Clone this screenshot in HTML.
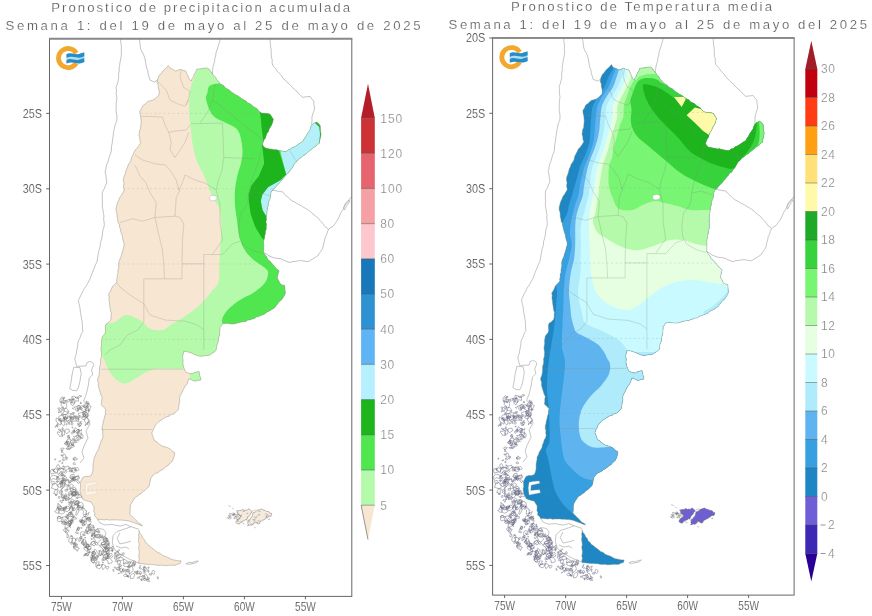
<!DOCTYPE html><html><head><meta charset="utf-8"><title>Pronostico</title><style>html,body{margin:0;padding:0;background:#fff}svg{display:block;will-change:transform}text{font-family:"Liberation Sans",sans-serif}</style></head><body>
<svg width="872" height="616" viewBox="0 0 872 616">
<rect width="872" height="616" fill="#fff"/>
<defs><clipPath id="cl"><path d="M168.3,65.5 L170.1,68.3 L173.0,69.4 L175.6,71.0 L178.0,70.3 L180.2,69.2 L182.9,70.2 L185.7,71.0 L187.5,74.7 L188.5,77.0 L189.4,79.3 L191.2,81.1 L191.9,78.9 L193.3,76.9 L194.0,74.7 L195.6,72.1 L196.7,69.2 L199.4,68.9 L202.1,68.6 L204.8,68.1 L207.5,68.0 L209.5,69.6 L210.9,71.8 L212.5,73.8 L213.9,75.8 L215.8,77.5 L216.8,79.9 L218.7,81.6 L220.0,83.8 L222.0,84.8 L224.0,85.9 L225.4,87.9 L227.4,88.9 L229.4,90.0 L231.4,91.9 L233.7,93.4 L236.0,95.0 L238.2,95.9 L240.1,97.4 L242.0,98.7 L244.0,100.0 L246.0,100.9 L247.4,102.8 L249.6,103.6 L251.5,104.7 L253.0,106.4 L255.0,107.4 L257.4,109.0 L259.1,111.4 L261.5,113.0 L264.2,113.3 L267.0,113.6 L269.7,113.9 L271.1,115.7 L272.2,117.6 L273.4,119.4 L272.7,121.9 L271.9,124.4 L270.6,126.7 L269.2,128.9 L268.5,131.4 L266.9,133.5 L266.0,135.9 L265.3,138.3 L263.8,140.3 L263.0,142.6 L262.4,145.0 L265.0,147.8 L267.3,148.5 L269.6,148.9 L271.9,149.2 L274.2,149.8 L276.6,149.7 L278.9,150.5 L281.3,150.8 L283.7,151.5 L286.2,151.5 L287.9,150.0 L290.1,149.3 L291.7,147.8 L294.6,146.7 L297.2,145.0 L299.9,143.1 L302.7,141.4 L304.0,139.0 L305.5,136.8 L306.8,134.4 L308.3,132.2 L309.9,130.0 L310.6,127.3 L311.9,124.9 L314.0,123.1 L316.5,122.1 L318.6,123.7 L320.2,125.8 L320.3,128.6 L320.4,131.3 L321.1,134.0 L320.7,136.3 L320.2,138.6 L319.7,140.9 L319.3,143.2 L317.3,144.5 L315.8,146.3 L313.7,147.5 L311.9,149.0 L310.1,150.5 L308.2,151.8 L306.6,153.5 L304.7,154.9 L302.7,156.0 L301.0,157.7 L298.8,159.0 L297.3,161.0 L295.4,162.5 L294.0,164.5 L292.8,166.7 L291.6,168.8 L289.9,170.7 L288.7,172.8 L286.6,174.2 L285.3,176.2 L283.5,177.9 L282.2,180.0 L280.4,181.6 L278.9,183.6 L277.2,185.3 L275.6,187.0 L274.3,189.0 L271.7,191.0 L270.7,193.6 L270.6,196.5 L269.9,199.2 L268.9,201.3 L268.4,203.5 L268.2,205.8 L267.4,207.9 L267.2,210.2 L266.9,212.6 L266.6,215.1 L266.2,217.5 L266.4,219.8 L265.9,222.1 L266.5,224.4 L266.2,226.7 L266.3,229.2 L265.3,231.5 L265.3,234.0 L264.6,236.3 L264.4,238.6 L263.7,240.8 L263.5,243.2 L263.9,245.5 L263.7,247.8 L263.7,250.1 L263.5,252.4 L265.1,254.8 L266.8,257.1 L268.0,259.7 L270.1,261.3 L271.8,263.3 L273.6,265.2 L275.2,267.3 L277.0,269.2 L279.1,270.7 L278.3,273.1 L277.9,275.6 L277.2,278.0 L278.8,280.7 L280.0,283.6 L282.1,284.9 L284.6,285.4 L284.9,287.8 L285.0,290.3 L285.5,292.7 L284.5,295.5 L282.8,298.0 L281.4,300.1 L279.4,301.6 L277.9,303.5 L276.3,305.4 L275.0,307.5 L273.0,308.7 L271.0,310.1 L269.0,311.2 L266.8,312.2 L265.0,313.8 L262.9,314.8 L260.7,315.5 L258.6,316.6 L256.3,317.1 L254.5,318.6 L252.1,319.0 L250.0,320.0 L247.8,320.1 L245.8,321.5 L243.6,321.5 L241.4,322.0 L239.2,322.4 L237.1,323.1 L235.0,323.8 L232.5,324.0 L230.0,323.8 L227.5,323.3 L225.0,323.4 L222.5,323.8 L221.5,325.8 L220.0,327.5 L220.0,330.0 L219.7,332.5 L219.5,335.1 L218.8,337.5 L218.3,340.0 L218.1,342.6 L216.9,344.9 L216.6,347.5 L216.2,350.0 L214.4,351.9 L212.1,353.3 L210.0,355.0 L207.5,355.5 L205.0,355.6 L202.5,356.2 L200.0,356.2 L197.4,355.6 L194.9,354.6 L192.5,353.5 L190.0,352.5 L186.9,351.7 L183.8,351.2 L183.1,354.4 L182.5,357.5 L183.2,359.9 L182.9,362.5 L183.1,365.0 L183.8,367.5 L184.8,370.1 L186.2,372.5 L189.3,373.4 L192.5,373.8 L194.4,372.5 L196.7,372.1 L198.8,371.2 L199.7,373.3 L199.6,375.7 L200.6,377.7 L200.9,380.0 L197.9,380.4 L195.0,381.2 L192.8,380.6 L190.9,379.4 L188.8,378.8 L188.1,380.9 L187.5,383.1 L186.2,385.0 L183.9,388.3 L182.8,390.8 L181.6,393.3 L180.2,395.7 L179.5,398.1 L179.8,400.6 L179.3,403.0 L178.8,406.2 L178.4,409.4 L176.1,411.7 L173.8,414.0 L171.2,414.6 L169.0,416.2 L166.4,416.8 L163.9,418.3 L161.5,419.9 L159.1,421.4 L157.4,423.1 L155.7,424.8 L154.5,426.9 L153.8,429.1 L152.5,431.1 L151.8,433.3 L152.7,435.7 L153.5,438.2 L154.5,440.6 L156.9,441.8 L158.6,443.9 L160.9,445.2 L163.0,446.5 L165.5,446.9 L167.9,447.8 L170.1,448.9 L172.1,451.1 L174.7,452.6 L174.4,455.1 L173.9,457.6 L172.9,459.9 L171.7,462.0 L169.6,463.4 L168.3,465.4 L166.0,466.7 L164.0,468.5 L161.8,470.0 L159.7,471.1 L157.9,472.7 L155.6,473.3 L153.6,474.6 L152.2,476.5 L150.8,478.3 L150.2,481.0 L149.7,483.8 L149.0,486.5 L146.9,488.4 L144.9,490.4 L142.6,492.0 L141.0,493.7 L138.9,494.8 L137.2,496.3 L135.2,497.5 L133.5,499.9 L131.9,502.3 L130.6,504.9 L130.2,507.2 L130.2,509.5 L130.2,511.7 L129.7,514.0 L131.6,515.8 L133.4,517.7 L135.2,519.5 L137.0,521.2 L138.6,523.1 L141.0,524.1 L142.6,526.0 L140.1,525.1 L137.7,524.1 L135.2,523.2 L133.0,522.3 L130.7,521.5 L128.4,520.9 L126.0,520.5 L123.6,520.3 L121.3,520.1 L118.9,520.1 L116.5,519.8 L114.2,519.9 L111.8,519.8 L109.4,520.1 L107.1,519.5 L104.7,519.9 L102.3,519.6 L100.0,519.3 L97.6,519.5 L96.4,517.4 L94.5,515.9 L94.8,513.6 L93.8,511.3 L94.0,509.0 L94.0,506.7 L92.5,504.5 L91.2,502.1 L88.4,501.3 L85.6,500.6 L82.9,499.4 L82.0,496.9 L80.7,494.6 L80.2,492.0 L80.0,489.7 L80.6,487.4 L80.4,485.1 L80.2,482.8 L81.5,480.0 L82.9,477.3 L85.6,476.4 L88.5,476.5 L91.2,475.5 L92.3,472.8 L93.0,470.0 L93.0,467.2 L93.0,464.9 L93.4,462.6 L93.9,460.3 L94.0,458.0 L95.3,455.6 L96.2,453.0 L97.6,450.7 L98.9,448.4 L99.3,445.8 L100.4,443.4 L101.1,440.9 L102.5,438.6 L103.1,436.0 L102.6,433.8 L102.8,431.4 L102.2,429.2 L102.2,426.9 L102.9,424.5 L103.2,421.9 L104.0,419.5 L104.4,417.0 L105.3,414.5 L105.4,411.9 L105.9,409.4 L103.6,407.2 L101.3,404.9 L101.7,402.4 L101.7,399.9 L102.2,397.5 L101.0,395.2 L100.3,392.7 L99.5,390.2 L98.8,387.9 L98.3,385.7 L98.5,383.2 L97.6,381.0 L97.6,378.7 L98.6,376.6 L99.1,374.5 L99.3,372.2 L99.5,370.0 L99.5,367.2 L100.4,364.6 L100.6,362.3 L100.4,360.0 L101.2,357.7 L101.3,355.4 L101.5,353.1 L101.1,350.8 L100.9,348.5 L101.3,346.2 L101.6,343.9 L101.4,341.6 L101.8,339.3 L102.2,337.0 L103.6,335.2 L105.0,333.4 L105.6,331.1 L105.3,328.8 L105.3,326.5 L105.9,324.2 L108.4,322.6 L110.5,320.5 L111.1,318.1 L111.1,315.6 L111.4,313.2 L110.5,311.0 L110.2,308.7 L109.9,306.3 L109.5,304.0 L109.3,301.5 L108.8,299.0 L109.1,296.5 L108.6,294.0 L110.1,291.7 L111.4,289.2 L112.3,286.6 L114.8,284.5 L116.9,282.0 L116.6,279.8 L117.3,277.6 L117.1,275.4 L118.0,273.2 L117.8,271.0 L118.4,268.8 L118.8,266.6 L118.6,264.4 L118.8,262.1 L119.6,260.0 L120.8,257.4 L121.5,254.6 L122.3,252.3 L123.0,250.0 L123.5,247.7 L124.2,245.4 L124.0,243.0 L123.2,240.8 L122.6,238.5 L122.4,236.2 L121.6,233.9 L120.8,231.7 L120.4,229.3 L119.6,227.0 L119.3,224.5 L118.0,222.2 L117.8,219.7 L117.1,217.6 L117.1,215.3 L116.9,213.1 L116.1,210.9 L116.0,208.7 L116.5,206.4 L117.1,204.2 L117.8,202.0 L118.9,199.9 L119.6,197.7 L121.3,195.4 L122.8,192.9 L124.2,190.4 L123.7,188.2 L123.5,186.0 L124.0,183.8 L123.5,181.6 L123.3,179.4 L123.9,177.1 L124.8,174.8 L125.5,172.6 L126.0,170.2 L127.3,167.7 L128.1,165.1 L129.7,162.8 L130.9,160.8 L131.3,158.4 L132.1,156.2 L133.2,154.2 L134.3,152.1 L135.2,150.0 L137.1,148.1 L139.0,145.4 L140.7,142.6 L139.8,140.2 L139.7,137.6 L138.9,135.2 L139.3,132.9 L139.5,130.6 L140.6,128.4 L140.7,126.1 L141.0,123.8 L141.1,121.5 L140.9,119.2 L140.7,116.9 L140.0,114.2 L139.8,111.4 L141.4,108.8 L142.6,105.9 L144.7,104.6 L146.3,102.9 L148.1,101.3 L150.7,100.7 L153.1,99.9 L155.4,98.6 L157.2,96.7 L159.1,94.9 L159.2,92.4 L158.9,89.9 L158.2,87.5 L158.2,85.0 L157.2,82.7 L157.3,80.2 L158.1,77.9 L159.1,75.6 L160.7,73.8 L162.2,72.0 L163.7,70.1 L166.2,68.0Z M138.9,530.5 L139.8,533.1 L141.6,535.3 L142.6,537.9 L144.3,539.5 L145.0,541.8 L146.9,543.2 L148.1,545.2 L150.1,546.3 L151.7,548.0 L153.6,549.2 L155.4,550.7 L157.5,552.3 L160.1,553.3 L162.1,555.1 L164.6,556.2 L167.0,557.0 L169.2,558.1 L171.4,559.3 L173.8,559.9 L176.2,560.3 L178.6,560.8 L181.1,560.8 L180.2,563.6 L178.0,564.0 L176.0,565.1 L173.8,565.4 L171.4,565.1 L168.9,565.3 L166.4,565.6 L164.0,565.6 L161.6,565.1 L159.1,565.4 L156.9,565.2 L154.7,564.7 L152.5,564.6 L150.3,564.3 L148.1,564.5 L145.8,564.2 L143.5,563.9 L141.2,563.7 L138.9,563.6 L138.7,561.4 L139.3,559.2 L138.7,557.0 L139.1,554.8 L139.3,552.6 L139.0,550.4 L138.6,548.2 L139.2,545.9 L139.0,543.7 L138.6,541.5 L138.5,539.3 L138.9,537.1 L138.5,534.9 L139.2,532.7Z"/></clipPath><clipPath id="cr"><path d="M611.4,64.6 L613.2,67.4 L616.1,68.5 L618.7,70.1 L621.1,69.4 L623.3,68.3 L626.0,69.3 L628.8,70.1 L630.6,73.8 L631.6,76.1 L632.5,78.4 L634.3,80.2 L635.0,78.0 L636.4,76.0 L637.1,73.8 L638.7,71.2 L639.8,68.3 L642.5,68.0 L645.2,67.7 L647.9,67.2 L650.6,67.1 L652.6,68.7 L654.0,70.9 L655.6,72.8 L657.0,74.9 L658.9,76.6 L659.9,79.0 L661.8,80.7 L663.1,82.8 L665.1,83.9 L667.1,85.0 L668.5,87.0 L670.5,88.0 L672.5,89.1 L674.5,91.0 L676.8,92.5 L679.1,94.1 L681.3,95.0 L683.2,96.5 L685.1,97.8 L687.1,99.1 L689.1,100.0 L690.5,101.9 L692.7,102.7 L694.6,103.8 L696.1,105.5 L698.1,106.5 L700.5,108.1 L702.2,110.5 L704.6,112.1 L707.3,112.4 L710.1,112.7 L712.8,113.0 L714.2,114.8 L715.3,116.7 L716.5,118.5 L715.8,121.0 L715.0,123.5 L713.7,125.8 L712.3,128.0 L711.6,130.5 L710.0,132.6 L709.1,135.0 L708.4,137.4 L706.9,139.4 L706.1,141.7 L705.5,144.1 L708.1,146.9 L710.4,147.6 L712.7,148.0 L715.0,148.3 L717.3,148.9 L719.7,148.8 L722.0,149.6 L724.4,149.9 L726.8,150.6 L729.3,150.6 L731.0,149.1 L733.2,148.4 L734.8,146.9 L737.7,145.8 L740.3,144.1 L743.0,142.2 L745.8,140.5 L747.1,138.1 L748.6,135.9 L749.9,133.5 L751.4,131.3 L753.0,129.1 L753.7,126.4 L755.0,124.0 L757.1,122.2 L759.6,121.2 L761.7,122.8 L763.3,124.9 L763.4,127.7 L763.5,130.4 L764.2,133.1 L763.8,135.4 L763.3,137.7 L762.8,140.0 L762.4,142.3 L760.4,143.6 L758.9,145.4 L756.8,146.6 L755.0,148.1 L753.2,149.6 L751.3,150.9 L749.7,152.6 L747.8,154.0 L745.8,155.1 L744.1,156.8 L741.9,158.1 L740.4,160.1 L738.5,161.6 L737.1,163.6 L735.9,165.8 L734.7,167.9 L733.0,169.8 L731.8,171.9 L729.7,173.3 L728.4,175.3 L726.6,177.0 L725.3,179.1 L723.5,180.7 L722.0,182.7 L720.3,184.4 L718.7,186.1 L717.4,188.1 L714.8,190.1 L713.8,192.7 L713.7,195.6 L713.0,198.3 L712.0,200.4 L711.5,202.6 L711.3,204.9 L710.5,207.0 L710.3,209.3 L710.0,211.7 L709.7,214.2 L709.3,216.6 L709.5,218.9 L709.0,221.2 L709.6,223.5 L709.3,225.8 L709.4,228.3 L708.4,230.6 L708.4,233.1 L707.7,235.4 L707.5,237.7 L706.8,239.9 L706.6,242.3 L707.0,244.6 L706.8,246.9 L706.8,249.2 L706.6,251.5 L708.2,253.9 L709.9,256.2 L711.1,258.8 L713.2,260.4 L714.9,262.4 L716.7,264.3 L718.3,266.4 L720.1,268.3 L722.2,269.8 L721.4,272.2 L721.0,274.7 L720.3,277.1 L721.9,279.8 L723.1,282.7 L725.2,284.0 L727.7,284.5 L728.0,286.9 L728.1,289.4 L728.6,291.8 L727.6,294.6 L725.9,297.1 L724.5,299.2 L722.5,300.7 L721.0,302.6 L719.4,304.5 L718.1,306.6 L716.1,307.8 L714.1,309.2 L712.1,310.3 L709.9,311.3 L708.1,312.9 L706.0,313.9 L703.8,314.6 L701.7,315.7 L699.4,316.2 L697.6,317.7 L695.2,318.1 L693.1,319.1 L690.9,319.2 L688.9,320.6 L686.7,320.6 L684.5,321.1 L682.3,321.5 L680.2,322.2 L678.1,322.9 L675.6,323.1 L673.1,322.9 L670.6,322.4 L668.1,322.5 L665.6,322.9 L664.6,324.9 L663.1,326.6 L663.1,329.1 L662.8,331.6 L662.6,334.2 L661.9,336.6 L661.4,339.1 L661.2,341.7 L660.0,344.0 L659.7,346.6 L659.4,349.1 L657.5,351.0 L655.2,352.4 L653.1,354.1 L650.6,354.6 L648.1,354.7 L645.6,355.3 L643.1,355.4 L640.5,354.7 L638.0,353.7 L635.6,352.6 L633.1,351.6 L630.0,350.8 L626.9,350.4 L626.2,353.5 L625.6,356.6 L626.3,359.0 L626.0,361.6 L626.2,364.1 L626.9,366.6 L627.9,369.2 L629.4,371.6 L632.4,372.5 L635.6,372.9 L637.5,371.6 L639.8,371.2 L641.9,370.4 L642.8,372.4 L642.7,374.8 L643.7,376.8 L644.0,379.1 L641.0,379.5 L638.1,380.4 L635.9,379.7 L634.0,378.5 L631.9,377.9 L631.2,380.0 L630.6,382.2 L629.4,384.1 L627.0,387.4 L625.9,389.9 L624.7,392.4 L623.3,394.8 L622.6,397.2 L622.9,399.7 L622.4,402.1 L621.9,405.3 L621.5,408.5 L619.2,410.8 L616.9,413.1 L614.3,413.7 L612.1,415.3 L609.5,415.9 L607.0,417.4 L604.6,419.0 L602.2,420.5 L600.5,422.2 L598.8,423.9 L597.6,426.0 L596.9,428.2 L595.6,430.2 L594.9,432.4 L595.8,434.8 L596.6,437.3 L597.6,439.7 L600.0,440.9 L601.7,443.0 L604.0,444.3 L606.1,445.6 L608.6,446.0 L611.0,446.9 L613.2,448.0 L615.2,450.2 L617.8,451.7 L617.5,454.2 L617.0,456.7 L616.0,459.0 L614.8,461.1 L612.7,462.5 L611.4,464.5 L609.1,465.8 L607.1,467.6 L604.9,469.1 L602.8,470.2 L601.0,471.8 L598.7,472.4 L596.7,473.7 L595.3,475.6 L593.9,477.4 L593.3,480.1 L592.8,482.9 L592.1,485.6 L590.0,487.5 L588.0,489.5 L585.7,491.1 L584.1,492.8 L582.0,493.9 L580.3,495.4 L578.3,496.6 L576.6,499.0 L575.0,501.4 L573.7,504.0 L573.3,506.3 L573.3,508.6 L573.3,510.8 L572.8,513.1 L574.7,514.9 L576.5,516.8 L578.3,518.6 L580.1,520.3 L581.7,522.2 L584.1,523.2 L585.7,525.1 L583.2,524.2 L580.8,523.2 L578.3,522.3 L576.1,521.4 L573.8,520.6 L571.5,520.0 L569.1,519.6 L566.7,519.4 L564.4,519.2 L562.0,519.2 L559.6,518.9 L557.3,519.0 L554.9,518.9 L552.5,519.2 L550.2,518.6 L547.8,519.0 L545.4,518.7 L543.1,518.4 L540.7,518.6 L539.5,516.5 L537.6,515.0 L537.9,512.7 L536.9,510.4 L537.1,508.1 L537.1,505.8 L535.6,503.6 L534.3,501.2 L531.5,500.4 L528.7,499.7 L526.0,498.5 L525.1,496.0 L523.8,493.7 L523.3,491.1 L523.1,488.8 L523.7,486.5 L523.5,484.2 L523.3,481.9 L524.6,479.1 L526.0,476.4 L528.7,475.5 L531.6,475.6 L534.3,474.6 L535.4,471.9 L536.1,469.1 L536.1,466.3 L536.1,464.0 L536.5,461.7 L537.0,459.4 L537.1,457.1 L538.4,454.7 L539.3,452.1 L540.7,449.8 L542.0,447.5 L542.4,444.9 L543.5,442.5 L544.2,440.0 L545.6,437.7 L546.2,435.1 L545.7,432.9 L545.9,430.5 L545.3,428.3 L545.3,426.0 L546.0,423.6 L546.3,421.0 L547.1,418.6 L547.5,416.1 L548.4,413.6 L548.5,411.0 L549.0,408.5 L546.7,406.3 L544.4,404.0 L544.8,401.5 L544.8,399.0 L545.3,396.6 L544.1,394.3 L543.4,391.8 L542.6,389.3 L541.9,387.0 L541.4,384.8 L541.6,382.3 L540.7,380.1 L540.7,377.8 L541.7,375.7 L542.2,373.6 L542.4,371.3 L542.6,369.1 L542.6,366.3 L543.5,363.7 L543.7,361.4 L543.5,359.1 L544.3,356.8 L544.4,354.5 L544.6,352.2 L544.2,349.9 L544.0,347.6 L544.4,345.3 L544.7,343.0 L544.5,340.7 L544.9,338.4 L545.3,336.1 L546.7,334.3 L548.1,332.5 L548.7,330.2 L548.4,327.9 L548.4,325.6 L549.0,323.3 L551.5,321.7 L553.6,319.6 L554.2,317.2 L554.2,314.7 L554.5,312.3 L553.6,310.1 L553.3,307.8 L553.0,305.4 L552.6,303.1 L552.4,300.6 L551.9,298.1 L552.2,295.6 L551.7,293.1 L553.2,290.8 L554.5,288.3 L555.4,285.7 L557.9,283.6 L560.0,281.1 L559.7,278.9 L560.4,276.7 L560.2,274.5 L561.1,272.3 L560.9,270.1 L561.5,267.9 L561.9,265.7 L561.7,263.5 L561.9,261.2 L562.7,259.1 L563.9,256.5 L564.6,253.7 L565.4,251.4 L566.1,249.1 L566.6,246.8 L567.3,244.5 L567.1,242.1 L566.3,239.9 L565.7,237.6 L565.5,235.3 L564.7,233.0 L563.9,230.8 L563.5,228.4 L562.7,226.1 L562.4,223.6 L561.1,221.3 L560.9,218.8 L560.2,216.7 L560.2,214.4 L560.0,212.2 L559.2,210.0 L559.1,207.8 L559.6,205.5 L560.2,203.3 L560.9,201.1 L562.0,199.0 L562.7,196.8 L564.4,194.5 L565.9,192.0 L567.3,189.5 L566.8,187.3 L566.6,185.1 L567.1,182.9 L566.6,180.7 L566.4,178.5 L567.0,176.2 L567.9,173.9 L568.6,171.7 L569.1,169.3 L570.4,166.8 L571.2,164.2 L572.8,161.9 L574.0,159.9 L574.4,157.5 L575.2,155.3 L576.3,153.3 L577.4,151.2 L578.3,149.1 L580.2,147.2 L582.1,144.5 L583.8,141.7 L582.9,139.3 L582.8,136.7 L582.0,134.3 L582.4,132.0 L582.6,129.7 L583.7,127.5 L583.8,125.2 L584.1,122.9 L584.2,120.6 L584.0,118.3 L583.8,116.0 L583.1,113.3 L582.9,110.5 L584.5,107.9 L585.7,105.0 L587.8,103.7 L589.4,102.0 L591.2,100.4 L593.8,99.8 L596.2,99.0 L598.5,97.7 L600.3,95.8 L602.2,94.0 L602.3,91.5 L602.0,89.0 L601.3,86.6 L601.3,84.1 L600.3,81.8 L600.4,79.3 L601.2,77.0 L602.2,74.7 L603.8,72.9 L605.3,71.1 L606.8,69.2 L609.3,67.1Z M582.0,529.6 L582.9,532.2 L584.7,534.4 L585.7,537.0 L587.4,538.6 L588.1,540.9 L590.0,542.3 L591.2,544.3 L593.2,545.4 L594.8,547.1 L596.7,548.3 L598.5,549.8 L600.6,551.4 L603.2,552.4 L605.2,554.2 L607.7,555.3 L610.1,556.1 L612.3,557.2 L614.5,558.4 L616.9,559.0 L619.3,559.4 L621.7,559.9 L624.2,559.9 L623.3,562.7 L621.1,563.1 L619.1,564.2 L616.9,564.5 L614.5,564.2 L612.0,564.4 L609.5,564.7 L607.1,564.7 L604.7,564.2 L602.2,564.5 L600.0,564.3 L597.8,563.8 L595.6,563.7 L593.4,563.4 L591.2,563.6 L588.9,563.3 L586.6,563.0 L584.3,562.8 L582.0,562.7 L581.8,560.5 L582.4,558.3 L581.8,556.1 L582.2,553.9 L582.4,551.7 L582.1,549.5 L581.7,547.3 L582.3,545.0 L582.1,542.8 L581.7,540.6 L581.6,538.4 L582.0,536.2 L581.6,534.0 L582.3,531.8Z"/></clipPath>
<clipPath id="fl"><rect x="49.5" y="38.6" width="302.3" height="557.8"/></clipPath><clipPath id="fr"><rect x="492.6" y="38.1" width="301.5" height="557"/></clipPath></defs>
<g clip-path="url(#fl)">
<g clip-path="url(#cl)">
<rect x="49" y="38" width="304" height="560" fill="#f7e6d2"/>
<path d="M196.7,60.0 C196.7,61.5 197.6,64.9 196.7,69.2 C195.8,73.5 192.4,80.8 191.2,85.7 C190.0,90.6 189.7,93.7 189.4,98.6 C189.1,103.5 189.1,109.2 189.4,115.0 C189.7,120.8 190.5,127.6 191.2,133.4 C191.9,139.2 192.7,145.2 193.8,150.0 C194.8,154.8 195.8,158.3 197.5,162.5 C199.2,166.7 201.9,170.8 203.8,175.0 C205.6,179.2 207.0,183.3 208.8,187.5 C210.5,191.7 212.2,196.5 214.0,200.0 C215.8,203.5 218.2,203.9 219.4,208.3 C220.6,212.8 221.1,220.6 221.3,226.7 C221.5,232.8 220.7,238.9 220.4,245.0 C220.1,251.1 219.7,257.3 219.4,263.4 C219.1,269.5 219.7,277.1 218.5,281.7 C217.3,286.3 215.1,287.1 212.0,291.0 C208.9,294.9 204.5,300.8 200.0,305.0 C195.5,309.2 189.6,313.1 185.0,316.2 C180.4,319.4 176.2,321.5 172.5,323.8 C168.8,326.0 166.2,329.2 162.5,330.0 C158.8,330.8 153.8,330.4 150.0,328.8 C146.2,327.1 144.0,322.3 140.0,320.0 C136.0,317.7 130.4,314.7 126.2,315.0 C122.1,315.3 118.4,320.6 115.0,322.0 C111.6,323.4 107.4,323.1 105.9,323.3 L95.0,323.0 L95.0,354.0 L101.0,354.5 L103.5,358.0 L105.5,363.0 L108.0,369.0 L111.5,374.5 L116.0,379.5 L121.0,382.8 L125.0,383.8 L130.0,382.0 L135.0,378.8 L145.0,372.5 L155.0,368.8 L190.0,368.8 L190.0,385.0 L210.0,385.0 L300.0,385.0 L345.0,300.0 L345.0,60.0Z" fill="#b4faaa"/>
<path d="M222.0,83.0 C220.0,83.4 212.4,83.9 210.0,85.5 C207.6,87.1 208.1,90.1 207.5,92.5 C206.9,94.9 205.4,96.2 206.2,100.0 C207.1,103.8 209.4,111.2 212.5,115.0 C215.6,118.8 221.2,120.4 225.0,122.5 C228.8,124.6 232.5,125.4 235.0,127.5 C237.5,129.6 238.8,131.2 240.0,135.0 C241.2,138.8 242.3,145.4 242.5,150.0 C242.7,154.6 242.1,158.3 241.2,162.5 C240.4,166.7 238.5,170.4 237.5,175.0 C236.5,179.6 235.4,185.1 235.0,190.0 C234.6,194.9 234.7,199.8 235.0,204.7 C235.3,209.6 236.1,213.9 236.9,219.4 C237.7,224.9 238.2,232.5 239.6,237.7 C241.0,242.9 242.8,246.9 245.1,250.6 C247.4,254.3 249.9,256.6 253.4,259.7 C256.9,262.8 263.8,266.4 266.2,268.9 C268.6,271.3 268.3,271.9 268.0,274.4 C267.7,276.8 266.8,280.5 264.4,283.6 C262.0,286.7 257.5,290.1 253.4,292.8 C249.3,295.5 244.2,297.3 240.0,300.0 C235.8,302.7 231.4,306.0 228.5,309.0 C225.6,312.0 223.4,315.5 222.5,318.0 C221.6,320.5 221.8,322.0 223.0,324.0 C224.2,326.0 228.8,329.0 230.0,330.0 L300.0,330.0 L345.0,200.0 L345.0,60.0 L222.0,60.0Z" fill="#50e650"/>
<path d="M278.9,145.0 L286.2,174.4 L280.7,179.9 L267.9,187.2 L262.4,194.6 L260.7,201.0 L262.6,210.2 L265.9,216.0 L275.0,216.0 L330.0,160.0 L330.0,115.0 L300.0,115.0 L290.0,145.0Z" fill="#b4f0fa"/>
<path d="M259.6,110.0 L261.0,120.0 L261.5,127.0 L263.3,141.4 L266.5,140.0 L285.0,120.0 L275.0,108.0Z" fill="#1eb41e"/>
<path d="M262.0,144.0 L264.2,163.4 L258.7,176.2 L251.4,185.4 L248.6,194.6 L248.8,201.0 L250.6,213.9 L255.2,226.7 L261.7,237.7 L265.0,241.0 L268.0,234.0 L267.0,217.5 L262.6,210.2 L260.7,201.0 L262.4,194.6 L267.9,187.2 L280.7,179.9 L286.2,174.4 L278.9,150.5 L278.9,144.0Z" fill="#1eb41e"/>
<path d="M315.0,120.0 L322.0,123.0 L323.0,134.0 L321.5,144.0 L319.2,143.5 L320.0,134.0 L319.2,127.0 L315.5,123.5Z" fill="#1eb41e"/>
<path d="M60,113.4 H340 M60,188.7 H340 M60,264 H340 M60,339.3 H340 M60,414.4 H340 M60,489.9 H340" fill="none" stroke="#999" stroke-width="0.5" stroke-dasharray="2 2.5" opacity="0.45"/>
</g>
<g fill="none" stroke="#9a9a9a" stroke-width="0.6"><path d="M120.6,38.8 L120.7,41.6 L121.1,44.3 L121.5,47.1 L121.2,49.9 L121.5,52.7 L121.3,55.3 L120.9,57.8 L120.4,60.4 L119.9,62.9 L119.6,65.5 L119.0,68.1 L119.3,70.7 L118.7,73.2 L118.5,75.8 L118.7,78.4 L118.0,81.5 L117.2,84.6 L116.0,87.5 L116.5,90.3 L116.2,93.1 L116.6,95.8 L116.9,98.6 L116.4,101.1 L116.2,103.7 L116.2,106.3 L116.2,108.8 L116.0,111.4 L116.8,115.0 L116.9,118.7 L116.6,121.5 L115.3,124.1 L114.7,126.9 L114.1,129.7 L113.5,132.3 L113.3,134.9 L112.9,137.4 L112.6,140.0 L112.3,142.6 L111.5,146.3 L111.4,150.0 L110.8,153.2 L109.5,156.1 L108.6,159.2 L108.0,161.8 L106.9,164.2 L106.1,166.8 L105.9,169.5 L105.0,172.0 L105.8,174.7 L106.1,177.5 L106.5,180.2 L106.8,183.0 L105.5,185.4 L104.6,188.1 L103.2,190.5 L102.2,193.1 L102.4,196.1 L102.2,199.1 L102.5,202.0 L102.2,205.0 L102.5,207.8 L103.1,210.5 L103.3,213.3 L104.0,216.0 L103.6,218.8 L104.0,221.5 L104.3,224.2 L104.0,227.0 L103.1,229.5 L102.6,232.1 L102.4,234.8 L101.9,237.4 L101.3,240.0 L100.4,242.5 L100.4,245.2 L99.8,247.7 L98.9,250.2 L98.5,252.8 L97.9,255.8 L97.4,258.9 L97.0,262.0 L95.4,264.9 L94.3,268.0 L93.0,271.0 L91.9,273.8 L90.9,276.6 L89.8,279.3 L88.4,282.0 L87.1,284.4 L85.7,286.6 L84.1,288.8 L82.9,291.2 L81.7,293.5 L80.6,295.8 L79.6,298.1 L78.4,300.4 L78.9,303.5 L79.7,306.4 L80.2,309.5 L80.4,312.3 L81.0,315.0 L81.4,317.8 L82.0,320.5 L82.3,323.2 L82.4,326.0 L82.5,328.8 L82.9,331.5 L81.4,333.6 L80.6,336.1 L79.7,338.5 L78.4,340.7 L77.8,343.4 L77.7,346.3 L77.1,349.0 L76.5,351.7 L76.3,354.2 L75.3,356.6 L74.7,359.0 L75.5,361.4 L76.0,363.8 L76.5,366.3"/><path d="M138.9,38.8 L139.7,41.3 L140.1,43.8 L140.3,46.4 L140.7,49.0 L142.0,51.8 L143.5,54.5 L144.5,57.2 L145.2,59.9 L145.7,62.7 L146.2,65.5 L146.7,68.3 L147.9,70.9 L148.1,73.8 L149.0,76.5 L150.0,80.2 L154.5,82.0 L157.3,80.2"/><path d="M220.0,38.8 L219.6,41.7 L218.7,44.5 L217.9,47.2 L217.0,50.0 L216.0,52.8 L215.7,55.7 L214.8,58.5 L214.6,61.4 L213.7,64.2 L213.0,67.0 L212.5,70.4 L212.5,73.8"/><path d="M270.0,38.8 L270.2,41.4 L270.4,44.1 L270.5,46.7 L271.2,49.3 L271.1,51.9 L271.2,54.5 L271.4,57.2 L272.2,59.7 L272.1,62.4 L272.5,65.0 L274.2,67.2 L276.1,69.3 L277.6,71.7 L279.6,73.6 L281.5,75.7 L282.9,78.1 L285.0,80.0 L286.9,82.1 L289.1,83.9 L291.1,85.9 L293.0,88.0 L295.0,90.0 L297.2,91.6 L298.8,93.7 L300.7,95.6 L302.8,97.3 L306.4,96.8 L310.0,96.4 L311.7,98.9 L313.8,101.0 L313.9,104.7 L314.7,108.3 L313.7,111.4 L312.7,114.4 L311.9,117.5 L312.0,121.0 L311.5,124.5"/><path d="M271.7,190.0 L274.4,190.5 L277.1,191.0 L279.8,191.6 L282.6,191.8 L284.2,193.9 L286.1,195.7 L288.2,197.3 L290.0,199.2 L292.3,201.0 L295.0,202.2 L297.4,203.8 L299.7,204.9 L302.0,206.1 L304.0,207.6 L306.3,208.7 L308.4,210.2 L310.8,211.9 L312.9,213.9 L315.2,215.8 L317.6,217.5 L319.3,219.9 L321.6,221.9 L323.4,224.2 L325.0,226.7 L328.6,229.4"/><path d="M343.5,208.0 L345.0,204.0 L348.0,200.5 L350.0,201.0 L348.5,203.2 L347.0,205.5 L345.6,207.7 L344.5,210.0 L343.5,208.0"/><path d="M263.5,252.4 L266.3,253.8 L268.8,255.8 L271.7,257.0 L274.7,258.0 L277.8,258.5 L280.9,258.8 L283.8,260.2 L286.9,261.5 L290.0,262.5 L293.0,261.5 L296.2,261.3 L299.3,260.6 L302.4,260.7 L305.3,261.4 L308.4,261.6 L310.7,260.2 L313.0,258.8 L315.3,257.4 L317.6,256.0 L319.0,253.8 L320.6,251.6 L322.1,249.4 L323.1,246.9 L323.6,243.8 L324.6,240.8 L325.0,237.7 L326.5,235.1 L327.3,232.1 L328.6,229.4 L330.6,227.7 L333.0,226.5 L334.7,224.0 L336.5,221.6 L338.0,219.0 L339.4,216.3 L340.4,213.6 L342.0,211.0 L343.5,208.7 L344.5,206.3 L346.0,204.0 L348.0,201.7 L349.5,199.0 L351.8,196.5"/><path d="M76.6,367.5 L73.8,367.2 L72.0,375.0 L70.9,383.0 L69.7,388.4 L73.0,390.5 L76.6,390.7 L78.5,387.0 L80.0,381.0 L81.2,373.4 L80.0,367.6 L76.6,367.5"/><path d="M76.5,366.3 L81.0,366.2 L85.9,365.9 L87.0,362.5 L89.5,361.5 L91.6,361.9 L93.9,364.2 L91.6,370.0 L92.8,374.6 L89.3,378.0 L88.2,386.0 L85.9,395.3 L83.6,401.0 L86.0,404.0 L89.0,410.0 L87.0,417.0 L90.0,424.0 L86.0,431.0 L88.0,438.0 L84.0,446.0 L82.0,452.0 L84.0,458.0 L80.0,463.0"/><path d="M139.0,529.4 L135.0,528.0 L130.9,526.7 L125.4,528.8 L117.1,531.5 L113.0,535.6 L112.3,542.5 L114.4,549.4 L121.3,554.9 L130.0,559.5 L139.1,563.1"/><path d="M119.9,532.9 L117.1,538.4 L119.9,543.9 L126.8,542.5 L130.9,541.1"/><path d="M116.0,546.0 L121.0,548.0 L126.0,547.0 L129.0,549.0"/><path d="M95.1,530.1 L99.0,528.5 L103.4,529.4 L106.1,532.9 L105.0,536.0 L103.4,537.0 L96.5,537.7 L94.0,534.0 L95.1,530.1"/><path d="M97.6,519.5 L100.0,523.0 L105.0,525.0 L112.0,524.5 L120.0,526.0 L126.0,524.5 L130.9,526.7"/><path d="M185.9,563.8 L189.0,562.2 L192.0,562.8 L195.0,561.4 L198.3,561.0 L196.0,562.8 L192.0,563.8 L188.0,564.3 L185.9,563.8"/></g><path fill="none" stroke="#777" stroke-width="0.5" d="M70.2,400.4 L71.6,399.2 L74.1,399.3 L74.2,401.8 L75.1,403.0 L73.9,403.5 L72.9,405.7 L70.6,404.1 L71.5,402.1Z M59.9,408.9 L59.7,409.2 L59.3,409.1 L58.7,409.3 L58.3,408.9 L57.8,408.3 L58.5,408.0 L59.1,407.8 L59.8,408.1 L60.4,408.4Z M80.6,402.8 L80.3,402.3 L80.8,402.4 L81.0,402.4 L81.3,402.4 L81.2,402.8 L81.2,403.0 L81.4,403.6 L80.9,403.4 L80.4,403.9 L80.6,403.1Z M70.1,399.5 L69.7,401.2 L68.6,401.8 L67.3,402.3 L66.9,400.2 L69.0,399.6Z M87.9,408.0 L86.1,406.5 L88.0,405.6 L88.6,403.3 L89.7,405.6 L91.1,406.3 L90.5,407.9 L89.9,409.1 L88.4,411.5Z M79.5,407.7 L80.0,407.4 L80.3,407.3 L80.7,407.4 L80.5,407.8 L80.4,408.4 L79.7,408.4Z M86.7,401.2 L86.9,402.1 L87.4,402.7 L87.6,403.7 L86.9,403.0 L86.6,403.1 L86.1,402.6 L86.1,401.9 L86.2,401.6 L86.2,400.9Z M84.6,408.1 L84.2,407.5 L84.1,407.2 L82.7,406.6 L84.0,406.3 L84.2,405.3 L84.9,406.0 L85.9,405.7 L86.0,406.7 L85.5,407.3 L85.0,407.6Z M87.9,406.3 L89.1,406.7 L88.0,407.4 L87.5,407.6 L87.0,407.9 L86.3,407.6 L86.7,406.9 L86.9,406.4 L87.4,405.9Z M85.7,407.2 L83.8,406.5 L84.0,404.8 L84.7,404.0 L85.5,403.9 L88.0,403.5 L87.5,405.9Z M89.5,410.8 L89.3,411.1 L88.9,410.9 L88.9,410.6 L88.1,410.0 L88.7,409.9 L89.3,410.3 L90.1,410.3 L89.8,410.7Z M75.7,397.6 L75.5,398.2 L75.4,397.6 L75.5,397.2 L75.5,396.9 L75.6,396.8 L75.7,396.9 L75.9,397.1 L75.9,397.6Z M62.2,396.6 L63.5,397.6 L63.7,399.2 L63.5,400.2 L64.2,403.8 L62.3,401.5 L60.2,402.5 L59.9,399.8 L60.9,397.8Z M79.0,408.7 L79.3,409.3 L78.5,409.6 L78.1,409.5 L77.6,409.6 L77.6,409.2 L77.2,408.8 L77.5,408.1 L78.2,407.7 L78.5,408.2 L78.8,408.4Z M62.8,398.1 L63.3,397.8 L64.8,397.1 L65.0,398.1 L63.6,398.6 L62.8,399.1 L61.5,399.0Z M78.8,405.4 L79.1,407.0 L79.2,407.8 L81.7,409.8 L78.5,409.1 L77.5,411.4 L75.8,410.4 L75.5,408.7 L73.7,407.1 L76.8,407.0 L77.4,406.3Z M88.0,404.1 L87.4,403.8 L86.6,402.8 L87.6,401.7 L88.9,402.3 L89.0,403.3 L88.9,404.0Z M81.1,407.5 L81.5,407.6 L82.0,407.8 L82.2,408.2 L82.5,408.7 L81.9,408.4 L81.7,408.5 L81.3,408.1 L81.3,407.9Z M64.3,400.4 L65.7,400.9 L64.2,402.3 L62.1,402.4 L60.2,401.9 L62.2,400.5 L63.8,399.8Z M86.7,411.1 L85.7,410.9 L85.6,410.2 L86.6,410.3 L87.3,410.2 L87.1,410.7 L87.3,411.1Z M80.1,396.1 L81.7,396.1 L79.6,397.3 L78.4,398.1 L76.4,398.8 L78.0,397.1 L78.6,396.4 L80.0,395.2Z M66.6,404.4 L66.6,406.4 L65.3,408.8 L62.9,408.4 L62.5,406.5 L61.1,405.5 L61.3,402.8 L64.0,403.4 L66.2,402.4Z M63.4,409.5 L62.4,409.4 L61.5,409.6 L61.0,408.6 L61.2,407.6 L62.3,407.9 L63.6,407.0 L63.6,408.4Z M65.4,400.9 L65.6,400.5 L66.4,400.4 L66.7,400.7 L66.6,400.9 L66.6,401.2 L66.1,401.3 L65.4,401.6 L64.9,401.3Z M72.5,408.3 L72.6,407.8 L73.3,408.6 L73.6,408.9 L73.5,409.1 L73.4,409.3 L72.9,409.0Z M77.7,396.9 L78.4,398.9 L78.4,401.3 L75.4,400.6 L74.5,403.0 L72.4,403.0 L71.7,400.8 L71.8,398.9 L71.9,396.5 L74.2,396.3 L75.5,397.4Z M74.1,399.3 L73.8,400.1 L72.8,399.9 L73.0,398.8 L72.9,397.7 L73.7,398.3 L74.0,398.8Z M86.2,408.8 L86.6,409.1 L86.0,409.5 L85.6,409.9 L84.9,409.9 L85.2,409.3 L84.9,408.9 L85.6,408.8Z M76.8,409.0 L77.6,407.8 L76.4,406.4 L77.9,405.8 L79.5,405.1 L80.1,406.6 L79.7,407.7 L79.3,408.4 L78.8,408.9 L78.0,408.9Z M69.6,400.0 L69.4,399.8 L69.6,399.3 L70.1,399.1 L70.5,399.2 L70.2,399.6 L70.1,400.2Z M84.6,407.4 L86.6,408.5 L85.2,409.3 L85.7,412.1 L82.7,410.9 L80.9,408.6 L80.3,406.1 L82.7,405.7Z M71.5,400.9 L72.9,399.0 L72.7,400.7 L72.9,401.2 L72.2,402.4 L71.1,402.8 L70.4,402.7 L70.9,401.6Z M82.4,412.4 L83.2,412.4 L84.0,413.9 L85.3,415.5 L84.8,416.5 L83.9,415.9 L82.9,415.3 L82.4,413.7Z M75.2,419.7 L75.5,418.2 L75.5,417.3 L75.6,416.4 L76.2,415.8 L77.2,416.6 L78.3,418.0 L78.5,420.0 L77.1,419.6 L77.0,420.6 L76.3,420.3Z M74.6,412.7 L73.3,414.8 L74.4,416.4 L73.3,417.9 L71.8,416.1 L69.2,417.4 L70.5,415.1 L70.0,413.7 L71.4,413.5 L72.6,412.5Z M84.7,421.6 L84.4,419.7 L85.5,419.1 L86.5,417.0 L88.5,419.3 L89.8,421.6 L87.8,422.0 L88.1,424.8 L86.0,423.4Z M79.0,418.4 L78.8,421.6 L75.6,421.0 L72.5,421.3 L73.7,418.8 L75.7,417.8Z M79.7,425.9 L79.2,425.8 L79.8,425.6 L79.8,425.4 L80.2,425.5 L80.9,425.2 L80.8,425.5 L80.7,425.7 L80.7,425.9 L80.3,425.9 L79.9,426.0Z M67.7,421.1 L65.8,419.7 L66.7,418.2 L67.6,417.6 L69.0,415.9 L71.0,417.0 L71.2,418.8 L69.6,419.6Z M67.7,412.6 L68.5,412.5 L68.4,413.0 L69.1,413.3 L68.6,413.8 L67.7,413.6 L67.2,413.8 L67.1,413.5 L67.0,413.4 L66.8,413.1 L67.1,412.9Z M58.5,419.7 L58.6,419.2 L58.9,418.6 L59.5,419.0 L60.5,418.5 L60.8,419.4 L60.3,420.1 L60.0,420.9 L59.1,421.1 L58.4,420.6Z M66.6,414.4 L67.9,415.7 L67.1,417.6 L64.3,418.4 L63.2,416.4 L63.4,414.9 L65.0,414.6Z M86.1,424.5 L86.4,424.9 L85.8,425.1 L85.6,425.4 L85.1,425.7 L85.3,425.1 L85.2,424.7 L85.4,424.1 L86.0,424.0Z M85.0,414.2 L86.1,414.9 L87.5,415.7 L87.7,416.9 L86.8,417.6 L85.1,417.0 L83.8,417.2 L83.5,416.1 L83.2,415.5 L83.2,414.8 L83.4,413.7Z M79.2,427.0 L78.1,425.5 L78.9,423.9 L79.7,422.9 L80.7,423.3 L82.0,423.6 L81.1,424.9 L80.5,425.5Z M62.1,414.3 L62.4,415.0 L62.4,415.7 L61.9,415.6 L61.5,415.8 L61.2,415.3 L61.7,415.0Z M68.9,411.4 L66.5,411.7 L64.3,411.2 L64.5,409.4 L66.0,407.8 L67.6,409.6Z M77.0,417.5 L76.6,416.4 L77.8,416.8 L79.1,415.4 L80.5,415.7 L79.4,417.2 L78.4,417.8 L78.3,418.7 L77.6,418.4 L76.5,418.9 L75.9,418.4Z M77.5,410.9 L77.7,410.2 L78.5,410.6 L78.7,411.0 L78.6,411.2 L78.1,411.3Z M58.3,411.9 L58.6,412.0 L58.7,412.1 L58.9,412.1 L58.8,412.6 L58.5,413.1 L58.4,412.7 L58.3,412.6 L58.3,412.4Z M84.6,413.6 L86.0,415.0 L84.1,416.8 L81.5,416.9 L78.8,417.3 L78.8,415.4 L78.1,413.8 L80.6,412.8 L82.3,412.4 L85.2,411.4Z M64.4,418.8 L65.0,419.4 L64.7,419.8 L63.9,419.5 L63.4,419.0 L63.1,418.4 L63.8,418.5 L63.8,417.8 L64.6,418.2Z M59.7,419.9 L61.5,420.8 L61.4,422.5 L60.6,425.1 L57.7,423.2 L56.0,420.9 L56.2,417.9Z M72.5,414.5 L71.7,414.8 L71.9,414.2 L71.7,414.1 L71.6,413.8 L72.3,413.6 L72.8,413.2 L73.2,413.2 L73.8,413.3 L73.1,413.9Z M77.6,423.2 L78.4,423.2 L79.0,422.7 L79.6,423.0 L80.3,423.8 L79.6,424.9 L78.4,424.6 L77.7,424.6 L77.2,424.0Z M66.1,424.9 L66.1,424.3 L66.5,423.6 L66.9,423.8 L67.2,423.7 L67.4,424.2 L66.9,424.9 L66.4,425.0Z M85.4,416.4 L85.2,416.2 L85.2,415.9 L85.3,415.6 L85.5,415.5 L85.8,415.4 L86.0,415.8 L86.0,416.1 L86.4,416.5 L85.9,416.5 L85.7,416.9Z M66.4,417.3 L68.0,418.1 L67.8,418.9 L66.2,418.2 L65.2,418.1 L63.5,417.4 L63.7,416.6 L65.1,416.9 L65.8,416.8Z M86.1,412.7 L87.2,413.6 L86.5,414.9 L84.5,416.5 L83.2,414.4 L83.3,411.5Z M64.7,417.3 L66.2,417.2 L67.9,417.9 L66.5,418.9 L65.7,419.7 L64.0,419.4 L62.8,418.0Z M69.6,422.1 L69.3,422.8 L68.7,422.5 L67.7,422.6 L67.3,421.5 L68.3,421.0 L69.1,420.6 L70.0,421.1Z M59.1,411.9 L59.0,411.0 L58.8,409.4 L59.8,410.3 L60.8,411.4 L60.0,412.2Z M80.3,423.0 L80.3,422.5 L80.5,422.2 L80.2,421.8 L80.8,421.8 L81.2,421.3 L81.3,421.6 L81.6,421.7 L81.2,422.2 L80.9,422.4Z M66.3,414.4 L64.7,417.9 L64.0,421.0 L59.9,420.6 L58.5,416.9 L62.0,414.7Z M64.3,418.0 L64.6,417.6 L64.7,418.2 L64.6,418.8 L64.3,419.2 L63.8,419.6 L64.2,418.4Z M65.7,421.7 L65.1,422.0 L64.6,421.5 L64.4,420.6 L64.7,419.7 L65.4,419.8 L66.2,419.6 L66.5,420.6 L66.4,421.6Z M75.0,416.3 L74.6,415.4 L75.2,415.8 L75.6,415.7 L75.8,416.2 L75.8,416.6 L75.6,416.9 L75.4,417.5 L74.9,417.4 L74.5,416.8Z M63.1,412.7 L63.1,414.1 L62.1,413.5 L61.3,413.0 L60.6,412.1 L61.2,411.0 L62.1,410.2 L63.2,410.7 L64.2,411.2 L63.7,412.3Z M70.7,417.5 L71.4,417.4 L71.5,418.0 L72.0,418.9 L70.8,418.7 L70.1,418.1 L70.1,417.6Z M87.5,422.3 L88.3,422.0 L88.1,423.1 L87.8,423.7 L87.1,423.7 L87.1,422.8Z M83.3,416.0 L83.9,414.2 L86.9,412.6 L89.0,415.6 L85.6,417.3 L84.2,419.9 L81.6,418.6Z M71.7,419.3 L70.3,419.2 L70.0,417.5 L71.6,417.3 L72.5,417.3 L73.7,418.1 L72.5,419.0Z M63.7,426.0 L61.8,424.2 L60.4,422.0 L62.9,420.9 L64.7,422.2 L64.9,423.9Z M72.1,421.8 L72.1,422.2 L71.9,422.4 L71.5,422.9 L71.1,422.5 L71.2,422.0 L70.5,421.5 L71.4,421.6 L71.7,420.8 L71.9,421.7Z M70.2,419.3 L70.5,418.4 L71.1,417.2 L72.1,417.4 L74.1,416.0 L74.8,417.2 L72.4,418.8 L72.2,420.0 L70.7,421.2 L70.2,420.2Z M71.9,422.7 L73.0,423.2 L73.0,424.5 L72.3,425.0 L71.2,424.7 L71.1,423.3Z M57.7,424.7 L57.5,425.3 L57.1,425.8 L56.7,425.6 L56.6,424.8 L57.1,424.2 L57.3,423.6 L57.6,423.8 L58.0,423.6 L58.0,424.2Z M68.5,423.4 L68.9,423.2 L69.4,423.1 L69.6,423.6 L69.9,424.0 L69.8,424.5 L69.2,424.2 L69.0,424.2 L68.8,424.1 L68.4,423.8Z M62.3,428.2 L62.3,427.5 L62.9,427.8 L63.6,428.5 L63.3,428.8 L63.0,429.4Z M78.1,430.7 L77.9,431.4 L77.3,431.3 L77.0,430.9 L76.1,430.3 L77.3,430.2 L77.7,429.5 L78.6,429.5 L79.2,430.2Z M72.2,427.8 L71.9,427.3 L72.0,426.8 L72.5,427.0 L72.7,427.2 L73.0,428.0Z M61.1,431.0 L60.1,430.1 L61.0,429.5 L61.6,429.4 L62.8,429.3 L63.1,430.5 L62.2,430.8 L62.0,431.3Z M81.7,437.8 L80.5,439.1 L79.6,439.7 L78.3,440.9 L77.7,439.3 L76.5,438.3 L77.9,437.4 L78.4,436.5 L79.3,436.8 L80.6,436.7Z M78.5,429.2 L79.2,429.7 L79.9,430.1 L79.6,431.2 L79.7,431.9 L79.3,431.8 L78.9,432.7 L78.6,431.8 L78.5,431.2 L78.8,430.9Z M79.2,431.4 L78.2,431.7 L77.5,433.9 L76.3,431.9 L74.6,431.0 L74.6,429.3 L75.3,427.5 L77.3,429.5 L78.3,429.2 L79.2,430.2Z M61.4,418.9 L62.2,419.7 L61.9,420.4 L61.5,421.0 L60.4,421.7 L60.1,420.4 L59.4,419.7 L60.0,418.9Z M78.2,435.1 L78.9,435.6 L79.8,436.7 L78.7,437.1 L77.6,437.1 L76.0,436.7 L76.9,435.6 L77.3,435.0Z M77.4,432.3 L78.1,432.6 L78.1,433.2 L77.4,433.1 L76.6,433.2 L76.8,432.6Z M80.0,434.9 L78.6,435.8 L78.0,435.0 L78.2,433.4 L80.2,433.2 L81.8,432.8 L80.9,434.3Z M73.1,438.4 L73.7,438.5 L73.9,438.9 L74.4,439.4 L73.8,439.7 L72.9,439.4 L72.2,439.0 L72.9,438.8Z M73.1,430.8 L73.7,430.5 L74.2,430.7 L73.6,431.2 L73.4,431.4 L73.1,431.7 L72.7,431.7 L72.6,431.4 L72.4,431.0Z M61.5,435.2 L61.7,433.4 L62.2,432.5 L62.7,432.0 L63.4,430.5 L65.1,430.9 L64.5,432.6 L64.5,433.4 L64.7,434.8 L63.3,435.1Z M68.2,435.6 L68.8,436.5 L69.1,436.7 L69.3,437.0 L69.7,437.6 L69.3,437.7 L69.0,437.5 L68.7,437.9 L68.4,437.4 L68.3,436.9 L68.2,436.4Z M64.5,431.4 L65.2,429.7 L66.9,429.1 L69.0,429.4 L69.6,431.6 L67.8,432.4 L66.9,433.8 L65.6,432.8Z M72.5,432.4 L73.0,433.1 L72.7,433.7 L72.2,434.4 L71.4,433.5 L71.2,432.9 L71.3,432.4 L71.7,432.2Z M79.2,435.5 L81.0,437.5 L78.6,438.5 L78.6,439.5 L77.6,440.3 L75.3,440.1 L74.9,438.2 L73.6,436.4 L75.8,436.3 L76.8,434.9Z M75.6,431.5 L75.2,432.2 L74.6,432.8 L73.8,432.4 L73.9,431.2 L73.6,430.7 L73.6,429.7 L74.3,430.1 L74.7,430.3 L74.8,430.8Z M58.1,425.3 L58.1,426.4 L57.2,427.0 L57.2,425.8 L56.5,425.6 L57.2,425.1 L57.5,424.9 L57.9,424.8Z M55.4,426.1 L55.6,425.9 L55.8,425.9 L56.1,426.0 L56.1,426.8 L55.8,427.0 L55.6,427.2 L55.3,427.2 L55.2,426.7Z M67.0,437.1 L67.6,436.3 L68.1,435.3 L69.2,435.4 L69.6,436.5 L69.4,437.2 L70.1,438.3 L68.9,438.1 L68.2,438.5 L67.9,437.7Z M73.9,432.0 L74.0,431.7 L74.0,430.9 L74.5,431.0 L74.5,431.7 L74.7,432.0 L74.4,432.3 L74.1,433.0 L73.5,432.9Z M81.4,434.1 L82.0,433.8 L82.3,434.9 L83.1,435.3 L82.8,437.1 L82.1,438.8 L81.4,438.0 L80.6,438.3 L80.5,436.8 L81.2,435.7Z M80.6,430.6 L80.5,430.3 L81.0,430.2 L81.1,429.9 L81.7,429.3 L81.4,430.1 L81.8,430.2 L81.8,430.6 L81.3,431.0 L80.8,431.2 L80.6,430.9Z M58.3,429.3 L59.1,429.3 L59.3,428.8 L59.7,429.2 L60.0,429.5 L59.9,429.9 L59.8,430.4 L59.1,430.5 L58.8,429.8Z M67.5,443.4 L67.9,444.6 L66.2,444.2 L64.4,443.7 L64.9,442.6 L66.5,442.3Z M73.6,441.9 L73.3,441.4 L73.6,441.0 L74.1,440.6 L75.3,440.5 L75.0,441.3 L75.5,442.0 L74.4,441.9Z M69.8,443.8 L71.7,443.9 L72.8,445.5 L71.2,446.8 L71.1,448.0 L69.7,449.5 L68.0,448.3 L67.6,446.4 L68.7,445.1Z M60.9,436.1 L59.6,436.4 L59.0,434.9 L57.3,433.5 L57.7,431.7 L59.8,432.6 L60.5,431.0 L61.9,431.8 L62.2,433.5 L62.4,434.7 L62.5,436.6Z M66.8,442.4 L66.6,442.3 L66.4,442.3 L66.2,442.2 L66.1,441.8 L66.3,441.6 L66.5,441.6 L66.8,441.4 L66.8,441.9 L67.0,442.2Z M71.6,444.9 L72.6,444.8 L73.0,444.8 L73.3,444.9 L73.5,445.1 L73.2,445.3 L72.7,445.5 L72.4,445.4 L71.9,445.3Z M66.9,444.4 L66.6,443.1 L66.5,442.6 L66.2,441.9 L66.4,441.0 L67.0,440.5 L67.3,441.9 L67.8,442.1 L67.4,442.6 L67.7,444.0Z M68.6,448.0 L69.6,448.2 L70.1,448.3 L70.4,448.6 L70.1,449.2 L69.4,449.0 L68.4,449.3 L68.5,448.7Z M73.3,444.2 L73.7,445.1 L72.9,445.4 L72.3,444.8 L71.7,445.0 L71.5,444.4 L71.3,443.5 L72.2,443.4 L72.9,442.9 L73.7,443.2Z M71.1,440.5 L74.3,439.9 L75.7,440.6 L77.4,442.2 L73.0,443.1 L70.0,442.3Z M67.1,443.7 L66.9,441.1 L67.4,439.3 L69.0,438.9 L71.2,439.8 L70.1,442.2 L69.3,444.2Z M61.3,450.4 L60.7,449.6 L61.0,448.2 L62.8,448.1 L64.2,448.4 L63.1,449.8Z M71.6,445.2 L73.7,445.0 L74.4,446.4 L72.5,447.3 L71.2,447.9 L70.3,447.1 L67.9,446.5 L70.3,445.6Z M66.9,447.9 L67.1,448.6 L67.3,448.7 L67.8,449.1 L67.6,449.5 L67.1,449.7 L66.5,449.3 L66.0,448.8 L66.1,448.3 L66.7,448.4Z M69.2,445.7 L67.1,446.1 L66.2,444.7 L64.7,443.9 L65.6,442.6 L67.0,441.8 L69.0,441.4 L68.5,443.3 L69.4,444.0Z M62.3,452.2 L62.1,452.5 L61.5,452.4 L61.6,451.4 L61.5,451.0 L61.3,450.1 L61.9,450.1 L62.5,450.6 L62.5,451.5 L63.1,452.5Z M60.6,460.8 L60.6,461.2 L59.7,461.5 L59.4,461.8 L58.9,461.9 L58.7,461.7 L59.2,461.4 L59.3,461.0 L59.8,461.1Z M74.6,462.6 L75.1,463.4 L75.5,464.4 L74.6,464.6 L73.3,464.4 L73.2,463.0 L74.0,462.7Z M73.6,459.4 L73.3,458.9 L73.4,458.2 L74.0,457.8 L74.5,458.3 L74.5,458.8 L74.7,459.1 L75.0,459.8 L74.4,460.0 L73.8,459.9Z M66.3,457.2 L66.7,456.9 L67.1,457.2 L67.5,457.2 L67.3,457.4 L67.2,457.6 L66.9,457.6 L66.3,457.8 L66.4,457.5Z M64.5,460.2 L63.8,460.5 L63.5,461.1 L63.0,460.5 L62.8,460.1 L61.9,459.6 L62.7,459.3 L63.1,458.7 L63.7,459.2 L63.8,459.7Z M67.0,458.0 L67.5,458.1 L66.9,458.8 L67.0,459.1 L66.7,459.9 L66.0,459.7 L65.6,459.6 L65.2,459.2 L65.9,458.7 L66.3,458.2Z M63.1,455.4 L63.5,453.9 L65.1,454.3 L65.6,456.0 L65.6,457.5 L64.3,458.0 L62.7,457.3Z M73.0,458.9 L73.9,457.9 L74.5,457.5 L75.3,456.8 L75.6,458.1 L77.3,458.5 L76.8,459.9 L75.5,459.9 L74.8,459.9 L73.6,460.1Z M61.9,463.8 L61.8,463.2 L62.1,462.8 L61.9,462.1 L62.4,462.0 L62.7,462.4 L62.5,462.9 L62.8,463.4 L62.4,463.5Z M55.3,460.0 L54.8,460.2 L54.5,459.9 L54.8,459.4 L55.1,459.0 L55.8,458.8 L55.4,459.5Z M60.9,455.1 L61.2,454.7 L61.7,455.0 L62.1,455.0 L62.4,455.2 L62.7,455.5 L61.9,455.5 L61.7,456.0 L61.2,455.8 L61.3,455.5 L60.8,455.4Z M59.5,468.4 L61.4,468.2 L63.8,469.0 L64.0,471.9 L61.9,473.2 L60.5,472.7 L58.1,474.6 L57.3,472.0 L58.4,470.0Z M61.9,476.7 L62.9,478.1 L60.9,479.0 L59.7,478.6 L58.0,479.4 L57.1,478.3 L58.4,476.7 L59.5,475.4 L60.6,476.0 L63.6,474.0Z M71.4,478.0 L70.8,478.2 L70.2,477.8 L70.2,477.1 L70.8,476.8 L71.1,476.5 L71.7,475.9 L72.5,476.2 L72.7,477.0 L72.1,477.5 L72.6,478.9Z M76.4,470.6 L75.8,471.8 L74.1,472.4 L72.7,472.0 L69.0,471.6 L70.3,469.3 L73.3,468.3 L75.4,469.5Z M73.7,469.0 L72.8,468.8 L71.7,468.8 L71.8,468.2 L72.7,467.9 L73.3,467.8 L73.5,468.1 L74.1,468.4Z M70.5,470.6 L69.8,470.2 L69.1,469.6 L68.5,468.4 L69.8,468.7 L70.2,467.6 L71.4,468.3 L71.8,469.5 L71.8,470.4 L71.5,471.3Z M61.1,475.7 L60.1,474.3 L59.3,473.6 L59.8,472.6 L60.6,471.4 L62.4,471.6 L62.4,473.4 L62.2,474.6Z M73.1,470.8 L72.4,471.1 L72.4,471.5 L71.9,471.2 L71.1,471.6 L71.3,470.9 L70.9,470.4 L71.8,470.6 L72.1,470.1 L72.2,470.7Z M63.3,465.7 L63.5,465.9 L63.4,466.4 L63.5,467.1 L63.2,467.2 L62.9,467.1 L62.9,466.5 L62.8,466.1 L63.0,465.6Z M63.1,479.8 L62.6,479.3 L62.4,478.4 L63.3,479.1 L63.8,479.3 L64.5,480.1 L64.2,480.5 L63.6,480.7Z M62.3,479.7 L62.9,479.2 L65.0,478.2 L66.3,479.8 L63.7,480.4 L62.9,480.6 L60.6,481.0Z M63.8,475.7 L64.1,475.2 L64.7,475.0 L65.0,475.6 L64.9,476.2 L64.0,476.7Z M78.1,468.2 L79.1,469.7 L78.0,470.6 L77.2,470.6 L76.6,470.6 L75.7,470.3 L75.7,469.2 L74.6,467.4 L76.3,468.2 L77.1,467.2Z M63.5,474.8 L63.6,475.3 L63.6,476.1 L62.6,475.8 L61.5,475.1 L61.2,474.2 L61.8,474.0 L61.4,472.9 L62.5,473.8 L63.0,474.2Z M53.3,470.4 L53.4,471.4 L55.0,472.3 L54.2,473.6 L52.6,473.4 L51.3,474.2 L50.8,472.8 L50.7,471.9 L50.3,470.8 L51.0,469.6 L52.4,469.9Z M78.8,476.6 L79.6,477.2 L79.1,479.0 L74.6,479.8 L73.2,478.1 L76.8,476.6Z M72.6,479.2 L74.4,477.1 L76.2,476.5 L75.4,478.9 L74.3,480.3 L73.6,480.0Z M53.7,469.3 L54.4,469.6 L54.1,470.1 L53.8,470.5 L53.0,470.5 L52.8,469.8 L52.9,469.0Z M74.0,470.5 L75.0,469.1 L75.9,469.0 L76.5,469.2 L76.2,470.2 L75.2,470.5Z M53.6,475.4 L56.9,476.0 L56.5,479.6 L53.0,478.5 L50.9,480.6 L50.3,477.8 L51.5,476.3 L52.3,475.2Z M57.4,468.5 L58.6,468.1 L59.2,468.1 L59.9,468.4 L59.2,468.9 L57.7,469.6Z M54.8,469.4 L55.2,467.9 L56.5,468.9 L57.1,469.9 L57.8,470.9 L57.5,471.8 L56.7,472.2 L56.0,473.5 L55.3,471.7 L53.6,471.3 L53.5,469.7Z M73.9,479.7 L72.9,480.0 L73.0,478.5 L73.1,477.0 L74.1,476.5 L74.2,478.0 L74.6,478.9Z M60.4,469.6 L59.4,470.1 L58.1,469.3 L57.8,468.0 L56.6,467.2 L56.7,466.1 L57.2,465.1 L58.5,464.4 L59.4,466.5 L60.4,467.3 L59.7,468.1Z M69.8,477.1 L70.8,474.9 L73.8,474.0 L74.2,477.3 L73.0,479.3 L71.0,478.8Z M65.8,476.7 L66.9,478.0 L65.5,478.8 L64.6,479.2 L63.0,478.6 L63.8,477.0 L64.7,476.2Z M77.0,479.4 L74.1,480.6 L72.7,480.2 L71.9,479.4 L73.4,477.5 L75.6,476.7 L78.5,475.4 L78.6,477.0Z M75.5,479.7 L75.6,480.8 L74.8,481.6 L73.3,480.6 L73.1,479.6 L72.1,478.5 L73.5,479.1 L74.6,478.5Z M57.5,476.4 L58.0,476.2 L57.9,476.6 L58.5,476.8 L58.0,477.1 L57.7,477.5 L57.3,477.1 L56.9,477.0 L57.2,476.7 L57.3,476.6Z M66.5,472.5 L65.5,473.3 L64.3,472.5 L65.3,471.6 L66.3,470.7 L67.0,471.7Z M57.2,479.3 L57.1,476.7 L58.8,477.8 L59.3,479.8 L58.6,481.9 L57.2,480.6Z M62.3,469.1 L61.6,468.8 L61.1,468.2 L62.2,468.1 L63.1,468.3 L63.8,468.6 L63.8,468.9 L63.8,469.3 L63.2,469.7Z M70.3,468.0 L68.0,468.6 L67.3,469.7 L65.5,470.7 L64.7,469.1 L65.2,467.9 L63.9,466.7 L66.1,466.9 L66.8,466.5 L68.3,465.9 L68.4,467.0Z M62.0,494.0 L60.8,494.6 L60.2,493.7 L59.2,493.2 L59.1,491.1 L61.1,490.1 L61.6,492.1 L61.8,492.7Z M58.9,486.6 L57.0,485.1 L60.0,483.7 L62.8,481.6 L63.1,484.2 L61.6,485.8 L60.2,487.9Z M63.9,481.8 L65.1,483.5 L65.0,485.1 L63.5,487.3 L60.5,486.5 L61.0,483.0Z M61.9,497.7 L61.1,496.1 L61.8,494.1 L63.7,494.9 L64.2,495.5 L64.6,496.1 L64.4,497.2 L63.4,497.4Z M72.5,489.6 L74.0,489.7 L76.2,488.9 L76.0,490.0 L74.6,491.1 L72.6,492.0 L71.0,491.8 L71.4,490.8Z M55.7,494.8 L55.7,494.1 L56.2,494.1 L56.4,494.3 L56.5,494.4 L56.7,494.6 L56.4,495.0 L56.3,495.5 L56.0,495.8 L55.8,495.6 L55.8,495.2Z M68.7,493.9 L68.7,492.1 L71.3,491.6 L72.3,492.6 L72.7,493.7 L71.0,494.4 L70.0,495.0 L68.0,495.4Z M50.8,482.3 L51.4,481.5 L52.2,481.5 L52.8,481.8 L53.9,481.1 L54.5,482.3 L55.2,483.6 L54.3,484.1 L53.1,483.4 L52.4,484.5 L51.9,483.2Z M74.8,495.0 L72.6,496.3 L71.9,496.9 L71.2,498.5 L69.3,498.5 L68.4,497.0 L69.6,495.6 L69.2,494.3 L70.1,493.1 L71.4,494.3 L72.0,494.8Z M72.9,487.3 L74.0,487.5 L74.7,487.1 L75.8,488.6 L75.0,489.3 L74.4,489.7 L72.9,489.2Z M71.8,495.4 L72.8,494.8 L73.6,494.4 L73.9,494.9 L72.9,495.4 L71.9,496.2Z M74.2,491.2 L75.4,492.0 L74.6,493.5 L76.6,494.5 L75.4,495.6 L73.8,495.2 L72.8,495.5 L72.2,494.7 L71.5,493.9 L71.8,492.7 L73.1,492.5Z M53.6,493.5 L54.7,491.1 L55.7,489.2 L56.8,489.8 L58.2,489.8 L57.2,492.3 L57.1,495.1 L55.5,495.2 L55.2,493.5Z M61.5,488.7 L61.5,488.4 L61.9,487.9 L62.3,488.4 L62.9,488.7 L62.2,489.0 L62.1,489.2 L61.9,489.2 L61.4,489.6 L61.4,489.1 L61.2,488.8Z M61.7,490.2 L62.5,490.9 L62.2,492.5 L61.4,493.4 L60.7,492.8 L61.1,491.5Z M62.4,486.9 L62.1,485.6 L61.8,483.8 L63.6,483.5 L64.8,484.6 L65.0,486.3 L63.8,487.5Z M68.4,485.7 L70.0,486.1 L70.6,488.6 L68.8,489.5 L68.0,489.4 L67.1,489.5 L67.4,488.2 L66.8,485.7Z M71.8,491.4 L70.6,491.4 L70.4,490.3 L70.6,489.4 L71.2,488.6 L72.5,488.3 L73.4,489.3 L73.0,490.8Z M77.0,494.0 L76.3,494.7 L76.1,493.6 L75.5,492.7 L76.6,492.5 L76.8,490.9 L77.2,492.5 L77.5,492.6 L77.8,493.2 L77.7,494.1Z M64.7,482.5 L64.6,483.9 L63.4,485.6 L62.1,484.5 L62.4,482.6 L62.0,481.5 L62.6,480.1 L63.8,480.1 L65.0,479.9 L65.8,481.1Z M72.5,481.4 L71.7,480.6 L71.7,479.7 L70.9,479.0 L71.7,478.7 L72.0,477.7 L73.0,478.2 L73.6,478.9 L72.8,479.6 L72.6,479.9Z M75.3,494.5 L75.0,493.3 L74.9,492.8 L74.4,492.0 L75.0,491.9 L75.1,491.0 L75.5,491.2 L76.1,491.5 L75.6,492.5 L76.0,493.3 L75.6,493.6Z M72.0,492.8 L72.4,491.7 L73.3,492.2 L73.1,493.1 L73.3,493.5 L73.0,494.0 L72.5,494.1 L71.5,494.2 L71.3,493.3Z M61.6,496.3 L62.3,496.1 L62.4,495.4 L62.9,495.9 L63.4,496.1 L64.1,497.2 L64.2,498.6 L63.7,499.1 L63.5,500.7 L62.6,499.2 L61.9,497.8Z M78.1,483.6 L77.5,482.4 L77.0,482.2 L76.6,481.6 L76.9,480.6 L78.1,480.8 L79.1,481.2 L79.5,482.1 L79.1,483.0Z M57.5,482.5 L56.5,482.2 L56.2,481.9 L56.2,481.8 L56.0,481.3 L57.1,481.4 L58.1,481.6 L57.2,482.0Z M70.2,481.7 L70.2,481.2 L70.4,480.4 L71.0,480.2 L71.1,480.7 L71.6,480.9 L71.2,481.8 L70.7,482.2 L70.1,482.4Z M61.1,482.5 L61.2,481.4 L61.4,480.8 L62.0,479.9 L62.6,480.4 L63.7,480.3 L63.4,481.5 L62.3,482.4Z M61.5,481.8 L63.1,481.7 L63.1,482.6 L62.2,483.2 L60.6,483.5 L60.1,482.7 L60.2,482.1 L60.5,481.5Z M69.5,482.5 L69.1,484.2 L67.3,485.0 L65.7,484.0 L65.1,482.5 L64.5,480.8 L66.7,480.8 L67.5,480.0 L68.8,480.1 L68.6,481.5Z M76.0,492.5 L75.1,491.1 L76.2,489.9 L77.7,491.3 L78.5,492.1 L78.6,493.4 L77.1,492.9Z M75.6,493.6 L75.2,493.9 L75.3,494.8 L73.6,494.5 L73.3,493.9 L71.5,493.8 L72.6,493.4 L72.7,493.0 L73.6,492.5 L75.2,492.5 L76.6,492.9Z M67.9,485.8 L69.9,485.2 L71.7,483.8 L73.6,486.0 L71.4,487.7 L70.3,489.4 L69.4,487.5Z M68.4,480.8 L67.4,480.7 L67.2,480.9 L67.0,480.7 L66.4,480.6 L66.3,479.9 L66.9,479.4 L67.5,479.3 L68.2,479.2 L68.0,480.1Z M61.6,482.5 L61.2,482.4 L61.3,482.2 L61.1,481.9 L61.4,481.8 L61.8,482.2 L61.9,482.4 L62.3,482.7 L62.0,482.9Z M66.2,493.6 L67.0,495.1 L66.2,496.2 L65.2,495.7 L64.2,495.3 L64.9,494.4Z M65.7,489.4 L67.0,489.0 L67.4,491.2 L66.2,491.0 L65.2,491.2 L64.9,489.6Z M53.6,484.5 L55.8,483.1 L56.9,485.2 L58.4,487.7 L56.4,490.0 L53.5,488.8 L51.4,488.1 L52.2,486.1 L52.2,484.8Z M61.5,482.3 L62.2,482.2 L62.4,482.9 L62.2,483.6 L61.5,483.9 L59.8,484.7 L59.4,483.1 L60.3,481.8Z M70.9,482.2 L70.4,482.5 L69.8,482.4 L69.3,482.7 L68.3,482.6 L68.7,482.1 L68.8,481.7 L69.0,481.2 L70.0,481.4 L70.7,481.7Z M73.9,491.3 L76.0,492.3 L76.2,493.8 L76.6,495.1 L74.8,496.0 L73.7,495.8 L72.1,495.8 L71.3,493.8Z M59.9,498.1 L59.3,498.3 L58.6,498.3 L58.1,497.0 L59.0,496.1 L59.8,496.6 L60.0,497.3Z M60.3,509.7 L59.8,509.9 L58.7,509.6 L58.7,508.7 L59.2,508.4 L59.7,508.4 L60.2,508.4 L61.0,508.8 L60.7,509.4Z M66.0,495.4 L67.6,497.1 L68.7,497.5 L69.5,498.7 L68.9,500.3 L67.2,500.2 L65.2,500.7 L65.7,498.7 L65.5,497.5Z M78.3,502.0 L80.9,502.3 L82.7,503.4 L83.3,505.6 L82.5,508.1 L79.9,507.4 L78.0,506.5 L77.9,504.5Z M69.1,508.7 L69.0,508.1 L69.6,508.2 L70.4,508.5 L69.9,508.9 L69.5,509.3Z M72.6,508.5 L73.7,507.9 L74.6,507.3 L74.9,507.9 L73.9,508.7 L73.4,508.6Z M72.4,502.4 L72.5,503.0 L72.0,503.7 L71.5,503.2 L70.7,503.0 L71.0,502.1 L71.7,502.0 L72.5,501.6Z M72.0,502.1 L70.7,501.9 L70.6,500.4 L71.9,499.8 L72.7,499.0 L73.4,499.7 L73.8,500.8 L73.2,502.2Z M67.1,511.9 L63.7,509.7 L65.9,507.0 L67.4,506.1 L69.0,506.7 L70.1,509.0Z M66.3,507.1 L66.2,508.1 L66.1,507.4 L65.9,507.2 L65.8,506.6 L66.1,506.1 L66.4,506.1 L66.5,506.7Z M75.3,504.7 L73.9,503.5 L73.7,501.1 L76.9,500.8 L77.1,503.3 L79.0,506.7Z M73.7,508.2 L74.0,509.2 L73.6,510.1 L72.5,509.6 L72.2,509.4 L71.9,509.0 L71.9,508.6 L72.0,507.5 L73.0,507.5Z M75.8,501.0 L77.9,500.5 L79.2,501.4 L78.8,503.2 L77.2,503.9 L75.9,503.2Z M64.9,507.7 L65.2,509.3 L64.3,510.1 L63.6,511.3 L62.9,510.3 L63.1,508.7 L63.0,507.8 L63.6,507.5 L63.9,506.9 L64.2,507.4Z M81.8,508.0 L79.8,507.3 L77.6,507.1 L77.3,505.9 L79.9,506.0 L81.0,505.9 L82.2,506.2 L83.5,507.2Z M74.5,505.2 L77.1,504.1 L78.3,505.8 L76.5,508.0 L74.9,510.4 L72.0,510.8 L72.5,508.1 L70.0,507.1 L73.2,506.0Z M79.1,508.0 L78.4,508.2 L77.2,507.5 L78.3,506.8 L78.4,506.0 L79.2,505.0 L80.3,506.2 L80.1,507.4 L79.5,507.8Z M70.2,507.6 L71.8,506.2 L72.9,508.4 L73.0,510.1 L72.3,511.2 L70.4,512.5 L69.7,509.6Z M68.6,501.8 L69.2,502.1 L69.8,501.8 L69.6,502.3 L69.5,502.6 L69.2,503.1 L68.7,502.8 L68.3,502.3Z M79.5,494.2 L79.2,495.0 L79.0,495.6 L78.2,495.7 L77.9,495.2 L78.2,494.2Z M61.9,507.4 L62.5,508.0 L63.5,508.2 L63.5,509.1 L63.0,509.8 L62.3,510.3 L61.6,509.9 L61.1,509.6 L60.4,509.1 L60.8,508.4 L61.6,508.4Z M66.9,497.1 L67.0,498.7 L65.3,498.8 L64.2,498.2 L62.8,497.1 L64.4,496.4 L65.8,495.9Z M57.9,507.9 L58.5,509.9 L59.8,510.1 L59.4,511.2 L58.9,512.0 L58.4,513.6 L57.1,513.0 L56.0,512.5 L54.6,511.4 L56.6,510.3 L56.5,508.7Z M74.6,502.1 L75.8,502.1 L77.0,500.8 L79.0,501.9 L78.8,503.5 L78.5,504.9 L76.5,504.2 L74.4,504.9 L74.1,503.1Z M66.9,509.0 L65.0,509.6 L63.4,509.4 L63.3,508.6 L64.6,508.1 L65.3,507.9 L65.8,508.0 L67.5,508.0Z M69.6,502.8 L70.4,503.6 L71.2,504.6 L71.1,505.6 L71.2,506.5 L70.7,506.9 L70.0,505.7 L69.6,505.4 L68.6,504.7 L69.4,504.3 L69.0,503.1Z M80.1,494.8 L81.5,495.9 L81.7,497.4 L79.2,497.2 L78.6,497.5 L77.3,498.6 L76.4,497.5 L74.8,496.4 L74.9,494.9 L77.2,494.9 L78.5,494.3Z M66.0,508.3 L63.6,509.3 L62.4,508.7 L63.2,507.8 L64.6,507.0 L66.5,507.0Z M79.3,503.3 L79.0,503.8 L78.5,504.0 L78.1,503.6 L77.5,503.6 L77.5,503.1 L77.8,502.7 L78.3,502.9 L78.6,503.0Z M78.2,497.3 L77.7,498.1 L77.2,498.4 L76.8,498.5 L76.7,497.9 L77.2,497.2 L77.8,496.5 L78.0,497.0Z M64.3,497.1 L64.7,496.8 L64.9,497.0 L64.7,497.6 L64.5,497.9 L64.4,498.6 L64.1,498.4 L63.5,498.9 L63.7,498.1 L63.9,497.4Z M58.4,507.1 L58.7,506.9 L58.8,507.1 L58.6,507.4 L58.6,507.8 L58.3,507.9 L57.9,508.1 L58.0,507.6 L57.7,507.4 L58.3,507.1Z M74.7,503.8 L74.7,503.4 L75.0,503.2 L75.3,502.9 L75.5,503.4 L75.8,503.5 L75.8,503.8 L75.9,504.3 L75.4,504.5 L74.9,504.3Z M57.4,508.6 L57.3,506.9 L59.0,506.0 L62.0,506.8 L61.0,508.2 L60.3,509.1Z M72.0,506.0 L71.3,505.8 L71.0,503.9 L70.8,503.4 L70.7,502.6 L70.7,501.5 L71.2,501.6 L72.0,501.7 L72.7,503.4 L72.2,504.7Z M62.4,501.8 L61.9,503.2 L61.1,501.8 L59.7,501.2 L60.5,500.3 L61.7,500.8 L63.2,500.2 L62.6,501.4Z M59.1,509.2 L61.3,510.8 L62.7,510.1 L65.3,511.7 L63.6,513.2 L62.5,513.6 L61.4,514.1 L59.3,513.2 L58.0,510.8Z M66.7,498.1 L67.6,498.5 L69.3,499.0 L67.8,499.4 L67.2,499.5 L65.7,500.0 L64.9,498.9 L65.7,498.2Z M57.4,505.9 L57.8,505.4 L58.0,503.2 L59.0,505.0 L60.5,505.1 L60.3,506.4 L60.0,507.6 L58.9,509.0 L57.8,507.5 L57.3,506.7Z M73.7,517.0 L74.5,517.0 L76.1,517.5 L76.4,519.0 L74.8,519.0 L74.2,519.4 L73.2,519.3 L72.4,518.4 L73.0,517.6 L73.0,517.0Z M66.3,524.6 L64.3,524.5 L63.5,523.1 L65.0,522.7 L66.4,521.8 L66.3,523.2Z M82.2,522.3 L81.7,521.4 L82.2,521.0 L81.7,520.2 L82.8,519.9 L83.9,520.9 L85.1,521.3 L85.0,521.9 L84.3,522.1 L83.6,522.4Z M71.4,513.3 L72.2,513.1 L71.9,514.5 L71.3,514.6 L70.9,514.4 L70.4,513.0Z M64.8,528.4 L66.0,528.6 L67.1,528.9 L66.9,529.9 L66.5,532.2 L64.0,531.4 L63.4,529.6Z M66.2,515.8 L66.4,514.8 L67.3,514.8 L67.8,514.6 L67.9,515.1 L68.1,515.7 L67.4,515.7 L66.7,516.7Z M66.8,527.9 L64.8,527.7 L65.3,525.8 L64.9,522.8 L67.9,523.3 L71.3,524.4 L68.6,527.1Z M65.6,523.0 L64.3,523.5 L63.2,524.6 L61.5,523.5 L62.4,521.9 L63.7,521.8 L65.0,521.6Z M70.7,512.4 L70.8,512.1 L71.2,511.9 L72.0,512.1 L71.8,512.6 L72.2,512.9 L71.9,513.2 L71.2,513.0 L70.6,512.8Z M67.7,515.5 L69.0,512.6 L71.0,512.7 L72.3,513.5 L73.1,516.2 L70.3,516.8Z M70.5,522.9 L71.4,522.8 L71.5,523.1 L71.3,523.4 L70.8,523.8 L70.5,523.5Z M82.8,523.3 L83.9,522.3 L84.4,522.0 L85.4,521.3 L85.2,522.0 L84.9,522.7 L83.6,523.5Z M81.3,521.6 L79.7,522.0 L79.8,521.0 L79.1,520.2 L80.7,519.6 L81.6,519.8 L82.8,519.8 L82.0,520.7Z M80.6,509.9 L81.1,508.5 L81.8,507.9 L82.8,506.9 L82.2,508.4 L82.3,509.2 L81.4,510.0Z M69.1,516.6 L68.6,516.0 L67.3,515.6 L68.2,515.0 L68.9,514.9 L69.5,514.1 L70.3,514.7 L70.2,515.5 L69.9,515.8 L69.6,516.1Z M80.6,521.7 L80.5,521.3 L80.8,521.1 L81.1,521.2 L81.5,520.7 L81.3,521.4 L81.6,521.6 L81.7,522.1 L81.2,522.1 L80.8,522.5 L80.6,522.1Z M69.7,524.9 L69.6,523.6 L70.3,523.2 L70.8,524.1 L70.5,525.5 L69.9,526.1Z M73.2,517.1 L72.2,516.9 L71.3,516.3 L72.1,515.6 L72.8,515.2 L73.7,515.2 L74.6,515.8 L74.3,516.7Z M60.9,521.4 L60.1,521.2 L58.4,521.9 L57.2,519.9 L57.7,517.9 L58.7,516.1 L60.6,517.2 L62.5,517.6 L63.1,519.9 L62.9,522.0Z M70.7,521.5 L71.6,522.8 L70.1,523.8 L68.5,522.9 L67.8,521.7 L69.3,521.3Z M77.9,507.5 L78.6,508.1 L79.2,508.8 L78.8,509.1 L78.5,509.8 L78.1,508.7 L77.3,507.8Z M64.9,529.4 L66.6,528.4 L67.5,530.3 L69.0,530.0 L68.8,531.4 L67.8,532.1 L66.9,534.2 L65.6,532.9 L65.7,531.3Z M70.7,520.4 L71.0,520.0 L71.5,519.7 L72.4,519.7 L72.2,520.9 L72.2,521.9 L71.5,522.3 L70.6,522.4 L70.8,521.0Z M67.6,523.8 L68.6,522.6 L69.1,520.6 L70.3,522.3 L72.1,523.1 L71.0,524.6 L70.0,525.3 L68.6,525.3Z M72.5,520.7 L72.0,520.6 L70.7,520.3 L72.0,520.0 L72.7,520.2 L73.2,520.3 L73.5,520.7Z M89.2,519.6 L88.8,519.9 L88.2,518.9 L87.7,518.0 L88.1,517.7 L88.6,517.5 L89.2,518.5 L89.2,519.1Z M73.9,517.6 L73.9,518.1 L73.2,517.8 L72.7,517.8 L72.7,517.4 L72.6,517.1 L72.9,516.9 L73.2,516.8 L73.8,517.1Z M65.4,516.9 L66.8,516.5 L67.7,517.0 L68.8,518.3 L67.1,518.4 L66.4,518.0Z M70.5,513.6 L71.0,514.8 L70.0,515.0 L69.3,514.4 L68.3,514.0 L68.9,513.3 L69.0,512.2 L70.0,512.8Z M85.6,514.6 L85.8,514.2 L85.9,513.7 L86.5,513.1 L86.6,513.8 L86.3,514.7 L85.9,514.8Z M57.4,516.8 L58.6,516.7 L60.3,516.3 L60.6,518.5 L58.8,518.5 L57.7,518.2Z M81.2,521.2 L81.5,521.9 L81.3,522.3 L80.9,522.6 L80.5,522.0 L80.0,521.3 L80.2,520.6 L80.7,520.8 L81.0,520.5Z M77.6,513.7 L76.6,515.3 L75.7,514.8 L76.0,513.3 L77.1,509.5 L79.4,509.9Z M83.0,513.5 L83.7,511.9 L82.7,510.2 L83.2,508.0 L84.9,508.9 L85.3,510.8 L87.0,510.9 L86.1,512.4 L86.4,514.3 L85.0,514.0 L83.6,515.6Z M64.4,516.8 L66.0,516.9 L68.1,517.6 L66.9,520.1 L65.8,521.2 L64.7,521.2 L62.3,522.9 L61.3,520.3 L62.0,517.3Z M71.1,521.4 L70.9,521.0 L70.4,520.6 L71.2,520.6 L71.2,519.9 L71.6,520.7 L71.9,520.8 L72.3,521.0 L72.2,521.4 L71.7,521.3 L71.5,521.7Z M89.5,518.3 L90.4,519.0 L90.6,520.1 L91.1,522.2 L89.3,521.5 L88.2,520.5 L86.4,519.3 L86.9,517.7 L88.2,517.2Z M86.7,518.4 L87.1,518.2 L87.8,518.0 L87.6,518.3 L87.5,518.6 L87.0,518.9 L86.6,518.8 L86.1,519.0 L86.3,518.7 L86.1,518.6 L86.3,518.4Z M80.8,521.5 L81.1,520.7 L81.5,520.7 L82.0,520.4 L82.0,521.4 L81.7,522.2 L81.3,523.0 L81.1,522.3 L80.9,522.1Z M70.6,520.2 L71.4,518.5 L72.5,519.7 L72.4,521.0 L73.6,521.9 L72.4,522.5 L71.9,523.6 L70.9,522.8 L70.6,522.1 L69.2,521.7 L69.7,520.6Z M86.1,518.7 L83.8,520.4 L82.3,521.3 L81.8,519.8 L82.5,517.5 L85.3,516.1Z M70.2,525.7 L69.9,526.3 L69.3,526.6 L69.0,526.5 L68.9,526.0 L69.4,525.5 L69.8,524.9 L70.1,525.2 L71.1,524.8Z M65.9,522.9 L63.8,521.2 L65.5,518.9 L67.0,517.5 L68.1,518.9 L69.2,519.8 L68.1,521.1Z M87.2,516.1 L86.2,516.7 L83.9,517.0 L86.8,514.2 L89.2,512.3 L88.3,514.8Z M67.3,522.6 L68.0,523.0 L69.2,523.1 L69.1,524.3 L68.4,525.4 L67.1,525.2 L66.4,524.1 L66.2,522.8Z M70.3,527.4 L70.1,527.4 L69.9,527.1 L69.8,526.9 L69.5,526.4 L69.6,526.1 L70.1,526.6 L70.3,526.9 L70.8,527.2 L70.4,527.3Z M79.7,529.2 L79.0,529.4 L78.5,531.0 L78.0,529.8 L77.2,529.0 L78.3,528.3 L78.5,527.3 L79.3,527.2 L79.4,528.4Z M68.4,534.8 L68.4,535.8 L69.0,536.8 L68.1,537.4 L67.0,538.0 L67.0,536.6 L66.5,536.1 L67.0,535.5 L67.5,534.0Z M88.4,529.6 L88.7,531.1 L87.8,531.4 L87.1,532.4 L86.6,530.7 L85.4,529.9 L86.8,529.2 L86.5,527.2 L87.6,526.9 L88.3,528.3Z M82.6,541.5 L82.3,541.2 L82.3,540.8 L81.9,540.6 L82.2,540.1 L82.6,539.7 L83.0,539.6 L83.6,539.6 L83.7,540.1 L83.5,540.7 L83.0,540.9Z M80.4,535.5 L80.6,534.2 L80.6,532.7 L82.2,531.7 L84.5,532.0 L84.8,534.0 L85.1,535.6 L82.9,535.4 L81.6,536.8Z M82.8,541.0 L83.3,538.9 L85.8,540.5 L85.8,542.2 L87.4,544.2 L85.8,545.5 L83.0,544.0 L82.8,542.1Z M94.0,534.8 L94.5,534.1 L94.5,533.0 L95.1,533.9 L95.4,534.0 L95.9,534.6 L95.6,535.3 L95.1,536.0 L94.7,534.9Z M77.1,529.1 L77.7,528.6 L78.1,528.9 L77.5,529.8 L76.5,531.2 L76.6,529.9Z M72.9,546.8 L73.3,546.5 L73.6,546.4 L73.8,545.8 L74.4,545.8 L74.7,546.1 L74.3,546.5 L74.5,546.9 L73.8,546.8 L73.6,546.9 L73.3,547.0Z M98.8,531.4 L99.8,531.7 L99.8,532.7 L99.0,533.2 L98.2,532.8 L98.0,532.0 L97.2,531.4 L97.7,530.8 L98.4,530.4Z M85.7,537.5 L85.9,537.7 L85.6,537.8 L85.3,538.0 L84.9,538.0 L84.4,537.8 L84.5,537.5 L85.1,537.5 L85.5,537.4Z M81.5,543.4 L81.8,542.0 L83.5,541.4 L84.2,542.5 L84.0,543.1 L84.1,544.5 L82.4,544.5Z M73.6,543.5 L74.9,543.0 L75.4,544.3 L74.6,545.1 L73.7,545.2 L73.4,544.4Z M81.3,537.7 L81.6,537.8 L82.0,538.0 L82.0,538.4 L82.0,538.9 L81.5,539.0 L81.1,538.5 L80.7,538.1 L81.0,537.8Z M95.5,532.4 L93.7,533.2 L92.7,533.6 L91.4,534.5 L91.1,532.8 L90.6,532.2 L91.0,531.4 L90.6,529.6 L92.2,529.9 L94.2,529.0 L95.2,530.6Z M85.5,532.3 L85.2,530.5 L86.2,530.0 L87.7,530.7 L87.6,532.2 L87.3,534.1Z M91.8,535.6 L92.2,535.4 L92.4,535.7 L92.5,536.1 L92.1,536.4 L91.7,536.3 L91.3,536.5 L90.9,536.3 L91.1,535.9 L91.3,535.6 L91.5,535.6Z M85.5,524.9 L84.2,525.5 L82.4,525.9 L81.8,523.8 L82.6,521.9 L83.9,521.3 L84.7,521.2 L86.2,520.3 L86.7,521.8 L86.1,523.4Z M90.0,530.1 L89.2,530.4 L88.7,529.8 L89.7,529.5 L90.1,528.9 L90.4,529.5 L91.2,529.8 L90.7,530.3Z M89.1,524.3 L90.7,524.1 L91.7,525.3 L90.1,527.0 L88.0,528.4 L88.1,526.2Z M91.2,530.8 L90.2,530.8 L90.2,528.9 L91.7,527.0 L92.5,527.3 L93.6,526.9 L93.1,528.6 L92.3,531.0Z M75.5,532.3 L77.1,532.0 L78.4,532.7 L78.1,533.7 L76.6,533.4 L75.8,533.1Z M81.2,538.6 L80.7,538.8 L80.1,538.6 L79.6,537.7 L80.3,537.0 L80.5,536.4 L81.1,536.0 L81.6,536.5 L82.0,537.4 L81.7,538.3Z M89.4,526.4 L89.8,526.5 L89.5,527.2 L89.2,527.5 L88.7,528.2 L88.9,527.2 L89.1,526.3Z M89.0,524.4 L89.3,524.1 L89.8,524.2 L90.3,523.7 L91.0,523.8 L90.4,524.5 L90.8,525.0 L90.1,525.1 L89.7,525.4 L89.2,525.4 L89.4,524.8Z M72.4,540.2 L70.9,538.4 L72.7,538.5 L73.9,538.2 L75.5,538.9 L75.9,540.5 L75.4,541.4 L75.8,543.8 L73.6,542.8 L71.6,542.1Z M68.7,541.6 L68.7,539.7 L69.6,538.0 L71.4,536.1 L73.1,537.6 L72.4,540.0 L72.0,542.3 L70.1,542.7Z M73.7,548.5 L73.5,547.7 L73.6,546.8 L74.2,547.0 L74.4,547.1 L74.8,547.7 L74.3,548.3Z M93.9,528.2 L93.9,527.7 L94.0,527.4 L94.1,527.3 L94.3,527.2 L94.5,527.7 L94.3,528.1 L94.1,528.2Z M75.8,540.8 L75.5,539.7 L76.2,538.7 L77.0,537.8 L77.6,538.5 L76.9,539.7Z M99.1,531.8 L97.6,531.9 L96.3,531.5 L95.2,530.3 L96.8,529.9 L97.4,528.5 L98.6,529.6 L99.2,530.6Z M74.6,546.0 L75.2,545.4 L75.6,545.8 L76.0,545.8 L76.5,546.0 L76.4,546.6 L75.6,546.6 L75.2,546.7 L74.8,546.8 L74.6,546.5Z M89.6,525.3 L88.8,525.9 L88.2,526.5 L87.8,525.7 L87.7,524.7 L88.7,524.7Z M74.0,542.6 L74.5,542.2 L74.4,543.2 L74.1,543.6 L73.6,544.8 L73.7,543.6 L73.7,543.0Z M93.1,525.7 L93.3,524.9 L93.5,525.4 L93.5,525.9 L93.6,526.5 L93.3,526.7 L93.1,527.1 L92.9,526.7 L92.9,526.2 L92.7,525.7Z M89.0,517.5 L89.6,518.0 L90.9,518.9 L90.1,520.6 L88.6,520.7 L87.8,520.1 L86.5,519.7 L87.6,518.4 L88.3,517.9Z M89.7,517.0 L90.8,517.3 L89.5,518.5 L90.2,519.4 L88.5,519.1 L87.9,519.3 L87.7,519.1 L86.4,519.0 L87.4,518.2 L88.4,517.9Z M97.1,531.9 L96.9,532.2 L96.6,531.6 L96.3,531.1 L96.6,531.1 L96.9,531.5Z M87.0,533.0 L86.3,532.6 L85.7,531.4 L87.3,531.8 L88.4,530.5 L89.1,531.8 L89.6,532.9 L88.7,533.7 L87.6,533.7Z M83.0,525.1 L83.0,524.6 L82.7,524.5 L82.0,524.0 L82.8,523.8 L83.6,523.7 L84.2,523.9 L83.9,524.3 L85.0,524.6 L84.0,524.7 L83.7,525.2Z M83.9,534.5 L83.5,534.7 L82.9,534.8 L82.6,534.7 L82.4,534.4 L82.9,534.1 L83.2,533.8 L83.5,534.1 L84.2,534.1Z M76.0,544.5 L76.0,544.1 L76.4,543.7 L77.0,544.1 L77.8,544.2 L77.3,544.7 L77.4,545.3 L76.7,544.9 L75.9,545.1Z M91.9,528.1 L91.7,529.0 L90.9,530.1 L89.7,529.5 L89.1,528.6 L90.1,527.9 L91.1,527.7Z M71.3,536.5 L71.1,536.3 L70.4,535.9 L70.8,535.7 L71.2,535.4 L72.1,535.6 L72.2,536.1 L72.7,536.4 L72.6,536.6 L72.5,537.0 L71.8,536.7Z M77.2,529.0 L77.1,528.3 L77.7,527.8 L78.1,526.7 L78.6,527.5 L78.9,527.9 L79.3,528.7 L78.4,529.3 L77.9,528.7Z M76.0,545.7 L75.6,546.0 L75.2,545.6 L74.9,545.2 L74.4,544.2 L75.5,544.3 L75.9,544.8 L76.4,545.2Z M92.7,531.6 L93.4,530.7 L94.4,530.8 L94.0,532.0 L94.6,532.6 L93.8,533.2 L92.8,534.0 L92.7,532.9 L92.8,532.3Z M83.2,542.5 L83.8,543.0 L84.3,544.0 L83.4,544.3 L82.5,543.8 L81.2,543.2 L81.3,541.9 L82.3,541.5Z M70.6,543.7 L71.3,543.1 L72.4,542.9 L72.7,543.7 L71.8,544.2 L71.2,544.2Z M76.7,549.7 L75.2,549.8 L74.2,548.5 L76.0,547.8 L76.8,547.5 L77.9,546.6 L78.1,548.2 L79.4,548.5 L78.4,549.3 L78.0,549.8 L77.3,551.4Z M80.3,540.9 L78.7,541.5 L79.1,539.9 L78.9,539.0 L80.3,537.0 L81.1,538.2 L80.9,539.3Z M85.2,541.7 L85.8,541.7 L86.4,542.2 L86.4,542.8 L86.5,543.2 L86.3,543.7 L85.7,543.2 L85.0,542.8 L85.1,542.3Z M81.5,528.6 L81.1,528.2 L80.6,527.8 L81.3,527.7 L81.9,527.5 L81.7,528.1Z M93.8,535.6 L93.2,536.1 L92.3,535.9 L92.1,535.0 L92.5,534.2 L93.5,534.3 L94.2,533.9 L95.0,534.2 L95.2,535.1 L95.0,536.0Z M93.0,555.8 L93.1,556.1 L92.9,556.6 L92.4,556.6 L92.2,556.1 L92.0,555.7 L92.3,555.4 L92.7,554.9 L93.2,555.2Z M91.2,560.8 L91.6,558.6 L93.8,558.0 L96.9,558.7 L96.8,562.3 L93.0,563.2Z M106.7,543.6 L107.7,543.2 L108.1,544.3 L108.4,545.7 L107.4,546.6 L106.1,546.3 L106.1,544.8 L104.6,543.8 L106.0,543.3Z M92.0,562.4 L91.0,561.1 L92.2,560.3 L93.3,559.3 L93.9,560.7 L94.6,562.2 L93.2,562.5Z M102.7,537.9 L103.5,536.9 L105.2,536.6 L106.0,538.4 L107.8,538.6 L108.0,539.7 L107.9,540.9 L105.7,539.9 L104.8,540.2 L103.2,540.1 L104.1,539.0Z M90.2,549.3 L89.9,549.4 L89.7,549.2 L89.3,548.9 L90.1,548.8 L90.3,548.7 L90.6,548.5 L90.9,548.7 L91.2,549.1 L90.8,549.6Z M86.9,547.5 L87.9,548.3 L88.3,549.4 L87.9,550.4 L86.5,551.1 L85.3,550.1 L84.3,549.3 L83.8,547.8 L85.3,547.1Z M95.6,536.9 L95.9,535.5 L97.3,534.8 L98.8,534.1 L99.3,535.1 L99.4,536.3 L97.5,536.7Z M91.7,552.5 L92.0,551.6 L92.8,551.9 L93.2,551.3 L93.9,551.3 L93.4,552.3 L93.3,552.8 L93.1,553.8 L92.6,553.1 L92.4,552.8Z M94.7,541.6 L94.3,543.2 L92.5,544.5 L90.8,545.3 L90.1,544.0 L92.9,541.5Z M92.7,556.4 L94.1,556.9 L95.7,557.1 L95.9,558.3 L96.2,559.7 L94.8,561.0 L92.7,560.4 L91.3,559.3 L91.1,558.1 L92.4,557.5Z M105.4,543.5 L105.1,545.0 L103.0,544.4 L101.5,545.2 L101.2,544.4 L101.0,543.4 L102.4,542.3 L104.2,541.9 L106.3,541.9Z M97.8,543.5 L98.5,544.3 L97.8,544.8 L96.7,544.9 L95.6,544.5 L94.9,543.9 L95.0,543.5 L95.3,543.2 L95.5,542.7 L96.3,542.4 L97.2,543.0Z M97.7,557.4 L97.4,558.7 L96.3,560.1 L95.0,560.1 L94.0,560.1 L94.2,559.1 L94.1,558.4 L94.5,556.8 L95.9,556.8 L96.7,557.2Z M99.2,541.5 L97.4,543.0 L95.3,541.5 L95.1,539.9 L93.6,538.3 L94.6,536.2 L97.0,537.9 L99.0,538.0 L100.7,539.8Z M101.3,535.9 L100.6,535.4 L101.5,535.4 L101.9,534.6 L102.7,535.1 L102.8,535.8 L102.8,536.6 L102.1,536.9 L101.3,536.6Z M100.6,537.9 L99.9,536.9 L99.3,536.6 L99.2,535.6 L99.4,534.8 L99.7,534.4 L100.2,534.0 L100.3,535.1 L100.4,535.6 L100.4,536.1Z M94.5,549.2 L96.3,550.3 L97.1,552.3 L98.3,553.8 L98.9,556.3 L97.4,556.5 L96.0,554.5 L95.6,553.1 L94.0,551.0Z M88.5,549.1 L88.2,549.7 L87.6,549.3 L87.2,549.1 L87.3,548.4 L88.2,548.7Z M92.4,534.4 L93.2,534.5 L93.8,535.5 L94.8,536.0 L95.1,537.1 L94.8,537.9 L94.1,538.5 L93.1,537.6 L92.6,536.7 L91.0,535.7 L92.5,535.5Z M92.1,544.8 L90.9,542.7 L92.7,541.7 L94.0,540.8 L94.8,542.4 L95.8,544.1 L94.3,545.9Z M90.9,560.6 L90.8,560.2 L90.8,559.7 L91.0,559.2 L91.4,558.7 L91.5,559.4 L91.4,559.8 L91.6,560.3 L91.2,560.4Z M97.1,535.2 L96.3,535.0 L97.1,534.6 L97.3,534.0 L97.8,534.3 L98.2,534.6 L98.0,535.1 L97.5,535.5Z M88.3,552.4 L87.6,551.4 L87.3,550.0 L88.0,549.3 L89.0,550.9 L89.5,551.7 L89.8,552.8 L88.9,552.2Z M105.9,541.2 L104.2,541.6 L103.8,539.8 L102.3,538.9 L100.9,536.7 L104.2,538.1 L105.5,537.0 L106.7,538.4 L106.4,539.5 L108.5,541.7Z M101.1,547.5 L100.6,546.7 L99.8,546.5 L99.3,545.4 L100.9,545.3 L101.4,544.6 L102.0,544.7 L102.2,545.3 L103.0,546.2 L102.1,547.1Z M84.8,547.3 L85.1,546.7 L85.7,546.5 L86.4,546.5 L86.8,547.1 L86.0,547.7 L85.2,547.8Z M86.1,554.0 L87.1,552.9 L88.2,554.1 L88.1,555.8 L86.4,555.7 L84.4,555.2Z M88.6,554.8 L87.7,556.0 L87.0,554.8 L86.8,553.7 L87.2,552.8 L87.8,552.1 L88.5,552.5 L89.1,552.9 L88.8,553.9Z M90.9,538.7 L91.2,538.4 L91.5,538.2 L91.8,538.6 L91.9,538.8 L92.3,539.0 L92.3,539.3 L91.9,539.4 L91.8,539.8 L91.5,539.3 L91.4,539.1Z M92.9,555.6 L93.0,555.2 L93.4,555.7 L93.6,556.0 L93.4,556.2 L93.3,556.5 L92.5,556.3 L92.4,555.7Z M86.7,544.1 L88.9,544.3 L87.8,545.4 L89.7,546.3 L87.7,546.6 L85.9,546.8 L84.2,546.3 L83.1,545.5 L84.9,545.1 L84.7,544.0Z M84.4,554.9 L84.2,554.2 L84.8,554.3 L85.6,553.7 L85.7,554.5 L85.2,555.1 L85.3,555.6 L84.8,555.4 L84.0,556.3 L83.5,555.7Z M107.2,539.3 L107.4,540.2 L106.8,541.7 L106.0,540.4 L105.3,539.7 L105.2,537.8 L106.8,538.3Z M87.3,547.9 L86.4,547.0 L85.2,547.3 L85.3,546.4 L86.3,545.7 L86.7,544.1 L87.8,544.8 L88.9,544.8 L87.9,545.9 L88.9,547.0Z M97.9,555.9 L97.9,556.4 L98.1,557.5 L97.4,557.5 L96.8,557.1 L96.6,556.0 L97.1,555.5 L97.6,555.2Z M90.9,546.4 L91.0,547.5 L91.0,548.9 L88.6,550.3 L88.0,548.6 L86.2,548.5 L86.9,546.9 L89.1,546.5Z M103.2,540.5 L104.5,538.6 L106.1,538.7 L107.2,539.4 L105.7,540.7 L104.8,541.9 L103.8,541.6Z M95.3,559.2 L94.1,558.7 L93.2,559.4 L92.5,557.7 L92.4,556.4 L91.8,554.7 L92.5,553.8 L93.4,554.4 L94.6,553.7 L94.2,556.1 L95.6,557.5Z M95.2,554.8 L93.4,555.8 L91.8,557.4 L91.1,556.3 L91.9,554.1 L92.8,551.8 L94.3,551.2 L94.5,552.4 L95.5,552.6Z M103.1,544.8 L101.5,544.5 L101.6,542.9 L105.0,541.6 L106.1,542.4 L105.1,543.6Z M86.5,554.3 L86.3,554.4 L86.2,554.4 L86.1,554.7 L85.6,554.4 L85.2,554.1 L85.1,553.8 L85.4,553.7 L85.6,553.5 L86.1,553.9 L86.2,554.1Z M92.0,552.5 L92.3,551.9 L92.6,552.0 L92.8,551.6 L93.1,552.0 L93.1,552.6 L93.5,553.7 L93.2,554.3 L92.7,553.1 L92.3,553.6Z M93.1,559.3 L92.1,558.8 L92.1,557.6 L93.7,557.0 L94.1,557.8 L94.1,558.4Z M90.5,551.8 L90.1,552.4 L89.7,552.5 L89.3,552.4 L88.8,551.8 L89.7,551.5Z M90.4,557.0 L90.7,557.1 L91.2,557.6 L91.2,558.1 L90.8,558.0 L90.2,557.7 L90.3,557.2Z M89.4,546.1 L89.4,547.0 L88.7,547.7 L87.5,548.0 L86.5,547.5 L86.9,546.4 L86.0,545.8 L86.8,545.3 L87.4,544.3 L88.5,544.8 L89.6,545.1Z M102.0,553.0 L101.1,555.2 L99.8,555.4 L99.0,553.8 L99.2,551.2 L100.5,551.7 L101.2,551.6Z M106.5,553.6 L106.5,553.3 L106.4,552.8 L106.8,552.9 L107.1,553.1 L107.4,553.5 L107.2,553.8 L106.9,553.7 L106.6,554.1Z M108.8,549.9 L108.5,550.6 L107.7,551.0 L107.4,549.9 L107.1,549.7 L107.1,549.4 L106.9,548.6 L107.7,548.7 L108.2,548.9 L108.6,549.3Z M95.9,566.9 L95.8,565.3 L95.4,564.8 L95.5,564.4 L95.6,563.9 L96.2,563.3 L96.9,564.6 L97.9,565.1 L97.7,565.7 L97.1,565.8 L96.8,566.0Z M105.7,559.5 L105.9,557.4 L108.5,558.6 L109.9,557.7 L111.0,559.5 L112.3,561.2 L111.9,562.8 L110.3,563.3 L108.3,563.9 L107.9,561.0Z M105.3,550.7 L105.8,550.3 L106.3,550.7 L105.9,551.3 L106.2,552.0 L105.5,552.0 L105.1,551.7 L104.9,551.3 L104.9,550.8Z M108.0,556.9 L108.6,556.4 L109.2,556.4 L108.7,557.5 L108.8,558.1 L108.2,559.0 L107.7,558.5 L107.0,559.1 L107.0,558.5 L107.0,557.9 L107.5,557.2Z M107.0,556.1 L107.9,555.6 L108.4,555.5 L108.3,556.1 L107.7,556.9 L107.0,556.9Z M106.7,544.8 L108.3,544.6 L109.5,545.7 L109.0,547.1 L108.4,548.4 L107.1,547.9 L104.1,548.2 L106.5,546.3Z M99.3,562.5 L99.2,562.7 L98.7,563.3 L98.1,562.8 L98.4,562.1 L98.8,561.6 L99.2,562.2Z M106.5,556.3 L108.2,555.9 L108.2,557.4 L107.2,558.0 L106.2,559.1 L104.8,558.0 L105.4,556.8 L105.5,555.9Z M105.1,551.7 L104.0,551.6 L103.3,551.0 L103.2,549.9 L102.1,548.9 L102.8,547.8 L103.7,547.5 L104.8,546.4 L105.2,548.2 L106.0,549.2 L104.9,550.0Z M103.9,560.9 L103.6,559.5 L102.7,558.5 L103.4,557.1 L104.9,557.4 L106.0,557.7 L106.7,558.8 L105.7,559.7 L104.9,559.7Z M104.6,554.2 L104.9,555.1 L104.0,555.6 L103.1,556.1 L102.7,555.4 L102.4,554.9 L102.8,553.8Z M102.5,554.2 L102.3,554.4 L102.1,554.6 L101.8,554.5 L101.4,554.7 L101.1,554.3 L101.4,554.1 L101.5,553.9 L101.6,553.4 L102.1,553.7 L102.5,553.9Z M98.8,565.3 L98.4,565.0 L98.7,564.6 L98.8,564.3 L99.0,564.4 L99.3,563.9 L99.4,564.5 L99.7,565.1 L99.2,565.1 L99.1,565.7Z M102.8,569.6 L101.9,567.2 L101.8,566.1 L101.9,564.8 L103.6,564.5 L105.1,565.4 L105.6,566.9 L104.6,568.1Z M115.8,553.1 L116.2,554.0 L117.9,554.0 L117.7,555.3 L116.1,555.2 L115.7,555.8 L114.3,556.3 L114.2,555.1 L114.8,554.3 L114.3,552.7Z M108.1,547.6 L109.2,547.3 L110.6,547.7 L109.2,548.2 L109.4,548.8 L108.1,548.8 L107.8,548.2 L105.9,548.0 L107.3,547.6Z M103.1,562.9 L102.8,562.7 L102.3,562.8 L102.6,562.5 L102.6,562.4 L102.7,562.0 L103.2,562.1 L103.4,562.3 L103.3,562.5 L103.6,562.8Z M115.8,556.8 L116.4,556.7 L116.5,557.3 L117.5,558.2 L116.8,559.3 L115.4,559.5 L114.3,558.7 L114.2,557.4 L115.3,557.0Z M108.8,544.6 L108.4,544.3 L108.4,543.5 L108.4,542.6 L108.9,543.3 L109.3,543.2 L109.5,543.8 L109.2,544.2Z M108.7,549.7 L106.9,551.5 L105.3,552.1 L103.5,552.4 L103.2,551.0 L103.8,548.9 L106.6,548.7Z M117.8,551.6 L119.4,554.1 L118.7,555.7 L117.1,556.5 L115.2,554.7 L115.4,552.5Z M106.3,567.8 L105.7,566.9 L106.3,566.1 L107.3,566.6 L108.2,566.2 L109.2,566.9 L108.4,567.8 L108.2,568.6 L107.4,569.0 L106.5,568.8Z M108.8,554.0 L108.6,554.9 L107.9,554.5 L107.1,554.2 L108.1,553.1 L109.0,553.4Z M106.9,547.5 L107.4,548.3 L106.6,548.6 L105.7,548.6 L104.6,548.2 L104.5,547.1 L105.9,547.0 L106.5,545.8 L107.2,546.8Z M111.8,550.3 L111.9,549.7 L112.2,549.4 L112.4,549.4 L113.2,548.4 L113.1,549.6 L113.0,550.4 L112.6,550.6 L112.2,552.1 L112.1,550.5Z M119.1,549.6 L119.8,550.2 L118.7,551.3 L118.4,552.0 L117.8,552.2 L117.0,552.2 L117.0,551.3 L117.7,550.7 L118.2,550.3Z M109.2,542.0 L108.9,543.3 L109.2,544.8 L108.1,545.1 L107.4,545.5 L107.3,544.7 L106.8,544.5 L105.9,543.5 L107.1,542.4 L107.9,540.9 L108.7,541.4Z M106.6,551.4 L106.8,551.0 L107.4,551.7 L108.1,552.9 L108.0,554.0 L107.6,554.5 L106.9,553.5 L106.5,552.7 L105.7,551.7 L106.4,551.6Z M111.4,547.1 L112.0,546.5 L113.0,546.4 L112.9,547.3 L112.5,548.4 L111.4,548.1Z M107.6,558.4 L106.1,559.1 L104.0,559.0 L103.3,556.5 L104.7,554.6 L106.9,554.8 L108.6,556.4Z M98.8,550.6 L100.5,550.3 L101.6,551.4 L103.6,549.8 L102.9,552.1 L103.0,553.2 L102.5,554.1 L101.6,554.4 L100.0,555.8 L99.9,553.6 L99.7,552.5Z M112.1,554.9 L111.7,555.5 L112.7,556.7 L111.6,557.6 L110.5,556.8 L109.5,556.7 L110.3,555.6 L108.8,554.7 L110.1,554.2 L111.1,553.2 L112.1,553.9Z M109.6,548.6 L110.2,548.3 L111.1,548.5 L112.0,549.2 L113.2,550.6 L111.4,550.6 L110.7,550.7 L109.4,551.1 L108.0,550.0 L109.2,549.0Z M107.0,554.1 L106.4,554.1 L106.3,553.9 L106.3,553.8 L106.8,553.5 L107.4,553.8Z M102.2,560.8 L101.9,560.4 L102.1,559.9 L101.8,559.6 L102.2,559.2 L102.6,559.3 L102.9,559.3 L103.4,559.4 L103.1,559.8 L103.3,560.4 L102.8,561.1Z M106.0,553.3 L106.8,552.1 L107.3,551.0 L108.2,550.4 L109.5,549.7 L108.5,552.3 L109.9,553.1 L108.8,554.4 L107.9,556.2 L107.1,554.8 L106.2,554.7Z M104.8,547.8 L104.0,547.3 L103.0,545.3 L104.1,544.0 L105.4,546.0 L106.2,546.8 L106.2,548.0 L106.0,550.1Z M97.0,565.5 L99.3,565.3 L102.5,564.4 L101.4,566.6 L99.7,568.8 L96.5,567.7Z M117.1,561.5 L117.0,561.9 L116.6,561.6 L115.8,562.0 L115.2,561.4 L115.5,560.6 L116.0,560.1 L116.7,560.0 L117.4,560.0 L117.7,560.7 L118.1,561.3Z M119.8,560.5 L120.7,562.0 L119.7,564.0 L117.8,564.3 L117.4,562.9 L117.8,560.9Z M119.6,569.3 L119.3,569.2 L119.1,568.8 L118.8,568.1 L119.3,568.2 L119.4,567.5 L119.8,567.6 L120.1,568.3 L119.8,568.8 L120.1,569.9Z M121.3,560.3 L119.4,560.8 L118.7,559.7 L119.1,558.6 L118.9,557.1 L120.9,557.4 L122.0,557.5 L123.0,558.0 L123.8,559.6Z M132.3,565.6 L132.3,564.5 L133.1,563.8 L133.4,562.6 L134.6,562.6 L134.2,563.9 L135.5,564.3 L134.4,565.1 L133.6,564.9Z M125.2,563.2 L123.2,563.7 L123.8,561.6 L123.3,559.7 L125.1,559.4 L126.1,560.7 L128.8,561.8 L127.3,563.8Z M112.8,569.4 L113.4,569.2 L113.7,569.7 L114.0,570.5 L113.7,571.5 L113.2,571.2 L113.0,570.7Z M120.7,573.1 L120.4,572.4 L120.6,571.5 L121.6,571.4 L122.1,572.1 L121.9,572.7 L121.5,573.0Z M116.6,568.9 L117.1,569.0 L117.4,569.3 L117.6,569.8 L117.0,569.7 L116.6,569.7 L116.6,569.3Z M119.2,566.4 L119.9,566.0 L120.6,566.3 L120.2,567.0 L119.2,567.3 L118.4,567.2 L118.1,566.7Z M116.7,568.6 L116.8,567.6 L118.0,567.8 L118.4,567.7 L119.1,567.2 L119.5,567.8 L119.9,568.5 L119.5,569.3 L118.9,570.1 L117.9,570.1 L117.1,569.5Z M135.7,562.4 L135.4,564.3 L133.9,565.0 L131.0,565.6 L133.2,562.4 L133.7,560.8 L135.0,561.0Z M126.0,571.1 L126.4,569.7 L127.7,569.0 L128.2,570.1 L129.8,570.2 L129.3,571.8 L127.8,571.6 L126.9,571.8Z M128.1,577.2 L127.8,576.8 L127.2,576.4 L128.2,576.6 L129.0,576.4 L129.5,576.9 L129.0,577.2Z M129.9,572.8 L128.7,576.3 L125.9,573.9 L125.6,570.8 L126.7,569.5 L128.1,570.3Z M125.1,570.4 L124.6,571.0 L124.1,570.8 L123.5,571.4 L122.9,571.0 L122.6,570.0 L123.1,568.8 L124.0,568.7 L124.4,569.5 L125.4,569.3Z M118.3,574.1 L118.4,573.5 L118.9,573.0 L119.4,572.9 L119.1,573.6 L118.8,574.0Z M130.7,563.2 L130.0,563.4 L129.6,562.7 L129.3,562.6 L129.0,562.1 L129.4,561.7 L130.1,561.3 L130.1,562.2 L130.8,562.4Z M116.0,567.4 L115.6,568.3 L114.7,568.1 L114.0,567.7 L114.4,567.0 L115.2,566.9Z M128.5,567.3 L125.7,566.5 L123.6,566.0 L124.1,563.6 L126.5,562.0 L129.4,563.9Z M122.6,553.6 L122.6,552.9 L123.2,552.6 L124.0,552.8 L124.0,553.8 L124.1,554.5 L123.6,554.8 L123.0,555.3 L122.6,554.3Z M126.7,576.2 L126.9,575.6 L127.7,575.6 L127.6,576.4 L127.5,576.9 L126.9,576.7Z M129.0,573.3 L127.7,572.3 L126.6,570.6 L128.9,569.1 L129.6,567.0 L131.7,566.5 L132.8,568.0 L133.3,570.0 L132.1,571.8 L130.7,573.0Z M134.9,566.1 L131.2,566.1 L127.0,566.7 L130.0,563.7 L131.4,561.7 L133.5,563.1Z M116.3,556.4 L117.6,555.5 L118.9,554.7 L121.9,554.2 L120.8,556.1 L120.6,557.0 L119.1,557.9 L115.9,558.3Z M128.3,567.5 L128.2,566.9 L128.7,565.6 L130.0,565.8 L130.9,566.5 L129.2,567.3Z M123.5,575.6 L124.7,574.2 L126.4,575.0 L128.1,575.9 L126.4,576.4 L125.1,576.7Z M119.1,565.1 L119.2,564.1 L120.8,564.6 L121.7,565.2 L121.4,566.1 L119.9,565.9 L119.1,565.6Z M119.2,569.4 L119.7,568.8 L120.4,568.8 L121.5,568.2 L122.5,569.0 L122.8,570.7 L121.4,571.6 L120.1,570.7 L118.9,570.6Z M122.5,570.5 L122.1,569.3 L123.3,569.8 L123.8,570.4 L124.3,571.5 L123.2,572.1 L122.2,571.3Z M140.8,573.9 L140.3,574.1 L140.0,574.1 L139.6,574.2 L139.6,573.8 L139.5,573.3 L139.9,573.1 L140.6,573.2Z M144.9,571.1 L144.2,571.4 L143.3,572.0 L143.4,570.5 L142.6,569.3 L143.7,569.3 L144.4,569.3 L145.0,570.0Z M135.9,573.0 L135.5,572.8 L135.8,572.4 L136.4,572.3 L136.9,572.1 L136.7,572.5 L136.6,572.8Z M144.7,570.8 L143.1,569.4 L144.3,566.8 L146.4,568.3 L149.2,566.9 L148.0,569.8 L146.8,570.8 L146.1,571.6 L143.9,573.6Z M134.7,574.0 L134.4,576.1 L133.1,578.5 L130.3,578.6 L130.8,575.4 L132.8,573.3Z M145.2,566.3 L145.1,566.9 L145.1,567.6 L144.4,567.5 L144.0,567.4 L143.0,567.4 L143.5,566.7 L143.9,566.2 L144.6,566.2Z M146.6,579.7 L145.6,578.6 L144.1,578.8 L144.9,577.3 L144.2,575.0 L146.1,574.3 L147.2,576.0 L147.5,577.2 L148.5,579.2Z M143.7,576.4 L143.6,577.0 L143.1,577.4 L142.4,577.2 L142.3,576.7 L141.6,576.5 L141.9,576.0 L142.3,575.7 L142.9,575.5 L143.0,576.1Z M136.8,573.1 L137.2,572.8 L137.5,572.5 L138.1,572.8 L137.7,573.6 L137.3,574.4 L136.7,574.0Z M138.1,578.4 L137.6,578.4 L137.1,577.7 L137.9,576.9 L138.8,577.2 L138.5,578.0Z M141.1,579.9 L141.0,579.4 L141.3,579.2 L141.4,579.1 L141.7,578.5 L141.9,579.0 L141.7,579.6 L141.6,580.0 L141.4,580.9 L141.1,580.7Z M141.3,572.0 L141.7,573.4 L141.2,574.0 L140.6,574.6 L139.5,573.7 L139.2,572.2 L139.8,571.7 L140.3,570.9Z M140.3,565.7 L140.6,565.5 L140.9,565.3 L140.9,565.7 L140.6,566.1 L140.4,566.3 L140.3,566.3 L139.9,566.6 L139.7,566.5 L139.8,566.1Z M148.0,571.9 L148.1,571.4 L148.1,571.1 L148.1,570.4 L148.4,570.8 L148.9,570.3 L148.8,571.0 L148.7,571.4 L148.8,572.2 L148.3,572.4Z M143.0,578.7 L143.2,577.8 L144.6,578.3 L145.3,578.8 L146.8,579.4 L145.5,579.7 L145.2,580.4 L143.9,580.4 L143.2,579.4Z M135.1,571.2 L135.9,571.6 L136.4,571.5 L138.2,571.5 L137.4,572.5 L138.6,574.0 L137.2,573.9 L136.1,573.8 L135.6,572.8 L134.2,572.3 L134.2,571.4Z M137.4,570.4 L137.9,570.4 L138.3,571.0 L137.8,571.6 L136.9,571.4 L137.1,570.7Z M145.3,567.8 L145.8,568.3 L146.2,568.9 L146.3,569.6 L145.8,570.0 L145.5,570.6 L145.0,569.9 L144.1,569.7 L144.0,568.6 L144.6,567.9Z M143.9,579.0 L142.7,580.1 L140.9,579.8 L139.5,578.3 L139.6,576.2 L141.8,576.4 L143.6,575.5 L145.4,577.2Z M139.3,567.2 L140.4,567.4 L141.5,568.6 L141.1,569.3 L139.9,568.7 L139.0,568.2 L139.2,567.7Z M157.2,577.8 L157.4,576.6 L158.1,576.9 L158.4,577.8 L158.5,578.6 L158.0,579.2Z M149.8,581.3 L148.5,581.3 L147.8,581.3 L146.3,580.8 L146.8,579.3 L148.3,580.1 L149.0,580.2Z M147.6,577.3 L149.0,577.9 L149.5,578.3 L149.5,578.7 L149.4,579.2 L148.8,579.6 L147.4,579.8 L147.2,578.6Z M150.4,575.0 L149.4,574.8 L149.3,574.1 L149.6,573.5 L151.1,574.0 L151.5,575.0Z M153.1,570.0 L154.2,571.1 L155.2,571.7 L154.3,572.7 L154.4,573.6 L153.7,574.5 L152.9,573.5 L151.2,573.6 L152.0,572.3 L152.2,571.3Z"/><path fill="#fbf2e8" stroke="#aaa" stroke-width="0.15" d="M86.0,483.2 L90.0,482.3 L96.0,481.8 L96.8,484.2 L91.0,485.4 L88.0,486.2 L87.6,491.5 L90.0,491.2 L96.5,490.6 L97.3,493.6 L91.0,494.8 L86.0,495.8 L85.2,489.0Z"/><path fill="#fff" stroke="#999" stroke-width="0.3" d="M209.5,197.0 L211.5,195.6 L214.5,195.4 L216.8,196.6 L217.0,198.6 L215.0,200.4 L212.0,200.8 L209.8,199.6Z"/><g fill="none" stroke="#8a8a80" stroke-width="0.5" opacity="0.55"><path d="M181.2,70.0 L180.0,77.5 L183.8,87.5 L190.0,91.2 L188.8,97.5 L186.2,105.0"/><path d="M157.5,81.2 L166.2,90.0 L170.0,100.0 L177.5,103.8 L185.0,106.2 L188.8,100.0"/><path d="M141.2,116.2 L162.5,117.0 L165.0,125.0 L168.8,132.5 L173.8,131.2 L186.2,130.0 L190.0,125.0"/><path d="M168.8,132.5 L171.2,142.5 L170.0,150.0 L175.0,157.5 L180.0,150.0 L185.0,142.5 L188.8,132.5"/><path d="M135.0,155.0 L142.5,160.0 L155.0,163.8 L165.0,165.0 L170.0,170.0 L176.2,180.0 L178.8,190.0 L182.5,182.5 L185.0,175.0 L195.0,180.0"/><path d="M191.2,123.8 L222.5,123.0 L223.8,157.5 L255.0,158.8"/><path d="M215.0,83.8 L212.5,100.0 L207.5,112.5 L200.0,123.0"/><path d="M212.5,100.0 L222.5,107.5 L235.0,117.5 L250.0,130.0 L260.5,137.7 L263.3,142.3"/><path d="M262.4,145.0 L260.5,150.5 L259.6,159.7 L255.0,170.7 L251.4,181.7 L248.6,192.8 L247.7,203.0 L246.0,206.5 L240.5,213.9 L238.7,226.7 L239.6,237.7 L243.3,245.0 L253.4,250.6 L262.6,253.3"/><path d="M289.9,150.5 L295.4,159.7 L297.2,162.5"/><path d="M248.6,194.0 L258.0,192.0 L270.0,196.0"/><path d="M120.0,222.5 L132.5,218.8 L142.5,221.2 L155.0,217.5 L175.0,216.2 L180.0,217.5 L183.8,223.8 L182.5,240.0 L182.0,263.8 L182.0,278.8"/><path d="M155.0,217.5 L158.8,235.0 L162.5,250.0 L163.8,265.0 L164.5,278.8"/><path d="M155.0,217.5 L156.2,202.5 L150.0,192.5 L146.0,183.0 L140.0,176.0 L135.0,165.0"/><path d="M175.0,216.2 L176.2,197.5 L180.0,190.0 L178.8,190.0"/><path d="M143.8,278.8 L182.0,278.8"/><path d="M143.8,278.8 L143.8,322.5 L137.5,330.0 L127.5,335.0 L120.0,345.0 L110.0,350.0 L105.0,355.0"/><path d="M123.8,290.0 L130.0,295.0 L143.8,303.8 L150.0,315.0 L165.0,320.0 L185.0,321.2 L197.5,325.0 L203.8,330.0"/><path d="M117.0,283.0 L120.0,287.0 L123.8,290.0"/><path d="M203.8,254.5 L203.8,350.0"/><path d="M182.0,263.8 L203.8,263.8"/><path d="M203.8,254.5 L222.5,254.5 L232.5,243.8 L240.0,241.2"/><path d="M216.2,190.0 L220.0,205.0 L220.0,222.5 L222.5,240.0 L212.5,254.5"/><path d="M195.0,180.0 L205.0,183.0 L216.2,190.0"/><path d="M223.8,157.5 L222.0,170.0 L218.0,182.0 L216.2,190.0"/><path d="M101.2,369.2 L183.0,369.2"/><path d="M101.2,429.5 L152.5,429.5"/></g><g fill="none" stroke="#8a8a80" stroke-width="0.55" opacity="0.8"><path d="M168.3,65.5 L170.1,68.3 L173.0,69.4 L175.6,71.0 L178.0,70.3 L180.2,69.2 L182.9,70.2 L185.7,71.0 L187.5,74.7 L188.5,77.0 L189.4,79.3 L191.2,81.1 L191.9,78.9 L193.3,76.9 L194.0,74.7 L195.6,72.1 L196.7,69.2 L199.4,68.9 L202.1,68.6 L204.8,68.1 L207.5,68.0 L209.5,69.6 L210.9,71.8 L212.5,73.8 L213.9,75.8 L215.8,77.5 L216.8,79.9 L218.7,81.6 L220.0,83.8 L222.0,84.8 L224.0,85.9 L225.4,87.9 L227.4,88.9 L229.4,90.0 L231.4,91.9 L233.7,93.4 L236.0,95.0 L238.2,95.9 L240.1,97.4 L242.0,98.7 L244.0,100.0 L246.0,100.9 L247.4,102.8 L249.6,103.6 L251.5,104.7 L253.0,106.4 L255.0,107.4 L257.4,109.0 L259.1,111.4 L261.5,113.0 L264.2,113.3 L267.0,113.6 L269.7,113.9 L271.1,115.7 L272.2,117.6 L273.4,119.4 L272.7,121.9 L271.9,124.4 L270.6,126.7 L269.2,128.9 L268.5,131.4 L266.9,133.5 L266.0,135.9 L265.3,138.3 L263.8,140.3 L263.0,142.6 L262.4,145.0 L265.0,147.8 L267.3,148.5 L269.6,148.9 L271.9,149.2 L274.2,149.8 L276.6,149.7 L278.9,150.5 L281.3,150.8 L283.7,151.5 L286.2,151.5 L287.9,150.0 L290.1,149.3 L291.7,147.8 L294.6,146.7 L297.2,145.0 L299.9,143.1 L302.7,141.4 L304.0,139.0 L305.5,136.8 L306.8,134.4 L308.3,132.2 L309.9,130.0 L310.6,127.3 L311.9,124.9 L314.0,123.1 L316.5,122.1 L318.6,123.7 L320.2,125.8 L320.3,128.6 L320.4,131.3 L321.1,134.0 L320.7,136.3 L320.2,138.6 L319.7,140.9 L319.3,143.2 L317.3,144.5 L315.8,146.3 L313.7,147.5 L311.9,149.0 L310.1,150.5 L308.2,151.8 L306.6,153.5 L304.7,154.9 L302.7,156.0 L301.0,157.7 L298.8,159.0 L297.3,161.0 L295.4,162.5 L294.0,164.5 L292.8,166.7 L291.6,168.8 L289.9,170.7 L288.7,172.8 L286.6,174.2 L285.3,176.2 L283.5,177.9 L282.2,180.0 L280.4,181.6 L278.9,183.6 L277.2,185.3 L275.6,187.0 L274.3,189.0 L271.7,191.0 L270.7,193.6 L270.6,196.5 L269.9,199.2 L268.9,201.3 L268.4,203.5 L268.2,205.8 L267.4,207.9 L267.2,210.2 L266.9,212.6 L266.6,215.1 L266.2,217.5 L266.4,219.8 L265.9,222.1 L266.5,224.4 L266.2,226.7 L266.3,229.2 L265.3,231.5 L265.3,234.0 L264.6,236.3 L264.4,238.6 L263.7,240.8 L263.5,243.2 L263.9,245.5 L263.7,247.8 L263.7,250.1 L263.5,252.4 L265.1,254.8 L266.8,257.1 L268.0,259.7 L270.1,261.3 L271.8,263.3 L273.6,265.2 L275.2,267.3 L277.0,269.2 L279.1,270.7 L278.3,273.1 L277.9,275.6 L277.2,278.0 L278.8,280.7 L280.0,283.6 L282.1,284.9 L284.6,285.4 L284.9,287.8 L285.0,290.3 L285.5,292.7 L284.5,295.5 L282.8,298.0 L281.4,300.1 L279.4,301.6 L277.9,303.5 L276.3,305.4 L275.0,307.5 L273.0,308.7 L271.0,310.1 L269.0,311.2 L266.8,312.2 L265.0,313.8 L262.9,314.8 L260.7,315.5 L258.6,316.6 L256.3,317.1 L254.5,318.6 L252.1,319.0 L250.0,320.0 L247.8,320.1 L245.8,321.5 L243.6,321.5 L241.4,322.0 L239.2,322.4 L237.1,323.1 L235.0,323.8 L232.5,324.0 L230.0,323.8 L227.5,323.3 L225.0,323.4 L222.5,323.8 L221.5,325.8 L220.0,327.5 L220.0,330.0 L219.7,332.5 L219.5,335.1 L218.8,337.5 L218.3,340.0 L218.1,342.6 L216.9,344.9 L216.6,347.5 L216.2,350.0 L214.4,351.9 L212.1,353.3 L210.0,355.0 L207.5,355.5 L205.0,355.6 L202.5,356.2 L200.0,356.2 L197.4,355.6 L194.9,354.6 L192.5,353.5 L190.0,352.5 L186.9,351.7 L183.8,351.2 L183.1,354.4 L182.5,357.5 L183.2,359.9 L182.9,362.5 L183.1,365.0 L183.8,367.5 L184.8,370.1 L186.2,372.5 L189.3,373.4 L192.5,373.8 L194.4,372.5 L196.7,372.1 L198.8,371.2 L199.7,373.3 L199.6,375.7 L200.6,377.7 L200.9,380.0 L197.9,380.4 L195.0,381.2 L192.8,380.6 L190.9,379.4 L188.8,378.8 L188.1,380.9 L187.5,383.1 L186.2,385.0 L183.9,388.3 L182.8,390.8 L181.6,393.3 L180.2,395.7 L179.5,398.1 L179.8,400.6 L179.3,403.0 L178.8,406.2 L178.4,409.4 L176.1,411.7 L173.8,414.0 L171.2,414.6 L169.0,416.2 L166.4,416.8 L163.9,418.3 L161.5,419.9 L159.1,421.4 L157.4,423.1 L155.7,424.8 L154.5,426.9 L153.8,429.1 L152.5,431.1 L151.8,433.3 L152.7,435.7 L153.5,438.2 L154.5,440.6 L156.9,441.8 L158.6,443.9 L160.9,445.2 L163.0,446.5 L165.5,446.9 L167.9,447.8 L170.1,448.9 L172.1,451.1 L174.7,452.6 L174.4,455.1 L173.9,457.6 L172.9,459.9 L171.7,462.0 L169.6,463.4 L168.3,465.4 L166.0,466.7 L164.0,468.5 L161.8,470.0 L159.7,471.1 L157.9,472.7 L155.6,473.3 L153.6,474.6 L152.2,476.5 L150.8,478.3 L150.2,481.0 L149.7,483.8 L149.0,486.5 L146.9,488.4 L144.9,490.4 L142.6,492.0 L141.0,493.7 L138.9,494.8 L137.2,496.3 L135.2,497.5 L133.5,499.9 L131.9,502.3 L130.6,504.9 L130.2,507.2 L130.2,509.5 L130.2,511.7 L129.7,514.0 L131.6,515.8 L133.4,517.7 L135.2,519.5 L137.0,521.2 L138.6,523.1 L141.0,524.1 L142.6,526.0 L140.1,525.1 L137.7,524.1 L135.2,523.2 L133.0,522.3 L130.7,521.5 L128.4,520.9 L126.0,520.5 L123.6,520.3 L121.3,520.1 L118.9,520.1 L116.5,519.8 L114.2,519.9 L111.8,519.8 L109.4,520.1 L107.1,519.5 L104.7,519.9 L102.3,519.6 L100.0,519.3 L97.6,519.5 L96.4,517.4 L94.5,515.9 L94.8,513.6 L93.8,511.3 L94.0,509.0 L94.0,506.7 L92.5,504.5 L91.2,502.1 L88.4,501.3 L85.6,500.6 L82.9,499.4 L82.0,496.9 L80.7,494.6 L80.2,492.0 L80.0,489.7 L80.6,487.4 L80.4,485.1 L80.2,482.8 L81.5,480.0 L82.9,477.3 L85.6,476.4 L88.5,476.5 L91.2,475.5 L92.3,472.8 L93.0,470.0 L93.0,467.2 L93.0,464.9 L93.4,462.6 L93.9,460.3 L94.0,458.0 L95.3,455.6 L96.2,453.0 L97.6,450.7 L98.9,448.4 L99.3,445.8 L100.4,443.4 L101.1,440.9 L102.5,438.6 L103.1,436.0 L102.6,433.8 L102.8,431.4 L102.2,429.2 L102.2,426.9 L102.9,424.5 L103.2,421.9 L104.0,419.5 L104.4,417.0 L105.3,414.5 L105.4,411.9 L105.9,409.4 L103.6,407.2 L101.3,404.9 L101.7,402.4 L101.7,399.9 L102.2,397.5 L101.0,395.2 L100.3,392.7 L99.5,390.2 L98.8,387.9 L98.3,385.7 L98.5,383.2 L97.6,381.0 L97.6,378.7 L98.6,376.6 L99.1,374.5 L99.3,372.2 L99.5,370.0 L99.5,367.2 L100.4,364.6 L100.6,362.3 L100.4,360.0 L101.2,357.7 L101.3,355.4 L101.5,353.1 L101.1,350.8 L100.9,348.5 L101.3,346.2 L101.6,343.9 L101.4,341.6 L101.8,339.3 L102.2,337.0 L103.6,335.2 L105.0,333.4 L105.6,331.1 L105.3,328.8 L105.3,326.5 L105.9,324.2 L108.4,322.6 L110.5,320.5 L111.1,318.1 L111.1,315.6 L111.4,313.2 L110.5,311.0 L110.2,308.7 L109.9,306.3 L109.5,304.0 L109.3,301.5 L108.8,299.0 L109.1,296.5 L108.6,294.0 L110.1,291.7 L111.4,289.2 L112.3,286.6 L114.8,284.5 L116.9,282.0 L116.6,279.8 L117.3,277.6 L117.1,275.4 L118.0,273.2 L117.8,271.0 L118.4,268.8 L118.8,266.6 L118.6,264.4 L118.8,262.1 L119.6,260.0 L120.8,257.4 L121.5,254.6 L122.3,252.3 L123.0,250.0 L123.5,247.7 L124.2,245.4 L124.0,243.0 L123.2,240.8 L122.6,238.5 L122.4,236.2 L121.6,233.9 L120.8,231.7 L120.4,229.3 L119.6,227.0 L119.3,224.5 L118.0,222.2 L117.8,219.7 L117.1,217.6 L117.1,215.3 L116.9,213.1 L116.1,210.9 L116.0,208.7 L116.5,206.4 L117.1,204.2 L117.8,202.0 L118.9,199.9 L119.6,197.7 L121.3,195.4 L122.8,192.9 L124.2,190.4 L123.7,188.2 L123.5,186.0 L124.0,183.8 L123.5,181.6 L123.3,179.4 L123.9,177.1 L124.8,174.8 L125.5,172.6 L126.0,170.2 L127.3,167.7 L128.1,165.1 L129.7,162.8 L130.9,160.8 L131.3,158.4 L132.1,156.2 L133.2,154.2 L134.3,152.1 L135.2,150.0 L137.1,148.1 L139.0,145.4 L140.7,142.6 L139.8,140.2 L139.7,137.6 L138.9,135.2 L139.3,132.9 L139.5,130.6 L140.6,128.4 L140.7,126.1 L141.0,123.8 L141.1,121.5 L140.9,119.2 L140.7,116.9 L140.0,114.2 L139.8,111.4 L141.4,108.8 L142.6,105.9 L144.7,104.6 L146.3,102.9 L148.1,101.3 L150.7,100.7 L153.1,99.9 L155.4,98.6 L157.2,96.7 L159.1,94.9 L159.2,92.4 L158.9,89.9 L158.2,87.5 L158.2,85.0 L157.2,82.7 L157.3,80.2 L158.1,77.9 L159.1,75.6 L160.7,73.8 L162.2,72.0 L163.7,70.1 L166.2,68.0Z"/><path d="M138.9,530.5 L139.8,533.1 L141.6,535.3 L142.6,537.9 L144.3,539.5 L145.0,541.8 L146.9,543.2 L148.1,545.2 L150.1,546.3 L151.7,548.0 L153.6,549.2 L155.4,550.7 L157.5,552.3 L160.1,553.3 L162.1,555.1 L164.6,556.2 L167.0,557.0 L169.2,558.1 L171.4,559.3 L173.8,559.9 L176.2,560.3 L178.6,560.8 L181.1,560.8 L180.2,563.6 L178.0,564.0 L176.0,565.1 L173.8,565.4 L171.4,565.1 L168.9,565.3 L166.4,565.6 L164.0,565.6 L161.6,565.1 L159.1,565.4 L156.9,565.2 L154.7,564.7 L152.5,564.6 L150.3,564.3 L148.1,564.5 L145.8,564.2 L143.5,563.9 L141.2,563.7 L138.9,563.6 L138.7,561.4 L139.3,559.2 L138.7,557.0 L139.1,554.8 L139.3,552.6 L139.0,550.4 L138.6,548.2 L139.2,545.9 L139.0,543.7 L138.6,541.5 L138.5,539.3 L138.9,537.1 L138.5,534.9 L139.2,532.7Z"/></g>
<g fill="#f6eadc" stroke="#808080" stroke-width="0.55"><path d="M236.5,510.8 L238.1,510.7 L239.7,510.5 L241.3,510.3 L242.7,509.4 L244.2,510.3 L245.7,510.0 L247.2,510.3 L248.7,508.8 L250.2,509.7 L251.3,510.9 L252.3,512.1 L250.8,512.8 L250.3,514.3 L249.6,515.6 L248.0,516.5 L247.5,518.3 L246.7,519.6 L245.1,519.7 L244.1,520.8 L242.7,521.1 L241.4,521.7 L240.2,522.4 L239.5,524.0 L237.8,523.9 L235.8,522.5 L236.3,521.0 L237.3,519.9 L238.5,519.0 L239.8,518.3 L240.3,517.0 L240.6,515.6 L238.8,515.0 L237.8,513.5 L237.6,511.9Z"/><path d="M253.0,512.8 L254.7,512.3 L256.1,511.5 L257.1,510.1 L258.5,510.0 L259.9,509.5 L261.2,508.9 L262.7,509.7 L264.0,510.4 L265.5,510.5 L266.7,511.5 L268.2,511.5 L269.4,512.0 L270.2,513.3 L271.6,513.5 L271.6,515.0 L270.9,516.3 L269.4,516.3 L268.0,516.8 L266.8,517.7 L265.5,518.8 L264.0,519.7 L262.6,520.3 L261.3,521.1 L260.1,521.8 L259.8,523.4 L258.5,523.9 L257.2,523.3 L255.9,522.4 L254.4,522.5 L253.3,524.2 L251.6,525.2 L250.1,524.9 L248.8,525.3 L247.5,525.9 L248.3,524.6 L247.7,523.1 L248.2,521.8 L248.2,520.3 L250.0,519.7 L250.2,518.3 L251.7,517.3 L252.3,515.6 L252.6,514.2Z"/></g><path d="M233.8,515.7 L233.4,516.2 L232.9,516.0 L232.5,515.7 L232.9,515.3 L233.3,515.3ZM230.2,513.7 L230.0,514.0 L229.5,514.0 L229.4,513.6 L229.4,513.3 L230.0,513.5ZM231.8,513.9 L231.4,514.4 L230.8,514.2 L230.3,513.9 L230.6,513.3 L231.1,513.5ZM230.2,515.7 L229.7,516.5 L229.0,516.1 L228.1,515.7 L228.8,515.1 L230.0,515.3ZM235.7,514.9 L234.9,515.5 L234.1,515.3 L233.0,514.8 L234.1,514.2 L235.1,514.4ZM235.6,514.1 L235.2,514.4 L234.4,514.7 L233.9,514.1 L234.4,513.5 L235.1,513.9ZM237.4,516.7 L237.1,517.0 L236.3,517.0 L235.8,516.7 L236.3,516.1 L237.2,516.1ZM231.3,517.3 L231.1,517.7 L230.2,517.7 L229.8,517.2 L230.2,516.9 L230.9,516.6ZM231.3,518.3 L230.3,518.9 L229.3,519.2 L228.0,518.3 L229.5,517.5 L230.3,517.9ZM234.6,518.2 L234.4,518.4 L233.8,518.3 L233.6,518.2 L233.8,517.9 L234.3,518.0ZM234.4,514.7 L234.2,515.0 L233.5,515.2 L232.8,514.7 L233.5,514.1 L234.5,514.1ZM240.1,515.3 L239.0,516.1 L237.4,515.7 L236.9,515.3 L237.9,514.4 L239.2,514.8ZM236.6,517.1 L236.2,517.6 L235.1,517.5 L234.6,517.1 L235.2,516.4 L235.9,516.6ZM235.2,518.3 L235.2,518.6 L234.5,518.7 L234.0,518.3 L234.6,517.7 L235.1,517.7ZM229.5,517.7 L228.7,518.1 L227.7,518.1 L226.9,517.7 L227.8,517.4 L228.4,516.9ZM239.8,517.7 L239.2,518.4 L238.3,518.2 L237.7,517.7 L238.3,516.8 L239.0,517.3ZM237.6,515.0 L237.0,515.2 L236.6,515.3 L236.0,515.0 L236.4,514.4 L237.3,514.4ZM238.5,521.3 L238.4,521.6 L237.9,521.7 L237.7,521.3 L237.9,521.0 L238.4,521.0ZM233.5,514.4 L233.2,514.7 L232.4,514.9 L232.4,514.4 L232.5,514.0 L233.3,513.8ZM238.3,519.7 L237.9,520.0 L237.4,520.2 L237.2,519.7 L237.4,519.5 L238.1,519.4ZM234.5,514.0 L234.0,514.2 L233.7,514.3 L233.3,514.0 L233.7,513.7 L234.1,513.9ZM236.1,516.5 L235.8,516.9 L235.2,516.9 L235.3,516.5 L235.4,516.1 L236.0,516.0ZM238.4,519.9 L238.4,520.2 L237.7,520.4 L237.4,519.9 L237.7,519.3 L238.2,519.6ZM236.9,518.8 L236.8,519.3 L236.4,519.1 L236.0,518.8 L236.2,518.4 L236.9,518.5ZM234.5,513.8 L234.1,514.8 L232.9,514.8 L231.8,513.8 L233.0,512.9 L234.2,512.8ZM231.3,515.7 L230.9,516.2 L229.7,516.7 L228.7,515.7 L229.3,515.1 L230.4,515.1ZM239.2,515.7 l1.1,-0.1 l1.9,-1.4M243.5,512.0 l0.3,-0.9 l0.7,0.1M256.6,521.8 l1.2,1.3 l-1.4,-0.4M268.7,515.6 l-0.9,-0.1 l-1.3,1.0M258.4,511.3 l1.9,0.1 l-1.0,0.3M268.4,514.9 l-1.9,-0.9 l-1.8,0.1M248.0,521.9 l-1.2,-1.5 l-0.1,-1.1M247.9,513.2 l-1.3,0.4 l1.7,-0.4M258.4,514.5 l1.7,0.2 l-1.9,0.7M244.7,510.7 l-1.9,1.0 l0.8,-0.4M255.8,519.9 l-1.7,0.6 l0.8,1.3M239.9,518.0 l0.0,1.0 l-0.5,0.5M266.7,514.9 l0.1,1.2 l-1.9,1.4M248.0,516.4 l-0.8,0.9 l0.1,0.7M241.3,522.3 l1.3,0.5 l-1.1,-0.7M252.5,510.9 l1.8,-0.3 l1.8,-1.0M258.7,521.2 l0.6,-0.2 l-1.9,-0.2M250.5,523.2 l1.9,1.4 l1.9,-1.0M238.9,514.1 l-2.0,-1.1 l0.3,-0.9M257.5,515.3 l-0.9,1.4 l-1.3,1.1M254.9,519.3 l-1.4,0.7 l1.6,-0.9M253.1,519.1 l-0.1,0.8 l0.6,-0.6M259.8,520.8 l-0.1,0.3 l0.5,-0.1M240.8,515.7 l1.1,0.7 l-1.7,-0.1M256.8,517.5 l-1.4,0.4 l0.8,0.1M268.1,518.1 l-2.0,-0.6 l0.8,-1.3M268.9,519.8 l1.1,-1.0 l-2.0,1.1M254.4,516.2 l0.1,0.8 l-0.5,0.8M243.2,523.7 l0.8,-0.5 l-0.1,1.1M248.4,519.8 l1.6,1.4 l-1.0,0.9M228,505.5 l3,1.2 M232,508 l2,1 M254,527.5 l2,0.3" fill="none" stroke="#808080" stroke-width="0.45" opacity="0.8"/>
</g>
<g clip-path="url(#fr)">
<g clip-path="url(#cr)">
<rect x="492" y="37" width="304" height="560" fill="#1f87c3"/>
<path d="M614.0,64.0 C613.8,65.0 613.3,68.0 612.5,70.0 C611.7,72.0 610.4,72.9 609.0,75.7 C607.6,78.5 606.1,83.6 604.4,87.0 C602.6,90.4 600.4,92.9 598.5,96.0 C596.6,99.1 594.1,102.2 592.9,105.7 C591.7,109.2 591.6,113.2 591.2,117.2 C590.8,121.2 590.5,126.1 590.3,130.0 C590.0,133.9 590.2,137.4 589.7,140.7 C589.2,144.0 588.0,147.1 587.0,150.0 C586.0,152.9 585.1,155.2 583.9,158.0 C582.7,160.8 581.1,163.2 580.0,166.5 C578.9,169.8 578.0,174.4 577.0,178.0 C576.0,181.6 574.9,185.1 574.0,188.0 C573.1,190.9 572.7,192.9 571.9,195.7 C571.1,198.5 569.8,202.1 569.0,205.0 C568.2,207.9 568.3,210.2 567.3,213.0 C566.3,215.8 564.2,218.3 563.0,222.0 C561.8,225.7 560.8,230.3 560.0,235.0 C559.2,239.7 558.7,245.0 558.0,250.0 C557.3,255.0 556.6,260.3 556.0,265.0 C555.4,269.7 554.4,273.7 554.5,278.0 C554.6,282.3 556.6,286.1 556.9,290.8 C557.1,295.6 556.3,301.6 556.0,306.5 C555.7,311.4 555.5,315.2 555.0,320.0 C554.5,324.8 553.7,330.5 553.0,335.0 C552.3,339.5 551.8,341.3 551.0,346.8 C550.2,352.3 548.7,360.8 548.0,368.0 C547.3,375.2 546.9,383.8 547.0,390.0 C547.1,396.2 548.1,399.4 548.5,405.0 C548.9,410.6 549.2,417.3 549.4,423.4 C549.5,429.5 550.0,437.3 549.4,441.7 C548.8,446.1 546.1,446.8 546.0,450.0 C545.9,453.2 547.7,456.7 548.6,461.0 C549.5,465.3 550.3,470.8 551.4,475.7 C552.5,480.6 553.2,485.8 555.0,490.4 C556.8,495.0 559.6,499.5 562.4,503.2 C565.2,506.9 568.7,510.1 571.6,512.4 C574.5,514.7 575.3,516.2 580.0,517.0 C584.7,517.8 596.7,517.0 600.0,517.0 L800.0,517.0 L800.0,62.0Z" fill="#37a0e1"/>
<path d="M616.0,64.0 C615.9,65.0 615.8,68.0 615.3,70.0 C614.8,72.0 614.1,72.9 613.0,75.7 C611.9,78.5 610.1,83.6 608.4,87.0 C606.6,90.4 604.3,92.9 602.5,96.0 C600.7,99.1 598.6,102.2 597.5,105.7 C596.4,109.2 596.2,113.2 595.8,117.2 C595.3,121.2 595.1,126.1 594.8,130.0 C594.4,133.9 594.3,137.4 593.7,140.7 C593.1,144.0 592.0,147.1 591.0,150.0 C590.0,152.9 589.1,155.2 588.0,158.0 C586.9,160.8 585.6,163.2 584.5,166.5 C583.4,169.8 582.3,174.4 581.5,178.0 C580.7,181.6 580.0,185.1 579.5,188.0 C579.0,190.9 579.0,192.9 578.2,195.7 C577.5,198.5 575.9,202.1 575.0,205.0 C574.1,207.9 573.7,210.2 573.0,213.0 C572.3,215.8 571.5,218.6 571.0,222.0 C570.5,225.4 569.9,229.8 570.0,233.7 C570.1,237.6 572.0,240.9 571.8,245.2 C571.6,249.5 569.9,254.8 568.9,259.5 C567.9,264.2 566.4,268.4 565.5,273.6 C564.6,278.8 564.1,285.3 563.8,290.8 C563.4,296.3 563.6,300.8 563.4,306.5 C563.2,312.2 562.7,318.3 562.5,325.0 C562.3,331.7 561.6,340.8 562.0,346.8 C562.4,352.8 564.6,356.2 565.0,361.0 C565.4,365.8 564.6,370.8 564.1,375.7 C563.6,380.6 562.9,385.5 562.3,390.4 C561.7,395.3 561.0,400.1 560.5,405.0 C560.0,409.9 559.5,414.8 559.5,419.7 C559.5,424.6 560.0,429.3 560.5,434.4 C561.0,439.4 561.6,445.6 562.4,450.0 C563.2,454.4 563.3,457.6 565.1,461.0 C566.9,464.4 570.5,467.4 573.4,470.2 C576.3,472.9 579.0,475.7 582.6,477.5 C586.2,479.3 592.9,480.4 595.0,481.0 L800.0,481.0 L800.0,62.0Z" fill="#5fb4f0"/>
<path d="M618.0,64.0 C618.1,65.0 618.9,68.0 618.7,70.0 C618.5,72.0 618.0,72.9 617.0,75.7 C616.0,78.5 614.7,83.6 613.0,87.0 C611.3,90.4 608.8,92.9 607.0,96.0 C605.2,99.1 603.1,102.2 602.0,105.7 C600.9,109.2 600.9,113.2 600.4,117.2 C599.9,121.2 599.8,126.1 599.3,130.0 C598.8,133.9 598.0,137.4 597.1,140.7 C596.2,144.0 595.0,147.1 594.0,150.0 C593.0,152.9 591.8,155.2 590.8,158.0 C589.8,160.8 588.9,163.2 588.0,166.5 C587.1,169.8 586.2,174.4 585.5,178.0 C584.8,181.6 584.2,185.1 583.8,188.0 C583.3,190.9 583.5,192.9 582.8,195.7 C582.1,198.5 580.5,202.1 579.5,205.0 C578.5,207.9 577.7,210.2 577.0,213.0 C576.3,215.8 575.8,218.6 575.5,222.0 C575.2,225.4 575.2,229.8 575.2,233.7 C575.2,237.6 575.4,240.9 575.2,245.2 C575.0,249.5 574.8,254.8 574.0,259.5 C573.2,264.2 571.5,268.4 570.7,273.6 C569.9,278.8 569.1,285.3 569.0,290.8 C568.9,296.3 569.9,302.0 570.3,306.5 C570.7,311.0 570.8,314.4 571.5,318.0 C572.2,321.6 573.6,326.1 574.4,328.4 C575.1,330.7 574.8,330.8 576.0,331.9 C577.2,333.0 579.5,334.1 581.8,335.3 C584.1,336.6 587.2,337.9 589.9,339.4 C592.6,340.9 595.7,342.5 598.0,344.5 C600.3,346.5 602.2,349.2 603.7,351.5 C605.2,353.8 606.2,356.3 607.2,358.4 C608.2,360.5 609.7,361.4 610.0,364.0 C610.3,366.6 610.4,370.4 609.0,373.9 C607.6,377.4 604.4,381.5 601.7,384.9 C599.0,388.2 595.4,390.9 592.6,394.0 C589.9,397.1 587.2,400.1 585.2,403.2 C583.2,406.3 581.7,409.0 580.6,412.4 C579.5,415.8 578.9,419.7 578.8,423.4 C578.6,427.1 578.9,431.3 579.7,434.4 C580.5,437.4 581.2,439.6 583.4,441.7 C585.5,443.8 588.9,446.3 592.6,447.2 C596.3,448.1 600.8,447.4 605.4,447.2 C610.0,447.0 617.6,446.2 620.0,446.0 L800.0,446.0 L800.0,62.0Z" fill="#afebfa"/>
<path d="M620.5,64.0 C621.0,65.0 623.0,68.0 623.3,70.0 C623.6,72.0 623.2,72.9 622.2,75.7 C621.2,78.5 619.3,83.6 617.6,87.0 C615.9,90.4 613.8,92.9 612.0,96.0 C610.2,99.1 607.8,102.2 606.7,105.7 C605.6,109.2 606.0,113.2 605.5,117.2 C605.0,121.2 604.6,126.1 604.0,130.0 C603.4,133.9 602.5,137.4 601.7,140.7 C600.9,144.0 600.0,147.1 599.0,150.0 C598.0,152.9 597.1,155.2 596.0,158.0 C594.9,160.8 593.4,163.2 592.5,166.5 C591.6,169.8 591.0,174.4 590.5,178.0 C590.0,181.6 589.6,185.1 589.3,188.0 C589.0,190.9 589.1,192.9 588.6,195.7 C588.1,198.5 586.8,202.1 586.0,205.0 C585.2,207.9 584.8,210.2 584.0,213.0 C583.2,215.8 582.1,218.6 581.5,222.0 C580.9,225.4 580.5,229.8 580.4,233.7 C580.3,237.6 581.0,240.9 581.0,245.2 C581.0,249.5 580.5,254.8 580.4,259.5 C580.3,264.2 580.8,268.4 580.4,273.6 C580.0,278.8 578.2,286.4 578.0,290.8 C577.8,295.2 578.4,296.4 579.0,300.0 C579.6,303.6 581.0,308.7 581.8,312.3 C582.6,315.9 582.6,319.2 584.0,321.5 C585.4,323.8 587.5,324.6 590.0,326.0 C592.5,327.4 595.6,328.1 599.0,329.6 C602.4,331.2 607.1,333.4 610.6,335.3 C614.1,337.2 617.4,338.9 619.9,341.0 C622.4,343.1 624.2,346.2 625.6,348.0 C627.0,349.8 627.6,351.3 628.0,352.0 L800.0,352.0 L800.0,62.0Z" fill="#c8faff"/>
<path d="M623.0,64.0 C623.5,65.0 625.4,68.0 626.0,70.0 C626.6,72.0 627.4,72.9 626.8,75.7 C626.2,78.5 623.8,83.6 622.2,87.0 C620.7,90.4 619.0,92.9 617.5,96.0 C616.0,99.1 613.9,102.2 613.0,105.7 C612.1,109.2 613.0,113.2 612.4,117.2 C611.8,121.2 610.5,126.1 609.5,130.0 C608.5,133.9 607.3,137.4 606.3,140.7 C605.3,144.0 604.5,147.1 603.5,150.0 C602.5,152.9 601.6,155.2 600.6,158.0 C599.6,160.8 598.6,163.2 597.7,166.5 C596.9,169.8 596.1,174.4 595.5,178.0 C594.9,181.6 594.4,185.1 594.0,188.0 C593.6,190.9 593.6,192.9 593.1,195.7 C592.6,198.5 591.6,202.1 591.0,205.0 C590.4,207.9 590.0,210.2 589.7,213.0 C589.4,215.8 589.1,218.6 589.0,222.0 C588.9,225.4 588.9,229.8 589.0,233.7 C589.1,237.6 589.4,240.9 589.6,245.2 C589.8,249.5 589.7,254.5 590.0,259.5 C590.3,264.5 590.4,269.9 591.2,275.0 C592.1,280.1 593.1,285.8 595.0,290.0 C596.9,294.2 599.2,297.1 602.5,300.0 C605.8,302.9 610.8,305.8 615.0,307.5 C619.2,309.2 623.8,310.2 627.5,310.0 C631.2,309.8 634.6,307.7 637.5,306.0 C640.4,304.3 642.1,302.2 645.0,300.0 C647.9,297.8 651.7,294.8 655.0,292.5 C658.3,290.2 660.8,287.9 665.0,286.0 C669.2,284.1 675.0,282.0 680.0,281.0 C685.0,280.0 690.0,279.8 695.0,280.0 C700.0,280.2 705.8,281.9 710.0,282.5 C714.2,283.1 717.1,283.2 720.0,283.8 C722.9,284.3 725.0,285.3 727.5,286.0 C730.0,286.7 733.8,287.7 735.0,288.0 L800.0,288.0 L800.0,62.0Z" fill="#e6ffe1"/>
<path d="M626.0,64.0 C626.5,65.0 628.1,68.0 629.0,70.0 C629.9,72.0 631.8,72.9 631.4,75.7 C631.0,78.5 628.4,83.6 626.8,87.0 C625.2,90.4 623.5,92.9 622.0,96.0 C620.5,99.1 618.4,102.2 617.6,105.7 C616.8,109.2 617.7,113.2 617.0,117.2 C616.3,121.2 614.6,126.1 613.5,130.0 C612.4,133.9 611.2,137.4 610.3,140.7 C609.4,144.0 608.9,147.1 608.0,150.0 C607.1,152.9 606.1,155.2 605.1,158.0 C604.1,160.8 603.1,163.2 602.3,166.5 C601.5,169.8 601.0,174.4 600.5,178.0 C600.0,181.6 599.4,185.1 599.0,188.0 C598.6,190.9 598.7,192.9 598.3,195.7 C597.9,198.5 597.0,202.1 596.5,205.0 C596.0,207.9 596.0,210.2 595.4,213.0 C594.8,215.8 592.6,218.8 593.0,222.0 C593.4,225.2 595.5,229.9 597.5,232.5 C599.5,235.1 601.7,235.4 605.0,237.5 C608.3,239.6 613.3,243.0 617.5,245.0 C621.7,247.0 626.2,248.7 630.0,249.5 C633.8,250.3 635.8,250.7 640.0,250.0 C644.2,249.3 650.0,247.2 655.0,245.5 C660.0,243.8 665.4,240.9 670.0,240.0 C674.6,239.1 678.3,239.4 682.5,240.0 C686.7,240.6 691.1,242.8 695.0,243.8 C698.9,244.8 702.7,245.5 706.0,246.0 C709.3,246.5 713.5,246.8 715.0,247.0 L800.0,247.0 L800.0,62.0Z" fill="#b4faaa"/>
<path d="M636.0,62.0 C636.0,64.3 637.0,71.5 636.0,75.7 C635.0,79.9 631.7,83.6 630.2,87.0 C628.7,90.4 628.0,92.9 627.0,96.0 C626.0,99.1 624.5,102.2 623.9,105.7 C623.3,109.2 623.9,114.0 623.3,117.2 C622.6,120.4 621.0,121.8 620.0,125.0 C619.0,128.2 618.0,132.8 617.0,136.5 C616.0,140.2 614.6,143.9 613.8,147.5 C612.9,151.1 612.8,154.8 612.0,158.0 C611.2,161.2 609.5,162.0 609.0,166.5 C608.5,171.0 608.2,179.8 608.8,185.0 C609.3,190.2 610.8,193.5 612.5,197.5 C614.2,201.5 615.4,206.7 618.8,208.8 C622.1,210.8 628.5,210.6 632.5,210.0 C636.5,209.4 638.8,206.5 642.5,205.0 C646.2,203.5 651.2,201.3 655.0,201.0 C658.8,200.7 661.2,202.2 665.0,203.0 C668.8,203.8 673.3,204.8 677.5,206.0 C681.7,207.2 685.8,209.3 690.0,210.0 C694.2,210.7 698.3,210.0 702.5,210.0 C706.7,210.0 712.9,210.0 715.0,210.0 L800.0,210.0 L800.0,62.0Z" fill="#78f573"/>
<path d="M634.0,60.0 L665.0,60.0 L665.0,73.0 L656.0,73.8 L646.0,74.3 L639.0,76.5 L636.0,80.0 L634.0,80.0Z" fill="#b4faaa"/>
<path d="M668.0,86.0 C666.9,85.5 663.1,83.8 661.4,82.8 C659.7,81.8 659.5,80.7 658.0,79.9 C656.5,79.1 654.5,78.5 652.2,78.2 C649.9,77.9 646.4,77.7 644.1,78.2 C641.8,78.7 639.9,79.6 638.4,81.0 C636.9,82.4 635.9,84.9 635.0,86.8 C634.1,88.7 633.9,90.3 633.2,92.6 C632.5,94.9 630.9,97.6 630.6,100.5 C630.3,103.4 631.4,106.3 631.5,110.0 C631.6,113.7 630.2,118.3 631.0,122.5 C631.8,126.7 632.8,130.8 636.0,135.0 C639.2,139.2 645.2,143.3 650.0,147.5 C654.8,151.7 660.0,155.8 665.0,160.0 C670.0,164.2 675.0,169.0 680.0,172.5 C685.0,176.0 690.0,178.5 695.0,181.0 C700.0,183.5 705.5,185.8 710.0,187.5 C714.5,189.2 720.0,190.4 722.0,191.0 L800.0,191.0 L800.0,86.0Z" fill="#37d23c"/>
<path d="M759.1,118.0 L759.1,122.7 L759.7,133.0 L759.1,141.1 L756.8,148.0 L753.0,153.0 L775.0,153.0 L775.0,118.0Z" fill="#78f573"/>
<path d="M725.0,140.0 C727.5,136.3 734.9,121.3 740.0,118.0 C745.1,114.7 753.0,118.3 755.7,120.0 C758.4,121.7 756.3,125.7 756.2,128.4 C756.1,131.2 755.8,133.8 755.1,136.5 C754.4,139.2 753.5,142.1 752.2,144.6 C751.0,147.1 749.3,149.2 747.6,151.5 C745.9,153.8 743.7,155.9 741.8,158.4 C739.9,160.9 737.7,164.8 736.0,166.5 C734.3,168.2 733.4,168.6 731.5,168.8 C729.6,169.0 727.7,168.4 724.6,167.6 C721.5,166.8 716.9,165.6 713.0,164.1 C709.1,162.6 705.3,160.5 701.5,158.4 C697.7,156.3 693.9,154.9 690.0,151.5 C686.1,148.1 681.9,141.8 678.3,137.9 C674.7,134.0 671.8,131.5 668.6,128.3 C665.4,125.1 662.0,122.0 659.0,118.6 C656.0,115.1 653.0,111.3 650.7,107.6 C648.4,103.9 646.5,100.4 645.2,96.6 C643.9,92.8 642.3,86.7 643.1,84.8 C643.9,82.9 647.4,84.5 650.0,85.0 C652.6,85.5 656.0,86.5 659.0,88.0 C662.0,89.5 665.6,92.0 668.3,93.7 C671.0,95.4 671.7,97.2 675.3,98.3 C678.9,99.3 682.5,98.0 690.0,100.0 C697.5,102.0 714.2,103.3 720.0,110.0 C725.8,116.7 724.2,135.0 725.0,140.0Z" fill="#1eb41e"/>
<path d="M686.6,115.2 L694.8,107.6 L707.2,110.4 L720.0,117.0 L720.0,127.0 L712.0,137.0 L703.1,131.0 L694.8,122.8Z" fill="#fffaaa"/>
<path d="M674.0,97.0 L676.2,100.0 L681.7,106.9 L685.2,100.3 L686.0,97.0Z" fill="#fffaaa"/>
<path d="M724.0,262.0 L727.0,268.0 L722.0,276.0 L723.0,283.0 L729.0,286.0 L727.0,292.0 L720.0,300.0 L712.0,307.0 L703.0,312.0 L708.0,316.0 L722.0,309.0 L732.0,298.0 L736.0,288.0 L733.0,272.0 L728.0,262.0Z" fill="#afebfa"/>
<path d="M503.1,112.5 H783.1 M503.1,187.79999999999998 H783.1 M503.1,263.1 H783.1 M503.1,338.40000000000003 H783.1 M503.1,413.5 H783.1 M503.1,489.0 H783.1" fill="none" stroke="#789" stroke-width="0.5" stroke-dasharray="2 2.5" opacity="0.4"/>
</g>
<g fill="none" stroke="#a0a0a0" stroke-width="0.6"><path d="M563.7,37.9 L563.8,40.7 L564.2,43.4 L564.6,46.2 L564.3,49.0 L564.6,51.8 L564.4,54.4 L564.0,56.9 L563.5,59.5 L563.0,62.0 L562.7,64.6 L562.1,67.2 L562.4,69.8 L561.8,72.3 L561.6,74.9 L561.8,77.5 L561.1,80.6 L560.3,83.7 L559.1,86.6 L559.6,89.4 L559.3,92.2 L559.7,94.9 L560.0,97.7 L559.5,100.2 L559.3,102.8 L559.3,105.4 L559.3,107.9 L559.1,110.5 L559.9,114.1 L560.0,117.8 L559.7,120.6 L558.4,123.2 L557.8,126.0 L557.2,128.8 L556.6,131.4 L556.4,134.0 L556.0,136.5 L555.7,139.1 L555.4,141.7 L554.6,145.4 L554.5,149.1 L553.9,152.3 L552.6,155.2 L551.7,158.3 L551.1,160.9 L550.0,163.3 L549.2,165.9 L549.0,168.6 L548.1,171.1 L548.9,173.8 L549.2,176.6 L549.6,179.3 L549.9,182.1 L548.6,184.5 L547.7,187.2 L546.3,189.6 L545.3,192.2 L545.5,195.2 L545.3,198.2 L545.6,201.1 L545.3,204.1 L545.6,206.9 L546.2,209.6 L546.4,212.4 L547.1,215.1 L546.7,217.8 L547.1,220.6 L547.4,223.3 L547.1,226.1 L546.2,228.6 L545.7,231.2 L545.5,233.9 L545.0,236.5 L544.4,239.1 L543.5,241.6 L543.5,244.3 L542.9,246.8 L542.0,249.3 L541.6,251.9 L541.0,254.9 L540.5,258.0 L540.1,261.1 L538.5,264.0 L537.4,267.1 L536.1,270.1 L535.0,272.9 L534.0,275.7 L532.9,278.4 L531.5,281.1 L530.2,283.5 L528.8,285.7 L527.2,287.9 L526.0,290.3 L524.8,292.6 L523.7,294.9 L522.7,297.2 L521.5,299.5 L522.0,302.6 L522.8,305.5 L523.3,308.6 L523.5,311.4 L524.1,314.1 L524.5,316.9 L525.1,319.6 L525.4,322.3 L525.5,325.1 L525.6,327.9 L526.0,330.6 L524.5,332.7 L523.7,335.2 L522.8,337.6 L521.5,339.8 L520.9,342.5 L520.8,345.4 L520.2,348.1 L519.6,350.8 L519.4,353.3 L518.4,355.7 L517.8,358.1 L518.6,360.5 L519.1,362.9 L519.6,365.4"/><path d="M582.0,37.9 L582.8,40.4 L583.2,42.9 L583.4,45.5 L583.8,48.1 L585.1,50.9 L586.6,53.6 L587.6,56.3 L588.3,59.0 L588.8,61.8 L589.3,64.6 L589.8,67.4 L591.0,70.0 L591.2,72.9 L592.1,75.6 L593.1,79.3 L597.6,81.1 L600.4,79.3"/><path d="M663.1,37.9 L662.7,40.8 L661.8,43.6 L661.0,46.3 L660.1,49.1 L659.1,51.9 L658.8,54.8 L657.9,57.6 L657.7,60.5 L656.8,63.3 L656.1,66.1 L655.6,69.5 L655.6,72.8"/><path d="M713.1,37.9 L713.3,40.5 L713.5,43.2 L713.6,45.8 L714.3,48.4 L714.2,51.0 L714.3,53.6 L714.5,56.3 L715.3,58.8 L715.2,61.5 L715.6,64.1 L717.3,66.3 L719.2,68.4 L720.7,70.8 L722.7,72.7 L724.6,74.8 L726.0,77.2 L728.1,79.1 L730.0,81.2 L732.2,83.0 L734.2,85.0 L736.1,87.1 L738.1,89.1 L740.3,90.7 L741.9,92.8 L743.8,94.7 L745.9,96.4 L749.5,95.9 L753.1,95.5 L754.8,98.0 L756.9,100.1 L757.0,103.8 L757.8,107.4 L756.8,110.5 L755.8,113.5 L755.0,116.6 L755.1,120.1 L754.6,123.6"/><path d="M714.8,189.1 L717.5,189.6 L720.2,190.1 L722.9,190.7 L725.7,190.9 L727.3,193.0 L729.2,194.8 L731.3,196.4 L733.1,198.3 L735.4,200.1 L738.1,201.3 L740.5,202.9 L742.8,204.0 L745.1,205.2 L747.1,206.7 L749.4,207.8 L751.5,209.3 L753.9,211.0 L756.0,213.0 L758.3,214.9 L760.7,216.6 L762.4,219.0 L764.7,221.0 L766.5,223.3 L768.1,225.8 L771.7,228.5"/><path d="M786.6,207.1 L788.1,203.1 L791.1,199.6 L793.1,200.1 L791.6,202.3 L790.1,204.6 L788.7,206.8 L787.6,209.1 L786.6,207.1"/><path d="M706.6,251.5 L709.4,252.9 L711.9,254.9 L714.8,256.1 L717.8,257.1 L720.9,257.6 L724.0,257.9 L726.9,259.3 L730.0,260.6 L733.1,261.6 L736.1,260.6 L739.3,260.4 L742.4,259.7 L745.5,259.8 L748.4,260.5 L751.5,260.7 L753.8,259.3 L756.1,257.9 L758.4,256.5 L760.7,255.1 L762.1,252.9 L763.7,250.7 L765.2,248.5 L766.2,246.0 L766.7,242.9 L767.7,239.9 L768.1,236.8 L769.6,234.2 L770.4,231.2 L771.7,228.5 L773.7,226.8 L776.1,225.6 L777.8,223.1 L779.6,220.7 L781.1,218.1 L782.5,215.4 L783.5,212.7 L785.1,210.1 L786.6,207.8 L787.6,205.4 L789.1,203.1 L791.1,200.8 L792.6,198.1 L794.9,195.6"/><path d="M519.7,366.6 L516.9,366.3 L515.1,374.1 L514.0,382.1 L512.8,387.5 L516.1,389.6 L519.7,389.8 L521.6,386.1 L523.1,380.1 L524.3,372.5 L523.1,366.7 L519.7,366.6"/><path d="M519.6,365.4 L524.1,365.3 L529.0,365.0 L530.1,361.6 L532.6,360.6 L534.7,361.0 L537.0,363.3 L534.7,369.1 L535.9,373.7 L532.4,377.1 L531.3,385.1 L529.0,394.4 L526.7,400.1 L529.1,403.1 L532.1,409.1 L530.1,416.1 L533.1,423.1 L529.1,430.1 L531.1,437.1 L527.1,445.1 L525.1,451.1 L527.1,457.1 L523.1,462.1"/><path d="M582.1,528.5 L578.1,527.1 L574.0,525.8 L568.5,527.9 L560.2,530.6 L556.1,534.7 L555.4,541.6 L557.5,548.5 L564.4,554.0 L573.1,558.6 L582.2,562.2"/><path d="M563.0,532.0 L560.2,537.5 L563.0,543.0 L569.9,541.6 L574.0,540.2"/><path d="M559.1,545.1 L564.1,547.1 L569.1,546.1 L572.1,548.1"/><path d="M538.2,529.2 L542.1,527.6 L546.5,528.5 L549.2,532.0 L548.1,535.1 L546.5,536.1 L539.6,536.8 L537.1,533.1 L538.2,529.2"/><path d="M540.7,518.6 L543.1,522.1 L548.1,524.1 L555.1,523.6 L563.1,525.1 L569.1,523.6 L574.0,525.8"/><path d="M629.0,562.9 L632.1,561.3 L635.1,561.9 L638.1,560.5 L641.4,560.1 L639.1,561.9 L635.1,562.9 L631.1,563.4 L629.0,562.9"/></g><path fill="none" stroke="#6a6a84" stroke-width="0.5" d="M513.3,399.5 L514.7,398.3 L517.2,398.4 L517.3,400.9 L518.2,402.1 L517.0,402.6 L516.0,404.8 L513.7,403.2 L514.6,401.2Z M503.0,408.0 L502.8,408.3 L502.4,408.2 L501.8,408.4 L501.4,408.0 L500.9,407.4 L501.6,407.1 L502.2,406.9 L502.9,407.2 L503.5,407.5Z M523.7,401.9 L523.4,401.4 L523.9,401.5 L524.1,401.5 L524.4,401.5 L524.3,401.9 L524.3,402.1 L524.5,402.7 L524.0,402.5 L523.5,403.0 L523.7,402.2Z M513.2,398.6 L512.8,400.3 L511.7,400.9 L510.4,401.4 L510.0,399.3 L512.1,398.7Z M531.0,407.1 L529.2,405.6 L531.1,404.7 L531.7,402.4 L532.8,404.7 L534.2,405.4 L533.6,407.0 L533.0,408.2 L531.5,410.6Z M522.6,406.8 L523.1,406.5 L523.4,406.4 L523.8,406.5 L523.6,406.9 L523.5,407.5 L522.8,407.5Z M529.8,400.3 L530.0,401.2 L530.5,401.8 L530.7,402.8 L530.0,402.1 L529.7,402.2 L529.2,401.7 L529.2,401.0 L529.3,400.7 L529.3,400.0Z M527.7,407.2 L527.3,406.6 L527.2,406.3 L525.8,405.7 L527.1,405.4 L527.3,404.4 L528.0,405.1 L529.0,404.8 L529.1,405.8 L528.6,406.4 L528.1,406.7Z M531.0,405.4 L532.2,405.8 L531.1,406.5 L530.6,406.7 L530.1,407.0 L529.4,406.7 L529.8,406.0 L530.0,405.5 L530.5,405.0Z M528.8,406.3 L526.9,405.6 L527.1,403.9 L527.8,403.1 L528.6,403.0 L531.1,402.6 L530.6,405.0Z M532.6,409.9 L532.4,410.2 L532.0,410.0 L532.0,409.7 L531.2,409.1 L531.8,409.0 L532.4,409.4 L533.2,409.4 L532.9,409.8Z M518.8,396.7 L518.6,397.3 L518.5,396.7 L518.6,396.3 L518.6,396.0 L518.7,395.9 L518.8,396.0 L519.0,396.2 L519.0,396.7Z M505.3,395.7 L506.6,396.7 L506.8,398.3 L506.6,399.3 L507.3,402.9 L505.4,400.6 L503.3,401.6 L503.0,398.9 L504.0,396.9Z M522.1,407.8 L522.4,408.4 L521.6,408.7 L521.2,408.6 L520.7,408.7 L520.7,408.3 L520.3,407.9 L520.6,407.2 L521.3,406.8 L521.6,407.3 L521.9,407.5Z M505.9,397.2 L506.4,396.9 L507.9,396.2 L508.1,397.2 L506.7,397.7 L505.9,398.2 L504.6,398.1Z M521.9,404.5 L522.2,406.1 L522.3,406.9 L524.8,408.9 L521.6,408.2 L520.6,410.5 L518.9,409.5 L518.6,407.8 L516.8,406.2 L519.9,406.1 L520.5,405.4Z M531.1,403.2 L530.5,402.9 L529.7,401.9 L530.7,400.8 L532.0,401.4 L532.1,402.4 L532.0,403.1Z M524.2,406.6 L524.6,406.7 L525.1,406.9 L525.3,407.3 L525.6,407.8 L525.0,407.5 L524.8,407.6 L524.4,407.2 L524.4,407.0Z M507.4,399.5 L508.8,400.0 L507.3,401.4 L505.2,401.5 L503.3,401.0 L505.3,399.6 L506.9,398.9Z M529.8,410.2 L528.8,410.0 L528.7,409.3 L529.7,409.4 L530.4,409.3 L530.2,409.8 L530.4,410.2Z M523.2,395.2 L524.8,395.2 L522.7,396.4 L521.5,397.2 L519.5,397.9 L521.1,396.2 L521.7,395.5 L523.1,394.3Z M509.7,403.5 L509.7,405.5 L508.4,407.9 L506.0,407.5 L505.6,405.6 L504.2,404.6 L504.4,401.9 L507.1,402.5 L509.3,401.5Z M506.5,408.6 L505.5,408.5 L504.6,408.7 L504.1,407.7 L504.3,406.7 L505.4,407.0 L506.7,406.1 L506.7,407.5Z M508.5,400.0 L508.7,399.6 L509.5,399.5 L509.8,399.8 L509.7,400.0 L509.7,400.3 L509.2,400.4 L508.5,400.7 L508.0,400.4Z M515.6,407.4 L515.7,406.9 L516.4,407.7 L516.7,408.0 L516.6,408.2 L516.5,408.4 L516.0,408.1Z M520.8,396.0 L521.5,398.0 L521.5,400.4 L518.5,399.7 L517.6,402.1 L515.5,402.1 L514.8,399.9 L514.9,398.0 L515.0,395.6 L517.3,395.4 L518.6,396.5Z M517.2,398.4 L516.9,399.2 L515.9,399.0 L516.1,397.9 L516.0,396.8 L516.8,397.4 L517.1,397.9Z M529.3,407.9 L529.7,408.2 L529.1,408.6 L528.7,409.0 L528.0,409.0 L528.3,408.4 L528.0,408.0 L528.7,407.9Z M519.9,408.1 L520.7,406.9 L519.5,405.5 L521.0,404.9 L522.6,404.2 L523.2,405.7 L522.8,406.8 L522.4,407.5 L521.9,408.0 L521.1,408.0Z M512.7,399.1 L512.5,398.9 L512.7,398.4 L513.2,398.2 L513.6,398.3 L513.3,398.7 L513.2,399.3Z M527.7,406.5 L529.7,407.6 L528.3,408.4 L528.8,411.2 L525.8,410.0 L524.0,407.7 L523.4,405.2 L525.8,404.8Z M514.6,400.0 L516.0,398.1 L515.8,399.8 L516.0,400.3 L515.3,401.5 L514.2,401.9 L513.5,401.8 L514.0,400.7Z M525.5,411.5 L526.3,411.5 L527.1,413.0 L528.4,414.6 L527.9,415.6 L527.0,415.0 L526.0,414.4 L525.5,412.8Z M518.3,418.8 L518.6,417.3 L518.6,416.4 L518.7,415.5 L519.3,414.9 L520.3,415.7 L521.4,417.1 L521.6,419.1 L520.2,418.7 L520.1,419.7 L519.4,419.4Z M517.7,411.8 L516.4,413.9 L517.5,415.5 L516.4,417.0 L514.9,415.2 L512.3,416.5 L513.6,414.2 L513.1,412.8 L514.5,412.6 L515.7,411.6Z M527.8,420.7 L527.5,418.8 L528.6,418.2 L529.6,416.1 L531.6,418.4 L532.9,420.7 L530.9,421.1 L531.2,423.9 L529.1,422.5Z M522.1,417.5 L521.9,420.7 L518.7,420.1 L515.6,420.4 L516.8,417.9 L518.8,416.9Z M522.8,425.0 L522.3,424.9 L522.9,424.7 L522.9,424.5 L523.3,424.6 L524.0,424.3 L523.9,424.6 L523.8,424.8 L523.8,425.0 L523.4,425.0 L523.0,425.1Z M510.8,420.2 L508.9,418.8 L509.8,417.3 L510.7,416.7 L512.1,415.0 L514.1,416.1 L514.3,417.9 L512.7,418.7Z M510.8,411.7 L511.6,411.6 L511.5,412.1 L512.2,412.4 L511.7,412.9 L510.8,412.7 L510.3,412.9 L510.2,412.6 L510.1,412.5 L509.9,412.2 L510.2,412.0Z M501.6,418.8 L501.7,418.3 L502.0,417.7 L502.6,418.1 L503.6,417.6 L503.9,418.5 L503.4,419.2 L503.1,420.0 L502.2,420.2 L501.5,419.7Z M509.7,413.5 L511.0,414.8 L510.2,416.7 L507.4,417.5 L506.3,415.5 L506.5,414.0 L508.1,413.7Z M529.2,423.6 L529.5,424.0 L528.9,424.2 L528.7,424.5 L528.2,424.8 L528.4,424.2 L528.3,423.8 L528.5,423.2 L529.1,423.1Z M528.1,413.3 L529.2,414.0 L530.6,414.8 L530.8,416.0 L529.9,416.7 L528.2,416.1 L526.9,416.3 L526.6,415.2 L526.3,414.6 L526.3,413.9 L526.5,412.8Z M522.3,426.1 L521.2,424.6 L522.0,423.0 L522.8,422.0 L523.8,422.4 L525.1,422.7 L524.2,424.0 L523.6,424.6Z M505.2,413.4 L505.5,414.1 L505.5,414.8 L505.0,414.7 L504.6,414.9 L504.3,414.4 L504.8,414.1Z M512.0,410.5 L509.6,410.8 L507.4,410.3 L507.6,408.5 L509.1,406.9 L510.7,408.7Z M520.1,416.6 L519.7,415.5 L520.9,415.9 L522.2,414.5 L523.6,414.8 L522.5,416.3 L521.5,416.9 L521.4,417.8 L520.7,417.5 L519.6,418.0 L519.0,417.5Z M520.6,410.0 L520.8,409.3 L521.6,409.7 L521.8,410.1 L521.7,410.3 L521.2,410.4Z M501.4,411.0 L501.7,411.1 L501.8,411.2 L502.0,411.2 L501.9,411.7 L501.6,412.2 L501.5,411.8 L501.4,411.7 L501.4,411.5Z M527.7,412.7 L529.1,414.1 L527.2,415.9 L524.6,416.0 L521.9,416.4 L521.9,414.5 L521.2,412.9 L523.7,411.9 L525.4,411.5 L528.3,410.5Z M507.5,417.9 L508.1,418.5 L507.8,418.9 L507.0,418.6 L506.5,418.1 L506.2,417.5 L506.9,417.6 L506.9,416.9 L507.7,417.3Z M502.8,419.0 L504.6,419.9 L504.5,421.6 L503.7,424.2 L500.8,422.3 L499.1,420.0 L499.3,417.0Z M515.6,413.6 L514.8,413.9 L515.0,413.3 L514.8,413.2 L514.7,412.9 L515.4,412.7 L515.9,412.3 L516.3,412.3 L516.9,412.4 L516.2,413.0Z M520.7,422.3 L521.5,422.3 L522.1,421.8 L522.7,422.1 L523.4,422.9 L522.7,424.0 L521.5,423.7 L520.8,423.7 L520.3,423.1Z M509.2,424.0 L509.2,423.4 L509.6,422.7 L510.0,422.9 L510.3,422.8 L510.5,423.3 L510.0,424.0 L509.5,424.1Z M528.5,415.5 L528.3,415.3 L528.3,415.0 L528.4,414.7 L528.6,414.6 L528.9,414.5 L529.1,414.9 L529.1,415.2 L529.5,415.6 L529.0,415.6 L528.8,416.0Z M509.5,416.4 L511.1,417.2 L510.9,418.0 L509.3,417.3 L508.3,417.2 L506.6,416.5 L506.8,415.7 L508.2,416.0 L508.9,415.9Z M529.2,411.8 L530.3,412.7 L529.6,414.0 L527.6,415.6 L526.3,413.5 L526.4,410.6Z M507.8,416.4 L509.3,416.3 L511.0,417.0 L509.6,418.0 L508.8,418.8 L507.1,418.5 L505.9,417.1Z M512.7,421.2 L512.4,421.9 L511.8,421.6 L510.8,421.7 L510.4,420.6 L511.4,420.1 L512.2,419.7 L513.1,420.2Z M502.2,411.0 L502.1,410.1 L501.9,408.5 L502.9,409.4 L503.9,410.5 L503.1,411.3Z M523.4,422.1 L523.4,421.6 L523.6,421.3 L523.3,420.9 L523.9,420.9 L524.3,420.4 L524.4,420.7 L524.7,420.8 L524.3,421.3 L524.0,421.5Z M509.4,413.5 L507.8,417.0 L507.1,420.1 L503.0,419.7 L501.6,416.0 L505.1,413.8Z M507.4,417.1 L507.7,416.7 L507.8,417.3 L507.7,417.9 L507.4,418.3 L506.9,418.7 L507.3,417.5Z M508.8,420.8 L508.2,421.1 L507.7,420.6 L507.5,419.7 L507.8,418.8 L508.5,418.9 L509.3,418.7 L509.6,419.7 L509.5,420.7Z M518.1,415.4 L517.7,414.5 L518.3,414.9 L518.7,414.8 L518.9,415.3 L518.9,415.7 L518.7,416.0 L518.5,416.6 L518.0,416.5 L517.6,415.9Z M506.2,411.8 L506.2,413.2 L505.2,412.6 L504.4,412.1 L503.7,411.2 L504.3,410.1 L505.2,409.3 L506.3,409.8 L507.3,410.3 L506.8,411.4Z M513.8,416.6 L514.5,416.5 L514.6,417.1 L515.1,418.0 L513.9,417.8 L513.2,417.2 L513.2,416.7Z M530.6,421.4 L531.4,421.1 L531.2,422.2 L530.9,422.8 L530.2,422.8 L530.2,421.9Z M526.4,415.1 L527.0,413.3 L530.0,411.7 L532.1,414.7 L528.7,416.4 L527.3,419.0 L524.7,417.7Z M514.8,418.4 L513.4,418.3 L513.1,416.6 L514.7,416.4 L515.6,416.4 L516.8,417.2 L515.6,418.1Z M506.8,425.1 L504.9,423.3 L503.5,421.1 L506.0,420.0 L507.8,421.3 L508.0,423.0Z M515.2,420.9 L515.2,421.3 L515.0,421.5 L514.6,422.0 L514.2,421.6 L514.3,421.1 L513.6,420.6 L514.5,420.7 L514.8,419.9 L515.0,420.8Z M513.3,418.4 L513.6,417.5 L514.2,416.3 L515.2,416.5 L517.2,415.1 L517.9,416.3 L515.5,417.9 L515.3,419.1 L513.8,420.3 L513.3,419.3Z M515.0,421.8 L516.1,422.3 L516.1,423.6 L515.4,424.1 L514.3,423.8 L514.2,422.4Z M500.8,423.8 L500.6,424.4 L500.2,424.9 L499.8,424.7 L499.7,423.9 L500.2,423.3 L500.4,422.7 L500.7,422.9 L501.1,422.7 L501.1,423.3Z M511.6,422.5 L512.0,422.3 L512.5,422.2 L512.7,422.7 L513.0,423.1 L512.9,423.6 L512.3,423.3 L512.1,423.3 L511.9,423.2 L511.5,422.9Z M505.4,427.3 L505.4,426.6 L506.0,426.9 L506.7,427.6 L506.4,427.9 L506.1,428.5Z M521.2,429.8 L521.0,430.5 L520.4,430.4 L520.1,430.0 L519.2,429.4 L520.4,429.3 L520.8,428.6 L521.7,428.6 L522.3,429.3Z M515.3,426.9 L515.0,426.4 L515.1,425.9 L515.6,426.1 L515.8,426.3 L516.1,427.1Z M504.2,430.1 L503.2,429.2 L504.1,428.6 L504.7,428.5 L505.9,428.4 L506.2,429.6 L505.3,429.9 L505.1,430.4Z M524.8,436.9 L523.6,438.2 L522.7,438.8 L521.4,440.0 L520.8,438.4 L519.6,437.4 L521.0,436.5 L521.5,435.6 L522.4,435.9 L523.7,435.8Z M521.6,428.3 L522.3,428.8 L523.0,429.2 L522.7,430.3 L522.8,431.0 L522.4,430.9 L522.0,431.8 L521.7,430.9 L521.6,430.3 L521.9,430.0Z M522.3,430.5 L521.3,430.8 L520.6,433.0 L519.4,431.0 L517.7,430.1 L517.7,428.4 L518.4,426.6 L520.4,428.6 L521.4,428.3 L522.3,429.3Z M504.5,418.0 L505.3,418.8 L505.0,419.5 L504.6,420.1 L503.5,420.8 L503.2,419.5 L502.5,418.8 L503.1,418.0Z M521.3,434.2 L522.0,434.7 L522.9,435.8 L521.8,436.2 L520.7,436.2 L519.1,435.8 L520.0,434.7 L520.4,434.1Z M520.5,431.4 L521.2,431.7 L521.2,432.3 L520.5,432.2 L519.7,432.3 L519.9,431.7Z M523.1,434.0 L521.7,434.9 L521.1,434.1 L521.3,432.5 L523.3,432.3 L524.9,431.9 L524.0,433.4Z M516.2,437.5 L516.8,437.6 L517.0,438.0 L517.5,438.5 L516.9,438.8 L516.0,438.5 L515.3,438.1 L516.0,437.9Z M516.2,429.9 L516.8,429.6 L517.3,429.8 L516.7,430.3 L516.5,430.5 L516.2,430.8 L515.8,430.8 L515.7,430.5 L515.5,430.1Z M504.6,434.3 L504.8,432.5 L505.3,431.6 L505.8,431.1 L506.5,429.6 L508.2,430.0 L507.6,431.7 L507.6,432.5 L507.8,433.9 L506.4,434.2Z M511.3,434.7 L511.9,435.6 L512.2,435.8 L512.4,436.1 L512.8,436.7 L512.4,436.8 L512.1,436.6 L511.8,437.0 L511.5,436.5 L511.4,436.0 L511.3,435.5Z M507.6,430.5 L508.3,428.8 L510.0,428.2 L512.1,428.5 L512.7,430.7 L510.9,431.5 L510.0,432.9 L508.7,431.9Z M515.6,431.5 L516.1,432.2 L515.8,432.8 L515.3,433.5 L514.5,432.6 L514.3,432.0 L514.4,431.5 L514.8,431.3Z M522.3,434.6 L524.1,436.6 L521.7,437.6 L521.7,438.6 L520.7,439.4 L518.4,439.2 L518.0,437.3 L516.7,435.5 L518.9,435.4 L519.9,434.0Z M518.7,430.6 L518.3,431.3 L517.7,431.9 L516.9,431.5 L517.0,430.3 L516.7,429.8 L516.7,428.8 L517.4,429.2 L517.8,429.4 L517.9,429.9Z M501.2,424.4 L501.2,425.5 L500.3,426.1 L500.3,424.9 L499.6,424.7 L500.3,424.2 L500.6,424.0 L501.0,423.9Z M498.5,425.2 L498.7,425.0 L498.9,425.0 L499.2,425.1 L499.2,425.9 L498.9,426.1 L498.7,426.3 L498.4,426.3 L498.3,425.8Z M510.1,436.2 L510.7,435.4 L511.2,434.4 L512.3,434.5 L512.7,435.6 L512.5,436.3 L513.2,437.4 L512.0,437.2 L511.3,437.6 L511.0,436.8Z M517.0,431.1 L517.1,430.8 L517.1,430.0 L517.6,430.1 L517.6,430.8 L517.8,431.1 L517.5,431.4 L517.2,432.1 L516.6,432.0Z M524.5,433.2 L525.1,432.9 L525.4,434.0 L526.2,434.4 L525.9,436.2 L525.2,437.9 L524.5,437.1 L523.7,437.4 L523.6,435.9 L524.3,434.8Z M523.7,429.7 L523.6,429.4 L524.1,429.3 L524.2,429.0 L524.8,428.4 L524.5,429.2 L524.9,429.3 L524.9,429.7 L524.4,430.1 L523.9,430.3 L523.7,430.0Z M501.4,428.4 L502.2,428.4 L502.4,427.9 L502.8,428.3 L503.1,428.6 L503.0,429.0 L502.9,429.5 L502.2,429.6 L501.9,428.9Z M510.6,442.5 L511.0,443.7 L509.3,443.3 L507.5,442.8 L508.0,441.7 L509.6,441.4Z M516.7,441.0 L516.4,440.5 L516.7,440.1 L517.2,439.7 L518.4,439.6 L518.1,440.4 L518.6,441.1 L517.5,441.0Z M512.9,442.9 L514.8,443.0 L515.9,444.6 L514.3,445.9 L514.2,447.1 L512.8,448.6 L511.1,447.4 L510.7,445.5 L511.8,444.2Z M504.0,435.2 L502.7,435.5 L502.1,434.0 L500.4,432.6 L500.8,430.8 L502.9,431.7 L503.6,430.1 L505.0,430.9 L505.3,432.6 L505.5,433.8 L505.6,435.7Z M509.9,441.5 L509.7,441.4 L509.5,441.4 L509.3,441.3 L509.2,440.9 L509.4,440.7 L509.6,440.7 L509.9,440.5 L509.9,441.0 L510.1,441.3Z M514.7,444.0 L515.7,443.9 L516.1,443.9 L516.4,444.0 L516.6,444.2 L516.3,444.4 L515.8,444.6 L515.5,444.5 L515.0,444.4Z M510.0,443.5 L509.7,442.2 L509.6,441.7 L509.3,441.0 L509.5,440.1 L510.1,439.6 L510.4,441.0 L510.9,441.2 L510.5,441.7 L510.8,443.1Z M511.7,447.1 L512.7,447.3 L513.2,447.4 L513.5,447.7 L513.2,448.3 L512.5,448.1 L511.5,448.4 L511.6,447.8Z M516.4,443.3 L516.8,444.2 L516.0,444.5 L515.4,443.9 L514.8,444.1 L514.6,443.5 L514.4,442.6 L515.3,442.5 L516.0,442.0 L516.8,442.3Z M514.2,439.6 L517.4,439.0 L518.8,439.7 L520.5,441.3 L516.1,442.2 L513.1,441.4Z M510.2,442.8 L510.0,440.2 L510.5,438.4 L512.1,438.0 L514.3,438.9 L513.2,441.3 L512.4,443.3Z M504.4,449.5 L503.8,448.7 L504.1,447.3 L505.9,447.2 L507.3,447.5 L506.2,448.9Z M514.7,444.3 L516.8,444.1 L517.5,445.5 L515.6,446.4 L514.3,447.0 L513.4,446.2 L511.0,445.6 L513.4,444.7Z M510.0,447.0 L510.2,447.7 L510.4,447.8 L510.9,448.2 L510.7,448.6 L510.2,448.8 L509.6,448.4 L509.1,447.9 L509.2,447.4 L509.8,447.5Z M512.3,444.8 L510.2,445.2 L509.3,443.8 L507.8,443.0 L508.7,441.7 L510.1,440.9 L512.1,440.5 L511.6,442.4 L512.5,443.1Z M505.4,451.3 L505.2,451.6 L504.6,451.5 L504.7,450.5 L504.6,450.1 L504.4,449.2 L505.0,449.2 L505.6,449.7 L505.6,450.6 L506.2,451.6Z M503.7,459.9 L503.7,460.3 L502.8,460.6 L502.5,460.9 L502.0,461.0 L501.8,460.8 L502.3,460.5 L502.4,460.1 L502.9,460.2Z M517.7,461.7 L518.2,462.5 L518.6,463.5 L517.7,463.7 L516.4,463.5 L516.3,462.1 L517.1,461.8Z M516.7,458.5 L516.4,458.0 L516.5,457.3 L517.1,456.9 L517.6,457.4 L517.6,457.9 L517.8,458.2 L518.1,458.9 L517.5,459.1 L516.9,459.0Z M509.4,456.3 L509.8,456.0 L510.2,456.3 L510.6,456.3 L510.4,456.5 L510.3,456.7 L510.0,456.7 L509.4,456.9 L509.5,456.6Z M507.6,459.3 L506.9,459.6 L506.6,460.2 L506.1,459.6 L505.9,459.2 L505.0,458.7 L505.8,458.4 L506.2,457.8 L506.8,458.3 L506.9,458.8Z M510.1,457.1 L510.6,457.2 L510.0,457.9 L510.1,458.2 L509.8,459.0 L509.1,458.8 L508.7,458.7 L508.3,458.3 L509.0,457.8 L509.4,457.3Z M506.2,454.5 L506.6,453.0 L508.2,453.4 L508.7,455.1 L508.7,456.6 L507.4,457.1 L505.8,456.4Z M516.1,458.0 L517.0,457.0 L517.6,456.6 L518.4,455.9 L518.7,457.2 L520.4,457.6 L519.9,459.0 L518.6,459.0 L517.9,459.0 L516.7,459.2Z M505.0,462.9 L504.9,462.3 L505.2,461.9 L505.0,461.2 L505.5,461.1 L505.8,461.5 L505.6,462.0 L505.9,462.5 L505.5,462.6Z M498.4,459.1 L497.9,459.3 L497.6,459.0 L497.9,458.5 L498.2,458.1 L498.9,457.9 L498.5,458.6Z M504.0,454.2 L504.3,453.8 L504.8,454.1 L505.2,454.1 L505.5,454.3 L505.8,454.6 L505.0,454.6 L504.8,455.1 L504.3,454.9 L504.4,454.6 L503.9,454.5Z M502.6,467.5 L504.5,467.3 L506.9,468.1 L507.1,471.0 L505.0,472.3 L503.6,471.8 L501.2,473.7 L500.4,471.1 L501.5,469.1Z M505.0,475.8 L506.0,477.2 L504.0,478.1 L502.8,477.7 L501.1,478.5 L500.2,477.4 L501.5,475.8 L502.6,474.5 L503.7,475.1 L506.7,473.1Z M514.5,477.1 L513.9,477.3 L513.3,476.9 L513.3,476.2 L513.9,475.9 L514.2,475.6 L514.8,475.0 L515.6,475.3 L515.8,476.1 L515.2,476.6 L515.7,478.0Z M519.5,469.7 L518.9,470.9 L517.2,471.5 L515.8,471.1 L512.1,470.7 L513.4,468.4 L516.4,467.4 L518.5,468.6Z M516.8,468.1 L515.9,467.9 L514.8,467.9 L514.9,467.3 L515.8,467.0 L516.4,466.9 L516.6,467.2 L517.2,467.5Z M513.6,469.7 L512.9,469.3 L512.2,468.7 L511.6,467.5 L512.9,467.8 L513.3,466.7 L514.5,467.4 L514.9,468.6 L514.9,469.5 L514.6,470.4Z M504.2,474.8 L503.2,473.4 L502.4,472.7 L502.9,471.7 L503.7,470.5 L505.5,470.7 L505.5,472.5 L505.3,473.7Z M516.2,469.9 L515.5,470.2 L515.5,470.6 L515.0,470.3 L514.2,470.7 L514.4,470.0 L514.0,469.5 L514.9,469.7 L515.2,469.2 L515.3,469.8Z M506.4,464.8 L506.6,465.0 L506.5,465.5 L506.6,466.2 L506.3,466.3 L506.0,466.2 L506.0,465.6 L505.9,465.2 L506.1,464.7Z M506.2,478.9 L505.7,478.4 L505.5,477.5 L506.4,478.2 L506.9,478.4 L507.6,479.2 L507.3,479.6 L506.7,479.8Z M505.4,478.8 L506.0,478.3 L508.1,477.3 L509.4,478.9 L506.8,479.5 L506.0,479.7 L503.7,480.1Z M506.9,474.8 L507.2,474.3 L507.8,474.1 L508.1,474.7 L508.0,475.3 L507.1,475.8Z M521.2,467.3 L522.2,468.8 L521.1,469.7 L520.3,469.7 L519.7,469.7 L518.8,469.4 L518.8,468.3 L517.7,466.5 L519.4,467.3 L520.2,466.3Z M506.6,473.9 L506.7,474.4 L506.7,475.2 L505.7,474.9 L504.6,474.2 L504.3,473.3 L504.9,473.1 L504.5,472.0 L505.6,472.9 L506.1,473.3Z M496.4,469.5 L496.5,470.5 L498.1,471.4 L497.3,472.7 L495.7,472.5 L494.4,473.3 L493.9,471.9 L493.8,471.0 L493.4,469.9 L494.1,468.7 L495.5,469.0Z M521.9,475.7 L522.7,476.3 L522.2,478.1 L517.7,478.9 L516.3,477.2 L519.9,475.7Z M515.7,478.3 L517.5,476.2 L519.3,475.6 L518.5,478.0 L517.4,479.4 L516.7,479.1Z M496.8,468.4 L497.5,468.7 L497.2,469.2 L496.9,469.6 L496.1,469.6 L495.9,468.9 L496.0,468.1Z M517.1,469.6 L518.1,468.2 L519.0,468.1 L519.6,468.3 L519.3,469.3 L518.3,469.6Z M496.7,474.5 L500.0,475.1 L499.6,478.7 L496.1,477.6 L494.0,479.7 L493.4,476.9 L494.6,475.4 L495.4,474.3Z M500.5,467.6 L501.7,467.2 L502.3,467.2 L503.0,467.5 L502.3,468.0 L500.8,468.7Z M497.9,468.5 L498.3,467.0 L499.6,468.0 L500.2,469.0 L500.9,470.0 L500.6,470.9 L499.8,471.3 L499.1,472.6 L498.4,470.8 L496.7,470.4 L496.6,468.8Z M517.0,478.8 L516.0,479.1 L516.1,477.6 L516.2,476.1 L517.2,475.6 L517.3,477.1 L517.7,478.0Z M503.5,468.7 L502.5,469.2 L501.2,468.4 L500.9,467.1 L499.7,466.3 L499.8,465.2 L500.3,464.2 L501.6,463.5 L502.5,465.6 L503.5,466.4 L502.8,467.2Z M512.9,476.2 L513.9,474.0 L516.9,473.1 L517.3,476.4 L516.1,478.4 L514.1,477.9Z M508.9,475.8 L510.0,477.1 L508.6,477.9 L507.7,478.3 L506.1,477.7 L506.9,476.1 L507.8,475.3Z M520.1,478.5 L517.2,479.7 L515.8,479.3 L515.0,478.5 L516.5,476.6 L518.7,475.8 L521.6,474.5 L521.7,476.1Z M518.6,478.8 L518.7,479.9 L517.9,480.7 L516.4,479.7 L516.2,478.7 L515.2,477.6 L516.6,478.2 L517.7,477.6Z M500.6,475.5 L501.1,475.3 L501.0,475.7 L501.6,475.9 L501.1,476.2 L500.8,476.6 L500.4,476.2 L500.0,476.1 L500.3,475.8 L500.4,475.7Z M509.6,471.6 L508.6,472.4 L507.4,471.6 L508.4,470.7 L509.4,469.8 L510.1,470.8Z M500.3,478.4 L500.2,475.8 L501.9,476.9 L502.4,478.9 L501.7,481.0 L500.3,479.7Z M505.4,468.2 L504.7,467.9 L504.2,467.3 L505.3,467.2 L506.2,467.4 L506.9,467.7 L506.9,468.0 L506.9,468.4 L506.3,468.8Z M513.4,467.1 L511.1,467.7 L510.4,468.8 L508.6,469.8 L507.8,468.2 L508.3,467.0 L507.0,465.8 L509.2,466.0 L509.9,465.6 L511.4,465.0 L511.5,466.1Z M505.1,493.1 L503.9,493.7 L503.3,492.8 L502.3,492.3 L502.2,490.2 L504.2,489.2 L504.7,491.2 L504.9,491.8Z M502.0,485.7 L500.1,484.2 L503.1,482.8 L505.9,480.7 L506.2,483.3 L504.7,484.9 L503.3,487.0Z M507.0,480.9 L508.2,482.6 L508.1,484.2 L506.6,486.4 L503.6,485.6 L504.1,482.1Z M505.0,496.8 L504.2,495.2 L504.9,493.2 L506.8,494.0 L507.3,494.6 L507.7,495.2 L507.5,496.3 L506.5,496.5Z M515.6,488.7 L517.1,488.8 L519.3,488.0 L519.1,489.1 L517.7,490.2 L515.7,491.1 L514.1,490.9 L514.5,489.9Z M498.8,493.9 L498.8,493.2 L499.3,493.2 L499.5,493.4 L499.6,493.5 L499.8,493.7 L499.5,494.1 L499.4,494.6 L499.1,494.9 L498.9,494.7 L498.9,494.3Z M511.8,493.0 L511.8,491.2 L514.4,490.7 L515.4,491.7 L515.8,492.8 L514.1,493.5 L513.1,494.1 L511.1,494.5Z M493.9,481.4 L494.5,480.6 L495.3,480.6 L495.9,480.9 L497.0,480.2 L497.6,481.4 L498.3,482.7 L497.4,483.2 L496.2,482.5 L495.5,483.6 L495.0,482.3Z M517.9,494.1 L515.7,495.4 L515.0,496.0 L514.3,497.6 L512.4,497.6 L511.5,496.1 L512.7,494.7 L512.3,493.4 L513.2,492.2 L514.5,493.4 L515.1,493.9Z M516.0,486.4 L517.1,486.6 L517.8,486.2 L518.9,487.7 L518.1,488.4 L517.5,488.8 L516.0,488.3Z M514.9,494.5 L515.9,493.9 L516.7,493.5 L517.0,494.0 L516.0,494.5 L515.0,495.3Z M517.3,490.3 L518.5,491.1 L517.7,492.6 L519.7,493.6 L518.5,494.7 L516.9,494.3 L515.9,494.6 L515.3,493.8 L514.6,493.0 L514.9,491.8 L516.2,491.6Z M496.7,492.6 L497.8,490.2 L498.8,488.3 L499.9,488.9 L501.3,488.9 L500.3,491.4 L500.2,494.2 L498.6,494.3 L498.3,492.6Z M504.6,487.8 L504.6,487.5 L505.0,487.0 L505.4,487.5 L506.0,487.8 L505.3,488.1 L505.2,488.3 L505.0,488.3 L504.5,488.7 L504.5,488.2 L504.3,487.9Z M504.8,489.3 L505.6,490.0 L505.3,491.6 L504.5,492.5 L503.8,491.9 L504.2,490.6Z M505.5,486.0 L505.2,484.7 L504.9,482.9 L506.7,482.6 L507.9,483.7 L508.1,485.4 L506.9,486.6Z M511.5,484.8 L513.1,485.2 L513.7,487.7 L511.9,488.6 L511.1,488.5 L510.2,488.6 L510.5,487.3 L509.9,484.8Z M514.9,490.5 L513.7,490.5 L513.5,489.4 L513.7,488.5 L514.3,487.7 L515.6,487.4 L516.5,488.4 L516.1,489.9Z M520.1,493.1 L519.4,493.8 L519.2,492.7 L518.6,491.8 L519.7,491.6 L519.9,490.0 L520.3,491.6 L520.6,491.7 L520.9,492.3 L520.8,493.2Z M507.8,481.6 L507.7,483.0 L506.5,484.7 L505.2,483.6 L505.5,481.7 L505.1,480.6 L505.7,479.2 L506.9,479.2 L508.1,479.0 L508.9,480.2Z M515.6,480.5 L514.8,479.7 L514.8,478.8 L514.0,478.1 L514.8,477.8 L515.1,476.8 L516.1,477.3 L516.7,478.0 L515.9,478.7 L515.7,479.0Z M518.4,493.6 L518.1,492.4 L518.0,491.9 L517.5,491.1 L518.1,491.0 L518.2,490.1 L518.6,490.3 L519.2,490.6 L518.7,491.6 L519.1,492.4 L518.7,492.7Z M515.1,491.9 L515.5,490.8 L516.4,491.3 L516.2,492.2 L516.4,492.6 L516.1,493.1 L515.6,493.2 L514.6,493.3 L514.4,492.4Z M504.7,495.4 L505.4,495.2 L505.5,494.5 L506.0,495.0 L506.5,495.2 L507.2,496.3 L507.3,497.7 L506.8,498.2 L506.6,499.8 L505.7,498.3 L505.0,496.9Z M521.2,482.7 L520.6,481.5 L520.1,481.3 L519.7,480.7 L520.0,479.7 L521.2,479.9 L522.2,480.3 L522.6,481.2 L522.2,482.1Z M500.6,481.6 L499.6,481.3 L499.3,481.0 L499.3,480.9 L499.1,480.4 L500.2,480.5 L501.2,480.7 L500.3,481.1Z M513.3,480.8 L513.3,480.3 L513.5,479.5 L514.1,479.3 L514.2,479.8 L514.7,480.0 L514.3,480.9 L513.8,481.3 L513.2,481.5Z M504.2,481.6 L504.3,480.5 L504.5,479.9 L505.1,479.0 L505.7,479.5 L506.8,479.4 L506.5,480.6 L505.4,481.5Z M504.6,480.9 L506.2,480.8 L506.2,481.7 L505.3,482.3 L503.7,482.6 L503.2,481.8 L503.3,481.2 L503.6,480.6Z M512.6,481.6 L512.2,483.3 L510.4,484.1 L508.8,483.1 L508.2,481.6 L507.6,479.9 L509.8,479.9 L510.6,479.1 L511.9,479.2 L511.7,480.6Z M519.1,491.6 L518.2,490.2 L519.3,489.0 L520.8,490.4 L521.6,491.2 L521.7,492.5 L520.2,492.0Z M518.7,492.7 L518.3,493.0 L518.4,493.9 L516.7,493.6 L516.4,493.0 L514.6,492.9 L515.7,492.5 L515.8,492.1 L516.7,491.6 L518.3,491.6 L519.7,492.0Z M511.0,484.9 L513.0,484.3 L514.8,482.9 L516.7,485.1 L514.5,486.8 L513.4,488.5 L512.5,486.6Z M511.5,479.9 L510.5,479.8 L510.3,480.0 L510.1,479.8 L509.5,479.7 L509.4,479.0 L510.0,478.5 L510.6,478.4 L511.3,478.3 L511.1,479.2Z M504.7,481.6 L504.3,481.5 L504.4,481.3 L504.2,481.0 L504.5,480.9 L504.9,481.3 L505.0,481.5 L505.4,481.8 L505.1,482.0Z M509.3,492.7 L510.1,494.2 L509.3,495.3 L508.3,494.8 L507.3,494.4 L508.0,493.5Z M508.8,488.5 L510.1,488.1 L510.5,490.3 L509.3,490.1 L508.3,490.3 L508.0,488.7Z M496.7,483.6 L498.9,482.2 L500.0,484.3 L501.5,486.8 L499.5,489.1 L496.6,487.9 L494.5,487.2 L495.3,485.2 L495.3,483.9Z M504.6,481.4 L505.3,481.3 L505.5,482.0 L505.3,482.7 L504.6,483.0 L502.9,483.8 L502.5,482.2 L503.4,480.9Z M514.0,481.3 L513.5,481.6 L512.9,481.5 L512.4,481.8 L511.4,481.7 L511.8,481.2 L511.9,480.8 L512.1,480.3 L513.1,480.5 L513.8,480.8Z M517.0,490.4 L519.1,491.4 L519.3,492.9 L519.7,494.2 L517.9,495.1 L516.8,494.9 L515.2,494.9 L514.4,492.9Z M503.0,497.2 L502.4,497.4 L501.7,497.4 L501.2,496.1 L502.1,495.2 L502.9,495.7 L503.1,496.4Z M503.4,508.8 L502.9,509.0 L501.8,508.7 L501.8,507.8 L502.3,507.5 L502.8,507.5 L503.3,507.5 L504.1,507.9 L503.8,508.5Z M509.1,494.5 L510.7,496.2 L511.8,496.6 L512.6,497.8 L512.0,499.4 L510.3,499.3 L508.3,499.8 L508.8,497.8 L508.6,496.6Z M521.4,501.1 L524.0,501.4 L525.8,502.5 L526.4,504.7 L525.6,507.2 L523.0,506.5 L521.1,505.6 L521.0,503.6Z M512.2,507.8 L512.1,507.2 L512.7,507.3 L513.5,507.6 L513.0,508.0 L512.6,508.4Z M515.7,507.6 L516.8,507.0 L517.7,506.4 L518.0,507.0 L517.0,507.8 L516.5,507.7Z M515.5,501.5 L515.6,502.1 L515.1,502.8 L514.6,502.3 L513.8,502.1 L514.1,501.2 L514.8,501.1 L515.6,500.7Z M515.1,501.2 L513.8,501.0 L513.7,499.5 L515.0,498.9 L515.8,498.1 L516.5,498.8 L516.9,499.9 L516.3,501.3Z M510.2,511.0 L506.8,508.8 L509.0,506.1 L510.5,505.2 L512.1,505.8 L513.2,508.1Z M509.4,506.2 L509.3,507.2 L509.2,506.5 L509.0,506.3 L508.9,505.7 L509.2,505.2 L509.5,505.2 L509.6,505.8Z M518.4,503.8 L517.0,502.6 L516.8,500.2 L520.0,499.9 L520.2,502.4 L522.1,505.8Z M516.8,507.3 L517.1,508.3 L516.7,509.2 L515.6,508.7 L515.3,508.5 L515.0,508.1 L515.0,507.7 L515.1,506.6 L516.1,506.6Z M518.9,500.1 L521.0,499.6 L522.3,500.5 L521.9,502.3 L520.3,503.0 L519.0,502.3Z M508.0,506.8 L508.3,508.4 L507.4,509.2 L506.7,510.4 L506.0,509.4 L506.2,507.8 L506.1,506.9 L506.7,506.6 L507.0,506.0 L507.3,506.5Z M524.9,507.1 L522.9,506.4 L520.7,506.2 L520.4,505.0 L523.0,505.1 L524.1,505.0 L525.3,505.3 L526.6,506.3Z M517.6,504.3 L520.2,503.2 L521.4,504.9 L519.6,507.1 L518.0,509.5 L515.1,509.9 L515.6,507.2 L513.1,506.2 L516.3,505.1Z M522.2,507.1 L521.5,507.3 L520.3,506.6 L521.4,505.9 L521.5,505.1 L522.3,504.1 L523.4,505.3 L523.2,506.5 L522.6,506.9Z M513.3,506.7 L514.9,505.3 L516.0,507.5 L516.1,509.2 L515.4,510.3 L513.5,511.6 L512.8,508.7Z M511.7,500.9 L512.3,501.2 L512.9,500.9 L512.7,501.4 L512.6,501.7 L512.3,502.2 L511.8,501.9 L511.4,501.4Z M522.6,493.3 L522.3,494.1 L522.1,494.7 L521.3,494.8 L521.0,494.3 L521.3,493.3Z M505.0,506.5 L505.6,507.1 L506.6,507.3 L506.6,508.2 L506.1,508.9 L505.4,509.4 L504.7,509.0 L504.2,508.7 L503.5,508.2 L503.9,507.5 L504.7,507.5Z M510.0,496.2 L510.1,497.8 L508.4,497.9 L507.3,497.3 L505.9,496.2 L507.5,495.5 L508.9,495.0Z M501.0,507.0 L501.6,509.0 L502.9,509.2 L502.5,510.3 L502.0,511.1 L501.5,512.7 L500.2,512.1 L499.1,511.6 L497.7,510.5 L499.7,509.4 L499.6,507.8Z M517.7,501.2 L518.9,501.2 L520.1,499.9 L522.1,501.0 L521.9,502.6 L521.6,504.0 L519.6,503.3 L517.5,504.0 L517.2,502.2Z M510.0,508.1 L508.1,508.7 L506.5,508.5 L506.4,507.7 L507.7,507.2 L508.4,507.0 L508.9,507.1 L510.6,507.1Z M512.7,501.9 L513.5,502.7 L514.3,503.7 L514.2,504.7 L514.3,505.6 L513.8,506.0 L513.1,504.8 L512.7,504.5 L511.7,503.8 L512.5,503.4 L512.1,502.2Z M523.2,493.9 L524.6,495.0 L524.8,496.5 L522.3,496.3 L521.7,496.6 L520.4,497.7 L519.5,496.6 L517.9,495.5 L518.0,494.0 L520.3,494.0 L521.6,493.4Z M509.1,507.4 L506.7,508.4 L505.5,507.8 L506.3,506.9 L507.7,506.1 L509.6,506.1Z M522.4,502.4 L522.1,502.9 L521.6,503.1 L521.2,502.7 L520.6,502.7 L520.6,502.2 L520.9,501.8 L521.4,502.0 L521.7,502.1Z M521.3,496.4 L520.8,497.2 L520.3,497.5 L519.9,497.6 L519.8,497.0 L520.3,496.3 L520.9,495.6 L521.1,496.1Z M507.4,496.2 L507.8,495.9 L508.0,496.1 L507.8,496.7 L507.6,497.0 L507.5,497.7 L507.2,497.5 L506.6,498.0 L506.8,497.2 L507.0,496.5Z M501.5,506.2 L501.8,506.0 L501.9,506.2 L501.7,506.5 L501.7,506.9 L501.4,507.0 L501.0,507.2 L501.1,506.7 L500.8,506.5 L501.4,506.2Z M517.8,502.9 L517.8,502.5 L518.1,502.3 L518.4,502.0 L518.6,502.5 L518.9,502.6 L518.9,502.9 L519.0,503.4 L518.5,503.6 L518.0,503.4Z M500.5,507.7 L500.4,506.0 L502.1,505.1 L505.1,505.9 L504.1,507.3 L503.4,508.2Z M515.1,505.1 L514.4,504.9 L514.1,503.0 L513.9,502.5 L513.8,501.7 L513.8,500.6 L514.3,500.7 L515.1,500.8 L515.8,502.5 L515.3,503.8Z M505.5,500.9 L505.0,502.3 L504.2,500.9 L502.8,500.3 L503.6,499.4 L504.8,499.9 L506.3,499.3 L505.7,500.5Z M502.2,508.3 L504.4,509.9 L505.8,509.2 L508.4,510.8 L506.7,512.3 L505.6,512.7 L504.5,513.2 L502.4,512.3 L501.1,509.9Z M509.8,497.2 L510.7,497.6 L512.4,498.1 L510.9,498.5 L510.3,498.6 L508.8,499.1 L508.0,498.0 L508.8,497.3Z M500.5,505.0 L500.9,504.5 L501.1,502.3 L502.1,504.1 L503.6,504.2 L503.4,505.5 L503.1,506.7 L502.0,508.1 L500.9,506.6 L500.4,505.8Z M516.8,516.1 L517.6,516.1 L519.2,516.6 L519.5,518.1 L517.9,518.1 L517.3,518.5 L516.3,518.4 L515.5,517.5 L516.1,516.7 L516.1,516.1Z M509.4,523.7 L507.4,523.6 L506.6,522.2 L508.1,521.8 L509.5,520.9 L509.4,522.3Z M525.3,521.4 L524.8,520.5 L525.3,520.1 L524.8,519.3 L525.9,519.0 L527.0,520.0 L528.2,520.4 L528.1,521.0 L527.4,521.2 L526.7,521.5Z M514.5,512.4 L515.3,512.2 L515.0,513.6 L514.4,513.7 L514.0,513.5 L513.5,512.1Z M507.9,527.5 L509.1,527.7 L510.2,528.0 L510.0,529.0 L509.6,531.3 L507.1,530.5 L506.5,528.7Z M509.3,514.9 L509.5,513.9 L510.4,513.9 L510.9,513.7 L511.0,514.2 L511.2,514.8 L510.5,514.8 L509.8,515.8Z M509.9,527.0 L507.9,526.8 L508.4,524.9 L508.0,521.9 L511.0,522.4 L514.4,523.5 L511.7,526.2Z M508.7,522.1 L507.4,522.6 L506.3,523.7 L504.6,522.6 L505.5,521.0 L506.8,520.9 L508.1,520.7Z M513.8,511.5 L513.9,511.2 L514.3,511.0 L515.1,511.2 L514.9,511.7 L515.3,512.0 L515.0,512.3 L514.3,512.1 L513.7,511.9Z M510.8,514.6 L512.1,511.7 L514.1,511.8 L515.4,512.6 L516.2,515.3 L513.4,515.9Z M513.6,522.0 L514.5,521.9 L514.6,522.2 L514.4,522.5 L513.9,522.9 L513.6,522.6Z M525.9,522.4 L527.0,521.4 L527.5,521.1 L528.5,520.4 L528.3,521.1 L528.0,521.8 L526.7,522.6Z M524.4,520.7 L522.8,521.1 L522.9,520.1 L522.2,519.3 L523.8,518.7 L524.7,518.9 L525.9,518.9 L525.1,519.8Z M523.7,509.0 L524.2,507.6 L524.9,507.0 L525.9,506.0 L525.3,507.5 L525.4,508.3 L524.5,509.1Z M512.2,515.7 L511.7,515.1 L510.4,514.7 L511.3,514.1 L512.0,514.0 L512.6,513.2 L513.4,513.8 L513.3,514.6 L513.0,514.9 L512.7,515.2Z M523.7,520.8 L523.6,520.4 L523.9,520.2 L524.2,520.3 L524.6,519.8 L524.4,520.5 L524.7,520.7 L524.8,521.2 L524.3,521.2 L523.9,521.6 L523.7,521.2Z M512.8,524.0 L512.7,522.7 L513.4,522.3 L513.9,523.2 L513.6,524.6 L513.0,525.2Z M516.3,516.2 L515.3,516.0 L514.4,515.4 L515.2,514.7 L515.9,514.3 L516.8,514.3 L517.7,514.9 L517.4,515.8Z M504.0,520.5 L503.2,520.3 L501.5,521.0 L500.3,519.0 L500.8,517.0 L501.8,515.2 L503.7,516.3 L505.6,516.7 L506.2,519.0 L506.0,521.1Z M513.8,520.6 L514.7,521.9 L513.2,522.9 L511.6,522.0 L510.9,520.8 L512.4,520.4Z M521.0,506.6 L521.7,507.2 L522.3,507.9 L521.9,508.2 L521.6,508.9 L521.2,507.8 L520.4,506.9Z M508.0,528.5 L509.7,527.5 L510.6,529.4 L512.1,529.1 L511.9,530.5 L510.9,531.2 L510.0,533.3 L508.7,532.0 L508.8,530.4Z M513.8,519.5 L514.1,519.1 L514.6,518.8 L515.5,518.8 L515.3,520.0 L515.3,521.0 L514.6,521.4 L513.7,521.5 L513.9,520.1Z M510.7,522.9 L511.7,521.7 L512.2,519.7 L513.4,521.4 L515.2,522.2 L514.1,523.7 L513.1,524.4 L511.7,524.4Z M515.6,519.8 L515.1,519.7 L513.8,519.4 L515.1,519.1 L515.8,519.3 L516.3,519.4 L516.6,519.8Z M532.3,518.7 L531.9,519.0 L531.3,518.0 L530.8,517.1 L531.2,516.8 L531.7,516.6 L532.3,517.6 L532.3,518.2Z M517.0,516.7 L517.0,517.2 L516.3,516.9 L515.8,516.9 L515.8,516.5 L515.7,516.2 L516.0,516.0 L516.3,515.9 L516.9,516.2Z M508.5,516.0 L509.9,515.6 L510.8,516.1 L511.9,517.4 L510.2,517.5 L509.5,517.1Z M513.6,512.7 L514.1,513.9 L513.1,514.1 L512.4,513.5 L511.4,513.1 L512.0,512.4 L512.1,511.3 L513.1,511.9Z M528.7,513.7 L528.9,513.3 L529.0,512.8 L529.6,512.2 L529.7,512.9 L529.4,513.8 L529.0,513.9Z M500.5,515.9 L501.7,515.8 L503.4,515.4 L503.7,517.6 L501.9,517.6 L500.8,517.3Z M524.3,520.3 L524.6,521.0 L524.4,521.4 L524.0,521.7 L523.6,521.1 L523.1,520.4 L523.3,519.7 L523.8,519.9 L524.1,519.6Z M520.7,512.8 L519.7,514.4 L518.8,513.9 L519.1,512.4 L520.2,508.6 L522.5,509.0Z M526.1,512.6 L526.8,511.0 L525.8,509.3 L526.3,507.1 L528.0,508.0 L528.4,509.9 L530.1,510.0 L529.2,511.5 L529.5,513.4 L528.1,513.1 L526.7,514.7Z M507.5,515.9 L509.1,516.0 L511.2,516.7 L510.0,519.2 L508.9,520.3 L507.8,520.3 L505.4,522.0 L504.4,519.4 L505.1,516.4Z M514.2,520.5 L514.0,520.1 L513.5,519.7 L514.3,519.7 L514.3,519.0 L514.7,519.8 L515.0,519.9 L515.4,520.1 L515.3,520.5 L514.8,520.4 L514.6,520.8Z M532.6,517.4 L533.5,518.1 L533.7,519.2 L534.2,521.3 L532.4,520.6 L531.3,519.6 L529.5,518.4 L530.0,516.8 L531.3,516.3Z M529.8,517.5 L530.2,517.3 L530.9,517.1 L530.7,517.4 L530.6,517.7 L530.1,518.0 L529.7,517.9 L529.2,518.1 L529.4,517.8 L529.2,517.7 L529.4,517.5Z M523.9,520.6 L524.2,519.8 L524.6,519.8 L525.1,519.5 L525.1,520.5 L524.8,521.3 L524.4,522.1 L524.2,521.4 L524.0,521.2Z M513.7,519.3 L514.5,517.6 L515.6,518.8 L515.5,520.1 L516.7,521.0 L515.5,521.6 L515.0,522.7 L514.0,521.9 L513.7,521.2 L512.3,520.8 L512.8,519.7Z M529.2,517.8 L526.9,519.5 L525.4,520.4 L524.9,518.9 L525.6,516.6 L528.4,515.2Z M513.3,524.8 L513.0,525.4 L512.4,525.7 L512.1,525.6 L512.0,525.1 L512.5,524.6 L512.9,524.0 L513.2,524.3 L514.2,523.9Z M509.0,522.0 L506.9,520.3 L508.6,518.0 L510.1,516.6 L511.2,518.0 L512.3,518.9 L511.2,520.2Z M530.3,515.2 L529.3,515.8 L527.0,516.1 L529.9,513.3 L532.3,511.4 L531.4,513.9Z M510.4,521.7 L511.1,522.1 L512.3,522.2 L512.2,523.4 L511.5,524.5 L510.2,524.3 L509.5,523.2 L509.3,521.9Z M513.4,526.5 L513.2,526.5 L513.0,526.2 L512.9,526.0 L512.6,525.5 L512.7,525.2 L513.2,525.7 L513.4,526.0 L513.9,526.3 L513.5,526.4Z M522.8,528.3 L522.1,528.5 L521.6,530.1 L521.1,528.9 L520.3,528.1 L521.4,527.4 L521.6,526.4 L522.4,526.3 L522.5,527.5Z M511.5,533.9 L511.5,534.9 L512.1,535.9 L511.2,536.5 L510.1,537.1 L510.1,535.7 L509.6,535.2 L510.1,534.6 L510.6,533.1Z M531.5,528.7 L531.8,530.2 L530.9,530.5 L530.2,531.5 L529.7,529.8 L528.5,529.0 L529.9,528.3 L529.6,526.3 L530.7,526.0 L531.4,527.4Z M525.7,540.6 L525.4,540.3 L525.4,539.9 L525.0,539.7 L525.3,539.2 L525.7,538.8 L526.1,538.7 L526.7,538.7 L526.8,539.2 L526.6,539.8 L526.1,540.0Z M523.5,534.6 L523.7,533.3 L523.7,531.8 L525.3,530.8 L527.6,531.1 L527.9,533.1 L528.2,534.7 L526.0,534.5 L524.7,535.9Z M525.9,540.1 L526.4,538.0 L528.9,539.6 L528.9,541.3 L530.5,543.3 L528.9,544.6 L526.1,543.1 L525.9,541.2Z M537.1,533.9 L537.6,533.2 L537.6,532.1 L538.2,533.0 L538.5,533.1 L539.0,533.7 L538.7,534.4 L538.2,535.1 L537.8,534.0Z M520.2,528.2 L520.8,527.7 L521.2,528.0 L520.6,528.9 L519.6,530.3 L519.7,529.0Z M516.0,545.9 L516.4,545.6 L516.7,545.5 L516.9,544.9 L517.5,544.9 L517.8,545.2 L517.4,545.6 L517.6,546.0 L516.9,545.9 L516.7,546.0 L516.4,546.1Z M541.9,530.5 L542.9,530.8 L542.9,531.8 L542.1,532.3 L541.3,531.9 L541.1,531.1 L540.3,530.5 L540.8,529.9 L541.5,529.5Z M528.8,536.6 L529.0,536.8 L528.7,536.9 L528.4,537.1 L528.0,537.1 L527.5,536.9 L527.6,536.6 L528.2,536.6 L528.6,536.5Z M524.6,542.5 L524.9,541.1 L526.6,540.5 L527.3,541.6 L527.1,542.2 L527.2,543.6 L525.5,543.6Z M516.7,542.6 L518.0,542.1 L518.5,543.4 L517.7,544.2 L516.8,544.3 L516.5,543.5Z M524.4,536.8 L524.7,536.9 L525.1,537.1 L525.1,537.5 L525.1,538.0 L524.6,538.1 L524.2,537.6 L523.8,537.2 L524.1,536.9Z M538.6,531.5 L536.8,532.3 L535.8,532.7 L534.5,533.6 L534.2,531.9 L533.7,531.3 L534.1,530.5 L533.7,528.7 L535.3,529.0 L537.3,528.1 L538.3,529.7Z M528.6,531.4 L528.3,529.6 L529.3,529.1 L530.8,529.8 L530.7,531.3 L530.4,533.2Z M534.9,534.7 L535.3,534.5 L535.5,534.8 L535.6,535.2 L535.2,535.5 L534.8,535.4 L534.4,535.6 L534.0,535.4 L534.2,535.0 L534.4,534.7 L534.6,534.7Z M528.6,524.0 L527.3,524.6 L525.5,525.0 L524.9,522.9 L525.7,521.0 L527.0,520.4 L527.8,520.3 L529.3,519.4 L529.8,520.9 L529.2,522.5Z M533.1,529.2 L532.3,529.5 L531.8,528.9 L532.8,528.6 L533.2,528.0 L533.5,528.6 L534.3,528.9 L533.8,529.4Z M532.2,523.4 L533.8,523.2 L534.8,524.4 L533.2,526.1 L531.1,527.5 L531.2,525.3Z M534.3,529.9 L533.3,529.9 L533.3,528.0 L534.8,526.1 L535.6,526.4 L536.7,526.0 L536.2,527.7 L535.4,530.1Z M518.6,531.4 L520.2,531.1 L521.5,531.8 L521.2,532.8 L519.7,532.5 L518.9,532.2Z M524.3,537.7 L523.8,537.9 L523.2,537.7 L522.7,536.8 L523.4,536.1 L523.6,535.5 L524.2,535.1 L524.7,535.6 L525.1,536.5 L524.8,537.4Z M532.5,525.5 L532.9,525.6 L532.6,526.3 L532.3,526.6 L531.8,527.3 L532.0,526.3 L532.2,525.4Z M532.1,523.5 L532.4,523.2 L532.9,523.3 L533.4,522.8 L534.1,522.9 L533.5,523.6 L533.9,524.1 L533.2,524.2 L532.8,524.5 L532.3,524.5 L532.5,523.9Z M515.5,539.3 L514.0,537.5 L515.8,537.6 L517.0,537.3 L518.6,538.0 L519.0,539.6 L518.5,540.5 L518.9,542.9 L516.7,541.9 L514.7,541.2Z M511.8,540.7 L511.8,538.8 L512.7,537.1 L514.5,535.2 L516.2,536.7 L515.5,539.1 L515.1,541.4 L513.2,541.8Z M516.8,547.6 L516.6,546.8 L516.7,545.9 L517.3,546.1 L517.5,546.2 L517.9,546.8 L517.4,547.4Z M537.0,527.3 L537.0,526.8 L537.1,526.5 L537.2,526.4 L537.4,526.3 L537.6,526.8 L537.4,527.2 L537.2,527.3Z M518.9,539.9 L518.6,538.8 L519.3,537.8 L520.1,536.9 L520.7,537.6 L520.0,538.8Z M542.2,530.9 L540.7,531.0 L539.4,530.6 L538.3,529.4 L539.9,529.0 L540.5,527.6 L541.7,528.7 L542.3,529.7Z M517.7,545.1 L518.3,544.5 L518.7,544.9 L519.1,544.9 L519.6,545.1 L519.5,545.7 L518.7,545.7 L518.3,545.8 L517.9,545.9 L517.7,545.6Z M532.7,524.4 L531.9,525.0 L531.3,525.6 L530.9,524.8 L530.8,523.8 L531.8,523.8Z M517.1,541.7 L517.6,541.3 L517.5,542.3 L517.2,542.7 L516.7,543.9 L516.8,542.7 L516.8,542.1Z M536.2,524.8 L536.4,524.0 L536.6,524.5 L536.6,525.0 L536.7,525.6 L536.4,525.8 L536.2,526.2 L536.0,525.8 L536.0,525.3 L535.8,524.8Z M532.1,516.6 L532.7,517.1 L534.0,518.0 L533.2,519.7 L531.7,519.8 L530.9,519.2 L529.6,518.8 L530.7,517.5 L531.4,517.0Z M532.8,516.1 L533.9,516.4 L532.6,517.6 L533.3,518.5 L531.6,518.2 L531.0,518.4 L530.8,518.2 L529.5,518.1 L530.5,517.3 L531.5,517.0Z M540.2,531.0 L540.0,531.3 L539.7,530.7 L539.4,530.2 L539.7,530.2 L540.0,530.6Z M530.1,532.1 L529.4,531.7 L528.8,530.5 L530.4,530.9 L531.5,529.6 L532.2,530.9 L532.7,532.0 L531.8,532.8 L530.7,532.8Z M526.1,524.2 L526.1,523.7 L525.8,523.6 L525.1,523.1 L525.9,522.9 L526.7,522.8 L527.3,523.0 L527.0,523.4 L528.1,523.7 L527.1,523.8 L526.8,524.3Z M527.0,533.6 L526.6,533.8 L526.0,533.9 L525.7,533.8 L525.5,533.5 L526.0,533.2 L526.3,532.9 L526.6,533.2 L527.3,533.2Z M519.1,543.6 L519.1,543.2 L519.5,542.8 L520.1,543.2 L520.9,543.3 L520.4,543.8 L520.5,544.4 L519.8,544.0 L519.0,544.2Z M535.0,527.2 L534.8,528.1 L534.0,529.2 L532.8,528.6 L532.2,527.7 L533.2,527.0 L534.2,526.8Z M514.4,535.6 L514.2,535.4 L513.5,535.0 L513.9,534.8 L514.3,534.5 L515.2,534.7 L515.3,535.2 L515.8,535.5 L515.7,535.7 L515.6,536.1 L514.9,535.8Z M520.3,528.1 L520.2,527.4 L520.8,526.9 L521.2,525.8 L521.7,526.6 L522.0,527.0 L522.4,527.8 L521.5,528.4 L521.0,527.8Z M519.1,544.8 L518.7,545.1 L518.3,544.7 L518.0,544.3 L517.5,543.3 L518.6,543.4 L519.0,543.9 L519.5,544.3Z M535.8,530.7 L536.5,529.8 L537.5,529.9 L537.1,531.1 L537.7,531.7 L536.9,532.3 L535.9,533.1 L535.8,532.0 L535.9,531.4Z M526.3,541.6 L526.9,542.1 L527.4,543.1 L526.5,543.4 L525.6,542.9 L524.3,542.3 L524.4,541.0 L525.4,540.6Z M513.7,542.8 L514.4,542.2 L515.5,542.0 L515.8,542.8 L514.9,543.3 L514.3,543.3Z M519.8,548.8 L518.3,548.9 L517.3,547.6 L519.1,546.9 L519.9,546.6 L521.0,545.7 L521.2,547.3 L522.5,547.6 L521.5,548.4 L521.1,548.9 L520.4,550.5Z M523.4,540.0 L521.8,540.6 L522.2,539.0 L522.0,538.1 L523.4,536.1 L524.2,537.3 L524.0,538.4Z M528.3,540.8 L528.9,540.8 L529.5,541.3 L529.5,541.9 L529.6,542.3 L529.4,542.8 L528.8,542.3 L528.1,541.9 L528.2,541.4Z M524.6,527.7 L524.2,527.3 L523.7,526.9 L524.4,526.8 L525.0,526.6 L524.8,527.2Z M536.9,534.7 L536.3,535.2 L535.4,535.0 L535.2,534.1 L535.6,533.3 L536.6,533.4 L537.3,533.0 L538.1,533.3 L538.3,534.2 L538.1,535.1Z M536.1,554.9 L536.2,555.2 L536.0,555.7 L535.5,555.7 L535.3,555.2 L535.1,554.8 L535.4,554.5 L535.8,554.0 L536.3,554.3Z M534.3,559.9 L534.7,557.7 L536.9,557.1 L540.0,557.8 L539.9,561.4 L536.1,562.3Z M549.8,542.7 L550.8,542.3 L551.2,543.4 L551.5,544.8 L550.5,545.7 L549.2,545.4 L549.2,543.9 L547.7,542.9 L549.1,542.4Z M535.1,561.5 L534.1,560.2 L535.3,559.4 L536.4,558.4 L537.0,559.8 L537.7,561.3 L536.3,561.6Z M545.8,537.0 L546.6,536.0 L548.3,535.7 L549.1,537.5 L550.9,537.7 L551.1,538.8 L551.0,540.0 L548.8,539.0 L547.9,539.3 L546.3,539.2 L547.2,538.1Z M533.3,548.4 L533.0,548.5 L532.8,548.3 L532.4,548.0 L533.2,547.9 L533.4,547.8 L533.7,547.6 L534.0,547.8 L534.3,548.2 L533.9,548.7Z M530.0,546.6 L531.0,547.4 L531.4,548.5 L531.0,549.5 L529.6,550.2 L528.4,549.2 L527.4,548.4 L526.9,546.9 L528.4,546.2Z M538.7,536.0 L539.0,534.6 L540.4,533.9 L541.9,533.2 L542.4,534.2 L542.5,535.4 L540.6,535.8Z M534.8,551.6 L535.1,550.7 L535.9,551.0 L536.3,550.4 L537.0,550.4 L536.5,551.4 L536.4,551.9 L536.2,552.9 L535.7,552.2 L535.5,551.9Z M537.8,540.7 L537.4,542.3 L535.6,543.6 L533.9,544.4 L533.2,543.1 L536.0,540.6Z M535.8,555.5 L537.2,556.0 L538.8,556.2 L539.0,557.4 L539.3,558.8 L537.9,560.1 L535.8,559.5 L534.4,558.4 L534.2,557.2 L535.5,556.6Z M548.5,542.6 L548.2,544.1 L546.1,543.5 L544.6,544.3 L544.3,543.5 L544.1,542.5 L545.5,541.4 L547.3,541.0 L549.4,541.0Z M540.9,542.6 L541.6,543.4 L540.9,543.9 L539.8,544.0 L538.7,543.6 L538.0,543.0 L538.1,542.6 L538.4,542.3 L538.6,541.8 L539.4,541.5 L540.3,542.1Z M540.8,556.5 L540.5,557.8 L539.4,559.2 L538.1,559.2 L537.1,559.2 L537.3,558.2 L537.2,557.5 L537.6,555.9 L539.0,555.9 L539.8,556.3Z M542.3,540.6 L540.5,542.1 L538.4,540.6 L538.2,539.0 L536.7,537.4 L537.7,535.3 L540.1,537.0 L542.1,537.1 L543.8,538.9Z M544.4,535.0 L543.7,534.5 L544.6,534.5 L545.0,533.7 L545.8,534.2 L545.9,534.9 L545.9,535.7 L545.2,536.0 L544.4,535.7Z M543.7,537.0 L543.0,536.0 L542.4,535.7 L542.3,534.7 L542.5,533.9 L542.8,533.5 L543.3,533.1 L543.4,534.2 L543.5,534.7 L543.5,535.2Z M537.6,548.3 L539.4,549.4 L540.2,551.4 L541.4,552.9 L542.0,555.4 L540.5,555.6 L539.1,553.6 L538.7,552.2 L537.1,550.1Z M531.6,548.2 L531.3,548.8 L530.7,548.4 L530.3,548.2 L530.4,547.5 L531.3,547.8Z M535.5,533.5 L536.3,533.6 L536.9,534.6 L537.9,535.1 L538.2,536.2 L537.9,537.0 L537.2,537.6 L536.2,536.7 L535.7,535.8 L534.1,534.8 L535.6,534.6Z M535.2,543.9 L534.0,541.8 L535.8,540.8 L537.1,539.9 L537.9,541.5 L538.9,543.2 L537.4,545.0Z M534.0,559.7 L533.9,559.3 L533.9,558.8 L534.1,558.3 L534.5,557.8 L534.6,558.5 L534.5,558.9 L534.7,559.4 L534.3,559.5Z M540.2,534.3 L539.4,534.1 L540.2,533.7 L540.4,533.1 L540.9,533.4 L541.3,533.7 L541.1,534.2 L540.6,534.6Z M531.4,551.5 L530.7,550.5 L530.4,549.1 L531.1,548.4 L532.1,550.0 L532.6,550.8 L532.9,551.9 L532.0,551.3Z M549.0,540.3 L547.3,540.7 L546.9,538.9 L545.4,538.0 L544.0,535.8 L547.3,537.2 L548.6,536.1 L549.8,537.5 L549.5,538.6 L551.6,540.8Z M544.2,546.6 L543.7,545.8 L542.9,545.6 L542.4,544.5 L544.0,544.4 L544.5,543.7 L545.1,543.8 L545.3,544.4 L546.1,545.3 L545.2,546.2Z M527.9,546.4 L528.2,545.8 L528.8,545.6 L529.5,545.6 L529.9,546.2 L529.1,546.8 L528.3,546.9Z M529.2,553.1 L530.2,552.0 L531.3,553.2 L531.2,554.9 L529.5,554.8 L527.5,554.3Z M531.7,553.9 L530.8,555.1 L530.1,553.9 L529.9,552.8 L530.3,551.9 L530.9,551.2 L531.6,551.6 L532.2,552.0 L531.9,553.0Z M534.0,537.8 L534.3,537.5 L534.6,537.3 L534.9,537.7 L535.0,537.9 L535.4,538.1 L535.4,538.4 L535.0,538.5 L534.9,538.9 L534.6,538.4 L534.5,538.2Z M536.0,554.7 L536.1,554.3 L536.5,554.8 L536.7,555.1 L536.5,555.3 L536.4,555.6 L535.6,555.4 L535.5,554.8Z M529.8,543.2 L532.0,543.4 L530.9,544.5 L532.8,545.4 L530.8,545.7 L529.0,545.9 L527.3,545.4 L526.2,544.6 L528.0,544.2 L527.8,543.1Z M527.5,554.0 L527.3,553.3 L527.9,553.4 L528.7,552.8 L528.8,553.6 L528.3,554.2 L528.4,554.7 L527.9,554.5 L527.1,555.4 L526.6,554.8Z M550.3,538.4 L550.5,539.3 L549.9,540.8 L549.1,539.5 L548.4,538.8 L548.3,536.9 L549.9,537.4Z M530.4,547.0 L529.5,546.1 L528.3,546.4 L528.4,545.5 L529.4,544.8 L529.8,543.2 L530.9,543.9 L532.0,543.9 L531.0,545.0 L532.0,546.1Z M541.0,555.0 L541.0,555.5 L541.2,556.6 L540.5,556.6 L539.9,556.2 L539.7,555.1 L540.2,554.6 L540.7,554.3Z M534.0,545.5 L534.1,546.6 L534.1,548.0 L531.7,549.4 L531.1,547.7 L529.3,547.6 L530.0,546.0 L532.2,545.6Z M546.3,539.6 L547.6,537.7 L549.2,537.8 L550.3,538.5 L548.8,539.8 L547.9,541.0 L546.9,540.7Z M538.4,558.3 L537.2,557.8 L536.3,558.5 L535.6,556.8 L535.5,555.5 L534.9,553.8 L535.6,552.9 L536.5,553.5 L537.7,552.8 L537.3,555.2 L538.7,556.6Z M538.3,553.9 L536.5,554.9 L534.9,556.5 L534.2,555.4 L535.0,553.2 L535.9,550.9 L537.4,550.3 L537.6,551.5 L538.6,551.7Z M546.2,543.9 L544.6,543.6 L544.7,542.0 L548.1,540.7 L549.2,541.5 L548.2,542.7Z M529.6,553.4 L529.4,553.5 L529.3,553.5 L529.2,553.8 L528.7,553.5 L528.3,553.2 L528.2,552.9 L528.5,552.8 L528.7,552.6 L529.2,553.0 L529.3,553.2Z M535.1,551.6 L535.4,551.0 L535.7,551.1 L535.9,550.7 L536.2,551.1 L536.2,551.7 L536.6,552.8 L536.3,553.4 L535.8,552.2 L535.4,552.7Z M536.2,558.4 L535.2,557.9 L535.2,556.7 L536.8,556.1 L537.2,556.9 L537.2,557.5Z M533.6,550.9 L533.2,551.5 L532.8,551.6 L532.4,551.5 L531.9,550.9 L532.8,550.6Z M533.5,556.1 L533.8,556.2 L534.3,556.7 L534.3,557.2 L533.9,557.1 L533.3,556.8 L533.4,556.3Z M532.5,545.2 L532.5,546.1 L531.8,546.8 L530.6,547.1 L529.6,546.6 L530.0,545.5 L529.1,544.9 L529.9,544.4 L530.5,543.4 L531.6,543.9 L532.7,544.2Z M545.1,552.1 L544.2,554.3 L542.9,554.5 L542.1,552.9 L542.3,550.3 L543.6,550.8 L544.3,550.7Z M549.6,552.7 L549.6,552.4 L549.5,551.9 L549.9,552.0 L550.2,552.2 L550.5,552.6 L550.3,552.9 L550.0,552.8 L549.7,553.2Z M551.9,549.0 L551.6,549.7 L550.8,550.1 L550.5,549.0 L550.2,548.8 L550.2,548.5 L550.0,547.7 L550.8,547.8 L551.3,548.0 L551.7,548.4Z M539.0,566.0 L538.9,564.4 L538.5,563.9 L538.6,563.5 L538.7,563.0 L539.3,562.4 L540.0,563.7 L541.0,564.2 L540.8,564.8 L540.2,564.9 L539.9,565.1Z M548.8,558.6 L549.0,556.5 L551.6,557.7 L553.0,556.8 L554.1,558.6 L555.4,560.3 L555.0,561.9 L553.4,562.4 L551.4,563.0 L551.0,560.1Z M548.4,549.8 L548.9,549.4 L549.4,549.8 L549.0,550.4 L549.3,551.1 L548.6,551.1 L548.2,550.8 L548.0,550.4 L548.0,549.9Z M551.1,556.0 L551.7,555.5 L552.3,555.5 L551.8,556.6 L551.9,557.2 L551.3,558.1 L550.8,557.6 L550.1,558.2 L550.1,557.6 L550.1,557.0 L550.6,556.3Z M550.1,555.2 L551.0,554.7 L551.5,554.6 L551.4,555.2 L550.8,556.0 L550.1,556.0Z M549.8,543.9 L551.4,543.7 L552.6,544.8 L552.1,546.2 L551.5,547.5 L550.2,547.0 L547.2,547.3 L549.6,545.4Z M542.4,561.6 L542.3,561.8 L541.8,562.4 L541.2,561.9 L541.5,561.2 L541.9,560.7 L542.3,561.3Z M549.6,555.4 L551.3,555.0 L551.3,556.5 L550.3,557.1 L549.3,558.2 L547.9,557.1 L548.5,555.9 L548.6,555.0Z M548.2,550.8 L547.1,550.7 L546.4,550.1 L546.3,549.0 L545.2,548.0 L545.9,546.9 L546.8,546.6 L547.9,545.5 L548.3,547.3 L549.1,548.3 L548.0,549.1Z M547.0,560.0 L546.7,558.6 L545.8,557.6 L546.5,556.2 L548.0,556.5 L549.1,556.8 L549.8,557.9 L548.8,558.8 L548.0,558.8Z M547.7,553.3 L548.0,554.2 L547.1,554.7 L546.2,555.2 L545.8,554.5 L545.5,554.0 L545.9,552.9Z M545.6,553.3 L545.4,553.5 L545.2,553.7 L544.9,553.6 L544.5,553.8 L544.2,553.4 L544.5,553.2 L544.6,553.0 L544.7,552.5 L545.2,552.8 L545.6,553.0Z M541.9,564.4 L541.5,564.1 L541.8,563.7 L541.9,563.4 L542.1,563.5 L542.4,563.0 L542.5,563.6 L542.8,564.2 L542.3,564.2 L542.2,564.8Z M545.9,568.7 L545.0,566.3 L544.9,565.2 L545.0,563.9 L546.7,563.6 L548.2,564.5 L548.7,566.0 L547.7,567.2Z M558.9,552.2 L559.3,553.1 L561.0,553.1 L560.8,554.4 L559.2,554.3 L558.8,554.9 L557.4,555.4 L557.3,554.2 L557.9,553.4 L557.4,551.8Z M551.2,546.7 L552.3,546.4 L553.7,546.8 L552.3,547.3 L552.5,547.9 L551.2,547.9 L550.9,547.3 L549.0,547.1 L550.4,546.7Z M546.2,562.0 L545.9,561.8 L545.4,561.9 L545.7,561.6 L545.7,561.5 L545.8,561.1 L546.3,561.2 L546.5,561.4 L546.4,561.6 L546.7,561.9Z M558.9,555.9 L559.5,555.8 L559.6,556.4 L560.6,557.3 L559.9,558.4 L558.5,558.6 L557.4,557.8 L557.3,556.5 L558.4,556.1Z M551.9,543.7 L551.5,543.4 L551.5,542.6 L551.5,541.7 L552.0,542.4 L552.4,542.3 L552.6,542.9 L552.3,543.3Z M551.8,548.8 L550.0,550.6 L548.4,551.2 L546.6,551.5 L546.3,550.1 L546.9,548.0 L549.7,547.8Z M560.9,550.7 L562.5,553.2 L561.8,554.8 L560.2,555.6 L558.3,553.8 L558.5,551.6Z M549.4,566.9 L548.8,566.0 L549.4,565.2 L550.4,565.7 L551.3,565.3 L552.3,566.0 L551.5,566.9 L551.3,567.7 L550.5,568.1 L549.6,567.9Z M551.9,553.1 L551.7,554.0 L551.0,553.6 L550.2,553.3 L551.2,552.2 L552.1,552.5Z M550.0,546.6 L550.5,547.4 L549.7,547.7 L548.8,547.7 L547.7,547.3 L547.6,546.2 L549.0,546.1 L549.6,544.9 L550.3,545.9Z M554.9,549.4 L555.0,548.8 L555.3,548.5 L555.5,548.5 L556.3,547.5 L556.2,548.7 L556.1,549.5 L555.7,549.7 L555.3,551.2 L555.2,549.6Z M562.2,548.7 L562.9,549.3 L561.8,550.4 L561.5,551.1 L560.9,551.3 L560.1,551.3 L560.1,550.4 L560.8,549.8 L561.3,549.4Z M552.3,541.1 L552.0,542.4 L552.3,543.9 L551.2,544.2 L550.5,544.6 L550.4,543.8 L549.9,543.6 L549.0,542.6 L550.2,541.5 L551.0,540.0 L551.8,540.5Z M549.7,550.5 L549.9,550.1 L550.5,550.8 L551.2,552.0 L551.1,553.1 L550.7,553.6 L550.0,552.6 L549.6,551.8 L548.8,550.8 L549.5,550.7Z M554.5,546.2 L555.1,545.6 L556.1,545.5 L556.0,546.4 L555.6,547.5 L554.5,547.2Z M550.7,557.5 L549.2,558.2 L547.1,558.1 L546.4,555.6 L547.8,553.7 L550.0,553.9 L551.7,555.5Z M541.9,549.7 L543.6,549.4 L544.7,550.5 L546.7,548.9 L546.0,551.2 L546.1,552.3 L545.6,553.2 L544.7,553.5 L543.1,554.9 L543.0,552.7 L542.8,551.6Z M555.2,554.0 L554.8,554.6 L555.8,555.8 L554.7,556.7 L553.6,555.9 L552.6,555.8 L553.4,554.7 L551.9,553.8 L553.2,553.3 L554.2,552.3 L555.2,553.0Z M552.7,547.7 L553.3,547.4 L554.2,547.6 L555.1,548.3 L556.3,549.7 L554.5,549.7 L553.8,549.8 L552.5,550.2 L551.1,549.1 L552.3,548.1Z M550.1,553.2 L549.5,553.2 L549.4,553.0 L549.4,552.9 L549.9,552.6 L550.5,552.9Z M545.3,559.9 L545.0,559.5 L545.2,559.0 L544.9,558.7 L545.3,558.3 L545.7,558.4 L546.0,558.4 L546.5,558.5 L546.2,558.9 L546.4,559.5 L545.9,560.2Z M549.1,552.4 L549.9,551.2 L550.4,550.1 L551.3,549.5 L552.6,548.8 L551.6,551.4 L553.0,552.2 L551.9,553.5 L551.0,555.3 L550.2,553.9 L549.3,553.8Z M547.9,546.9 L547.1,546.4 L546.1,544.4 L547.2,543.1 L548.5,545.1 L549.3,545.9 L549.3,547.1 L549.1,549.2Z M540.1,564.6 L542.4,564.4 L545.6,563.5 L544.5,565.7 L542.8,567.9 L539.6,566.8Z M560.2,560.6 L560.1,561.0 L559.7,560.7 L558.9,561.1 L558.3,560.5 L558.6,559.7 L559.1,559.2 L559.8,559.1 L560.5,559.1 L560.8,559.8 L561.2,560.4Z M562.9,559.6 L563.8,561.1 L562.8,563.1 L560.9,563.4 L560.5,562.0 L560.9,560.0Z M562.7,568.4 L562.4,568.3 L562.2,567.9 L561.9,567.2 L562.4,567.3 L562.5,566.6 L562.9,566.7 L563.2,567.4 L562.9,567.9 L563.2,569.0Z M564.4,559.4 L562.5,559.9 L561.8,558.8 L562.2,557.7 L562.0,556.2 L564.0,556.5 L565.1,556.6 L566.1,557.1 L566.9,558.7Z M575.4,564.7 L575.4,563.6 L576.2,562.9 L576.5,561.7 L577.7,561.7 L577.3,563.0 L578.6,563.4 L577.5,564.2 L576.7,564.0Z M568.3,562.3 L566.3,562.8 L566.9,560.7 L566.4,558.8 L568.2,558.5 L569.2,559.8 L571.9,560.9 L570.4,562.9Z M555.9,568.5 L556.5,568.3 L556.8,568.8 L557.1,569.6 L556.8,570.6 L556.3,570.3 L556.1,569.8Z M563.8,572.2 L563.5,571.5 L563.7,570.6 L564.7,570.5 L565.2,571.2 L565.0,571.8 L564.6,572.1Z M559.7,568.0 L560.2,568.1 L560.5,568.4 L560.7,568.9 L560.1,568.8 L559.7,568.8 L559.7,568.4Z M562.3,565.5 L563.0,565.1 L563.7,565.4 L563.3,566.1 L562.3,566.4 L561.5,566.3 L561.2,565.8Z M559.8,567.7 L559.9,566.7 L561.1,566.9 L561.5,566.8 L562.2,566.3 L562.6,566.9 L563.0,567.6 L562.6,568.4 L562.0,569.2 L561.0,569.2 L560.2,568.6Z M578.8,561.5 L578.5,563.4 L577.0,564.1 L574.1,564.7 L576.3,561.5 L576.8,559.9 L578.1,560.1Z M569.1,570.2 L569.5,568.8 L570.8,568.1 L571.3,569.2 L572.9,569.3 L572.4,570.9 L570.9,570.7 L570.0,570.9Z M571.2,576.3 L570.9,575.9 L570.3,575.5 L571.3,575.7 L572.1,575.5 L572.6,576.0 L572.1,576.3Z M573.0,571.9 L571.8,575.4 L569.0,573.0 L568.7,569.9 L569.8,568.6 L571.2,569.4Z M568.2,569.5 L567.7,570.1 L567.2,569.9 L566.6,570.5 L566.0,570.1 L565.7,569.1 L566.2,567.9 L567.1,567.8 L567.5,568.6 L568.5,568.4Z M561.4,573.2 L561.5,572.6 L562.0,572.1 L562.5,572.0 L562.2,572.7 L561.9,573.1Z M573.8,562.3 L573.1,562.5 L572.7,561.8 L572.4,561.7 L572.1,561.2 L572.5,560.8 L573.2,560.4 L573.2,561.3 L573.9,561.5Z M559.1,566.5 L558.7,567.4 L557.8,567.2 L557.1,566.8 L557.5,566.1 L558.3,566.0Z M571.6,566.4 L568.8,565.6 L566.7,565.1 L567.2,562.7 L569.6,561.1 L572.5,563.0Z M565.7,552.7 L565.7,552.0 L566.3,551.7 L567.1,551.9 L567.1,552.9 L567.2,553.6 L566.7,553.9 L566.1,554.4 L565.7,553.4Z M569.8,575.3 L570.0,574.7 L570.8,574.7 L570.7,575.5 L570.6,576.0 L570.0,575.8Z M572.1,572.4 L570.8,571.4 L569.7,569.7 L572.0,568.2 L572.7,566.1 L574.8,565.6 L575.9,567.1 L576.4,569.1 L575.2,570.9 L573.8,572.1Z M578.0,565.2 L574.3,565.2 L570.1,565.8 L573.1,562.8 L574.5,560.8 L576.6,562.2Z M559.4,555.5 L560.7,554.6 L562.0,553.8 L565.0,553.3 L563.9,555.2 L563.7,556.1 L562.2,557.0 L559.0,557.4Z M571.4,566.6 L571.3,566.0 L571.8,564.7 L573.1,564.9 L574.0,565.6 L572.3,566.4Z M566.6,574.7 L567.8,573.3 L569.5,574.1 L571.2,575.0 L569.5,575.5 L568.2,575.8Z M562.2,564.2 L562.3,563.2 L563.9,563.7 L564.8,564.3 L564.5,565.2 L563.0,565.0 L562.2,564.7Z M562.3,568.5 L562.8,567.9 L563.5,567.9 L564.6,567.3 L565.6,568.1 L565.9,569.8 L564.5,570.7 L563.2,569.8 L562.0,569.7Z M565.6,569.6 L565.2,568.4 L566.4,568.9 L566.9,569.5 L567.4,570.6 L566.3,571.2 L565.3,570.4Z M583.9,573.0 L583.4,573.2 L583.1,573.2 L582.7,573.3 L582.7,572.9 L582.6,572.4 L583.0,572.2 L583.7,572.3Z M588.0,570.2 L587.3,570.5 L586.4,571.1 L586.5,569.6 L585.7,568.4 L586.8,568.4 L587.5,568.4 L588.1,569.1Z M579.0,572.1 L578.6,571.9 L578.9,571.5 L579.5,571.4 L580.0,571.2 L579.8,571.6 L579.7,571.9Z M587.8,569.9 L586.2,568.5 L587.4,565.9 L589.5,567.4 L592.3,566.0 L591.1,568.9 L589.9,569.9 L589.2,570.7 L587.0,572.7Z M577.8,573.1 L577.5,575.2 L576.2,577.6 L573.4,577.7 L573.9,574.5 L575.9,572.4Z M588.3,565.4 L588.2,566.0 L588.2,566.7 L587.5,566.6 L587.1,566.5 L586.1,566.5 L586.6,565.8 L587.0,565.3 L587.7,565.3Z M589.7,578.8 L588.7,577.7 L587.2,577.9 L588.0,576.4 L587.3,574.1 L589.2,573.4 L590.3,575.1 L590.6,576.3 L591.6,578.3Z M586.8,575.5 L586.7,576.1 L586.2,576.5 L585.5,576.3 L585.4,575.8 L584.7,575.6 L585.0,575.1 L585.4,574.8 L586.0,574.6 L586.1,575.2Z M579.9,572.2 L580.3,571.9 L580.6,571.6 L581.2,571.9 L580.8,572.7 L580.4,573.5 L579.8,573.1Z M581.2,577.5 L580.7,577.5 L580.2,576.8 L581.0,576.0 L581.9,576.3 L581.6,577.1Z M584.2,579.0 L584.1,578.5 L584.4,578.3 L584.5,578.2 L584.8,577.6 L585.0,578.1 L584.8,578.7 L584.7,579.1 L584.5,580.0 L584.2,579.8Z M584.4,571.1 L584.8,572.5 L584.3,573.1 L583.7,573.7 L582.6,572.8 L582.3,571.3 L582.9,570.8 L583.4,570.0Z M583.4,564.8 L583.7,564.6 L584.0,564.4 L584.0,564.8 L583.7,565.2 L583.5,565.4 L583.4,565.4 L583.0,565.7 L582.8,565.6 L582.9,565.2Z M591.1,571.0 L591.2,570.5 L591.2,570.2 L591.2,569.5 L591.5,569.9 L592.0,569.4 L591.9,570.1 L591.8,570.5 L591.9,571.3 L591.4,571.5Z M586.1,577.8 L586.3,576.9 L587.7,577.4 L588.4,577.9 L589.9,578.5 L588.6,578.8 L588.3,579.5 L587.0,579.5 L586.3,578.5Z M578.2,570.3 L579.0,570.7 L579.5,570.6 L581.3,570.6 L580.5,571.6 L581.7,573.1 L580.3,573.0 L579.2,572.9 L578.7,571.9 L577.3,571.4 L577.3,570.5Z M580.5,569.5 L581.0,569.5 L581.4,570.1 L580.9,570.7 L580.0,570.5 L580.2,569.8Z M588.4,566.9 L588.9,567.4 L589.3,568.0 L589.4,568.7 L588.9,569.1 L588.6,569.7 L588.1,569.0 L587.2,568.8 L587.1,567.7 L587.7,567.0Z M587.0,578.1 L585.8,579.2 L584.0,578.9 L582.6,577.4 L582.7,575.3 L584.9,575.5 L586.7,574.6 L588.5,576.3Z M582.4,566.3 L583.5,566.5 L584.6,567.7 L584.2,568.4 L583.0,567.8 L582.1,567.3 L582.3,566.8Z M600.3,576.9 L600.5,575.7 L601.2,576.0 L601.5,576.9 L601.6,577.7 L601.1,578.3Z M592.9,580.4 L591.6,580.4 L590.9,580.4 L589.4,579.9 L589.9,578.4 L591.4,579.2 L592.1,579.3Z M590.7,576.4 L592.1,577.0 L592.6,577.4 L592.6,577.8 L592.5,578.3 L591.9,578.7 L590.5,578.9 L590.3,577.7Z M593.5,574.1 L592.5,573.9 L592.4,573.2 L592.7,572.6 L594.2,573.1 L594.6,574.1Z M596.2,569.1 L597.3,570.2 L598.3,570.8 L597.4,571.8 L597.5,572.7 L596.8,573.6 L596.0,572.6 L594.3,572.7 L595.1,571.4 L595.3,570.4Z"/><path fill="#fff" stroke="#aaa" stroke-width="0.3" d="M529.1,482.3 L533.1,481.4 L539.1,480.9 L539.9,483.3 L534.1,484.5 L531.1,485.3 L530.7,490.6 L533.1,490.3 L539.6,489.7 L540.4,492.7 L534.1,493.9 L529.1,494.9 L528.3,488.1Z"/><path fill="#fff" stroke="#999" stroke-width="0.3" d="M652.6,196.1 L654.6,194.7 L657.6,194.5 L659.9,195.7 L660.1,197.7 L658.1,199.5 L655.1,199.9 L652.9,198.7Z"/><g fill="none" stroke="#7f8f7f" stroke-width="0.5" opacity="0.55"><path d="M624.4,69.1 L623.1,76.6 L626.9,86.6 L633.1,90.3 L631.9,96.6 L629.4,104.1"/><path d="M600.6,80.3 L609.4,89.1 L613.1,99.1 L620.6,102.8 L628.1,105.3 L631.9,99.1"/><path d="M584.4,115.3 L605.6,116.1 L608.1,124.1 L611.9,131.6 L616.9,130.3 L629.4,129.1 L633.1,124.1"/><path d="M611.9,131.6 L614.4,141.6 L613.1,149.1 L618.1,156.6 L623.1,149.1 L628.1,141.6 L631.9,131.6"/><path d="M578.1,154.1 L585.6,159.1 L598.1,162.8 L608.1,164.1 L613.1,169.1 L619.4,179.1 L621.9,189.1 L625.6,181.6 L628.1,174.1 L638.1,179.1"/><path d="M634.4,122.8 L665.6,122.1 L666.9,156.6 L698.1,157.8"/><path d="M658.1,82.8 L655.6,99.1 L650.6,111.6 L643.1,122.1"/><path d="M655.6,99.1 L665.6,106.6 L678.1,116.6 L693.1,129.1 L703.6,136.8 L706.4,141.4"/><path d="M705.5,144.1 L703.6,149.6 L702.7,158.8 L698.1,169.8 L694.5,180.8 L691.7,191.9 L690.8,202.1 L689.1,205.6 L683.6,213.0 L681.8,225.8 L682.7,236.8 L686.4,244.1 L696.5,249.7 L705.7,252.4"/><path d="M733.0,149.6 L738.5,158.8 L740.3,161.6"/><path d="M691.7,193.1 L701.1,191.1 L713.1,195.1"/><path d="M563.1,221.6 L575.6,217.8 L585.6,220.3 L598.1,216.6 L618.1,215.3 L623.1,216.6 L626.9,222.8 L625.6,239.1 L625.1,262.9 L625.1,277.9"/><path d="M598.1,216.6 L601.9,234.1 L605.6,249.1 L606.9,264.1 L607.6,277.9"/><path d="M598.1,216.6 L599.4,201.6 L593.1,191.6 L589.1,182.1 L583.1,175.1 L578.1,164.1"/><path d="M618.1,215.3 L619.4,196.6 L623.1,189.1 L621.9,189.1"/><path d="M586.9,277.9 L625.1,277.9"/><path d="M586.9,277.9 L586.9,321.6 L580.6,329.1 L570.6,334.1 L563.1,344.1 L553.1,349.1 L548.1,354.1"/><path d="M566.9,289.1 L573.1,294.1 L586.9,302.9 L593.1,314.1 L608.1,319.1 L628.1,320.4 L640.6,324.1 L646.9,329.1"/><path d="M560.1,282.1 L563.1,286.1 L566.9,289.1"/><path d="M646.9,253.6 L646.9,349.1"/><path d="M625.1,262.9 L646.9,262.9"/><path d="M646.9,253.6 L665.6,253.6 L675.6,242.8 L683.1,240.3"/><path d="M659.4,189.1 L663.1,204.1 L663.1,221.6 L665.6,239.1 L655.6,253.6"/><path d="M638.1,179.1 L648.1,182.1 L659.4,189.1"/><path d="M666.9,156.6 L665.1,169.1 L661.1,181.1 L659.4,189.1"/><path d="M544.4,368.4 L626.1,368.4"/><path d="M544.4,428.6 L595.6,428.6"/></g><g fill="none" stroke="#7f8f7f" stroke-width="0.55" opacity="0.8"><path d="M611.4,64.6 L613.2,67.4 L616.1,68.5 L618.7,70.1 L621.1,69.4 L623.3,68.3 L626.0,69.3 L628.8,70.1 L630.6,73.8 L631.6,76.1 L632.5,78.4 L634.3,80.2 L635.0,78.0 L636.4,76.0 L637.1,73.8 L638.7,71.2 L639.8,68.3 L642.5,68.0 L645.2,67.7 L647.9,67.2 L650.6,67.1 L652.6,68.7 L654.0,70.9 L655.6,72.8 L657.0,74.9 L658.9,76.6 L659.9,79.0 L661.8,80.7 L663.1,82.8 L665.1,83.9 L667.1,85.0 L668.5,87.0 L670.5,88.0 L672.5,89.1 L674.5,91.0 L676.8,92.5 L679.1,94.1 L681.3,95.0 L683.2,96.5 L685.1,97.8 L687.1,99.1 L689.1,100.0 L690.5,101.9 L692.7,102.7 L694.6,103.8 L696.1,105.5 L698.1,106.5 L700.5,108.1 L702.2,110.5 L704.6,112.1 L707.3,112.4 L710.1,112.7 L712.8,113.0 L714.2,114.8 L715.3,116.7 L716.5,118.5 L715.8,121.0 L715.0,123.5 L713.7,125.8 L712.3,128.0 L711.6,130.5 L710.0,132.6 L709.1,135.0 L708.4,137.4 L706.9,139.4 L706.1,141.7 L705.5,144.1 L708.1,146.9 L710.4,147.6 L712.7,148.0 L715.0,148.3 L717.3,148.9 L719.7,148.8 L722.0,149.6 L724.4,149.9 L726.8,150.6 L729.3,150.6 L731.0,149.1 L733.2,148.4 L734.8,146.9 L737.7,145.8 L740.3,144.1 L743.0,142.2 L745.8,140.5 L747.1,138.1 L748.6,135.9 L749.9,133.5 L751.4,131.3 L753.0,129.1 L753.7,126.4 L755.0,124.0 L757.1,122.2 L759.6,121.2 L761.7,122.8 L763.3,124.9 L763.4,127.7 L763.5,130.4 L764.2,133.1 L763.8,135.4 L763.3,137.7 L762.8,140.0 L762.4,142.3 L760.4,143.6 L758.9,145.4 L756.8,146.6 L755.0,148.1 L753.2,149.6 L751.3,150.9 L749.7,152.6 L747.8,154.0 L745.8,155.1 L744.1,156.8 L741.9,158.1 L740.4,160.1 L738.5,161.6 L737.1,163.6 L735.9,165.8 L734.7,167.9 L733.0,169.8 L731.8,171.9 L729.7,173.3 L728.4,175.3 L726.6,177.0 L725.3,179.1 L723.5,180.7 L722.0,182.7 L720.3,184.4 L718.7,186.1 L717.4,188.1 L714.8,190.1 L713.8,192.7 L713.7,195.6 L713.0,198.3 L712.0,200.4 L711.5,202.6 L711.3,204.9 L710.5,207.0 L710.3,209.3 L710.0,211.7 L709.7,214.2 L709.3,216.6 L709.5,218.9 L709.0,221.2 L709.6,223.5 L709.3,225.8 L709.4,228.3 L708.4,230.6 L708.4,233.1 L707.7,235.4 L707.5,237.7 L706.8,239.9 L706.6,242.3 L707.0,244.6 L706.8,246.9 L706.8,249.2 L706.6,251.5 L708.2,253.9 L709.9,256.2 L711.1,258.8 L713.2,260.4 L714.9,262.4 L716.7,264.3 L718.3,266.4 L720.1,268.3 L722.2,269.8 L721.4,272.2 L721.0,274.7 L720.3,277.1 L721.9,279.8 L723.1,282.7 L725.2,284.0 L727.7,284.5 L728.0,286.9 L728.1,289.4 L728.6,291.8 L727.6,294.6 L725.9,297.1 L724.5,299.2 L722.5,300.7 L721.0,302.6 L719.4,304.5 L718.1,306.6 L716.1,307.8 L714.1,309.2 L712.1,310.3 L709.9,311.3 L708.1,312.9 L706.0,313.9 L703.8,314.6 L701.7,315.7 L699.4,316.2 L697.6,317.7 L695.2,318.1 L693.1,319.1 L690.9,319.2 L688.9,320.6 L686.7,320.6 L684.5,321.1 L682.3,321.5 L680.2,322.2 L678.1,322.9 L675.6,323.1 L673.1,322.9 L670.6,322.4 L668.1,322.5 L665.6,322.9 L664.6,324.9 L663.1,326.6 L663.1,329.1 L662.8,331.6 L662.6,334.2 L661.9,336.6 L661.4,339.1 L661.2,341.7 L660.0,344.0 L659.7,346.6 L659.4,349.1 L657.5,351.0 L655.2,352.4 L653.1,354.1 L650.6,354.6 L648.1,354.7 L645.6,355.3 L643.1,355.4 L640.5,354.7 L638.0,353.7 L635.6,352.6 L633.1,351.6 L630.0,350.8 L626.9,350.4 L626.2,353.5 L625.6,356.6 L626.3,359.0 L626.0,361.6 L626.2,364.1 L626.9,366.6 L627.9,369.2 L629.4,371.6 L632.4,372.5 L635.6,372.9 L637.5,371.6 L639.8,371.2 L641.9,370.4 L642.8,372.4 L642.7,374.8 L643.7,376.8 L644.0,379.1 L641.0,379.5 L638.1,380.4 L635.9,379.7 L634.0,378.5 L631.9,377.9 L631.2,380.0 L630.6,382.2 L629.4,384.1 L627.0,387.4 L625.9,389.9 L624.7,392.4 L623.3,394.8 L622.6,397.2 L622.9,399.7 L622.4,402.1 L621.9,405.3 L621.5,408.5 L619.2,410.8 L616.9,413.1 L614.3,413.7 L612.1,415.3 L609.5,415.9 L607.0,417.4 L604.6,419.0 L602.2,420.5 L600.5,422.2 L598.8,423.9 L597.6,426.0 L596.9,428.2 L595.6,430.2 L594.9,432.4 L595.8,434.8 L596.6,437.3 L597.6,439.7 L600.0,440.9 L601.7,443.0 L604.0,444.3 L606.1,445.6 L608.6,446.0 L611.0,446.9 L613.2,448.0 L615.2,450.2 L617.8,451.7 L617.5,454.2 L617.0,456.7 L616.0,459.0 L614.8,461.1 L612.7,462.5 L611.4,464.5 L609.1,465.8 L607.1,467.6 L604.9,469.1 L602.8,470.2 L601.0,471.8 L598.7,472.4 L596.7,473.7 L595.3,475.6 L593.9,477.4 L593.3,480.1 L592.8,482.9 L592.1,485.6 L590.0,487.5 L588.0,489.5 L585.7,491.1 L584.1,492.8 L582.0,493.9 L580.3,495.4 L578.3,496.6 L576.6,499.0 L575.0,501.4 L573.7,504.0 L573.3,506.3 L573.3,508.6 L573.3,510.8 L572.8,513.1 L574.7,514.9 L576.5,516.8 L578.3,518.6 L580.1,520.3 L581.7,522.2 L584.1,523.2 L585.7,525.1 L583.2,524.2 L580.8,523.2 L578.3,522.3 L576.1,521.4 L573.8,520.6 L571.5,520.0 L569.1,519.6 L566.7,519.4 L564.4,519.2 L562.0,519.2 L559.6,518.9 L557.3,519.0 L554.9,518.9 L552.5,519.2 L550.2,518.6 L547.8,519.0 L545.4,518.7 L543.1,518.4 L540.7,518.6 L539.5,516.5 L537.6,515.0 L537.9,512.7 L536.9,510.4 L537.1,508.1 L537.1,505.8 L535.6,503.6 L534.3,501.2 L531.5,500.4 L528.7,499.7 L526.0,498.5 L525.1,496.0 L523.8,493.7 L523.3,491.1 L523.1,488.8 L523.7,486.5 L523.5,484.2 L523.3,481.9 L524.6,479.1 L526.0,476.4 L528.7,475.5 L531.6,475.6 L534.3,474.6 L535.4,471.9 L536.1,469.1 L536.1,466.3 L536.1,464.0 L536.5,461.7 L537.0,459.4 L537.1,457.1 L538.4,454.7 L539.3,452.1 L540.7,449.8 L542.0,447.5 L542.4,444.9 L543.5,442.5 L544.2,440.0 L545.6,437.7 L546.2,435.1 L545.7,432.9 L545.9,430.5 L545.3,428.3 L545.3,426.0 L546.0,423.6 L546.3,421.0 L547.1,418.6 L547.5,416.1 L548.4,413.6 L548.5,411.0 L549.0,408.5 L546.7,406.3 L544.4,404.0 L544.8,401.5 L544.8,399.0 L545.3,396.6 L544.1,394.3 L543.4,391.8 L542.6,389.3 L541.9,387.0 L541.4,384.8 L541.6,382.3 L540.7,380.1 L540.7,377.8 L541.7,375.7 L542.2,373.6 L542.4,371.3 L542.6,369.1 L542.6,366.3 L543.5,363.7 L543.7,361.4 L543.5,359.1 L544.3,356.8 L544.4,354.5 L544.6,352.2 L544.2,349.9 L544.0,347.6 L544.4,345.3 L544.7,343.0 L544.5,340.7 L544.9,338.4 L545.3,336.1 L546.7,334.3 L548.1,332.5 L548.7,330.2 L548.4,327.9 L548.4,325.6 L549.0,323.3 L551.5,321.7 L553.6,319.6 L554.2,317.2 L554.2,314.7 L554.5,312.3 L553.6,310.1 L553.3,307.8 L553.0,305.4 L552.6,303.1 L552.4,300.6 L551.9,298.1 L552.2,295.6 L551.7,293.1 L553.2,290.8 L554.5,288.3 L555.4,285.7 L557.9,283.6 L560.0,281.1 L559.7,278.9 L560.4,276.7 L560.2,274.5 L561.1,272.3 L560.9,270.1 L561.5,267.9 L561.9,265.7 L561.7,263.5 L561.9,261.2 L562.7,259.1 L563.9,256.5 L564.6,253.7 L565.4,251.4 L566.1,249.1 L566.6,246.8 L567.3,244.5 L567.1,242.1 L566.3,239.9 L565.7,237.6 L565.5,235.3 L564.7,233.0 L563.9,230.8 L563.5,228.4 L562.7,226.1 L562.4,223.6 L561.1,221.3 L560.9,218.8 L560.2,216.7 L560.2,214.4 L560.0,212.2 L559.2,210.0 L559.1,207.8 L559.6,205.5 L560.2,203.3 L560.9,201.1 L562.0,199.0 L562.7,196.8 L564.4,194.5 L565.9,192.0 L567.3,189.5 L566.8,187.3 L566.6,185.1 L567.1,182.9 L566.6,180.7 L566.4,178.5 L567.0,176.2 L567.9,173.9 L568.6,171.7 L569.1,169.3 L570.4,166.8 L571.2,164.2 L572.8,161.9 L574.0,159.9 L574.4,157.5 L575.2,155.3 L576.3,153.3 L577.4,151.2 L578.3,149.1 L580.2,147.2 L582.1,144.5 L583.8,141.7 L582.9,139.3 L582.8,136.7 L582.0,134.3 L582.4,132.0 L582.6,129.7 L583.7,127.5 L583.8,125.2 L584.1,122.9 L584.2,120.6 L584.0,118.3 L583.8,116.0 L583.1,113.3 L582.9,110.5 L584.5,107.9 L585.7,105.0 L587.8,103.7 L589.4,102.0 L591.2,100.4 L593.8,99.8 L596.2,99.0 L598.5,97.7 L600.3,95.8 L602.2,94.0 L602.3,91.5 L602.0,89.0 L601.3,86.6 L601.3,84.1 L600.3,81.8 L600.4,79.3 L601.2,77.0 L602.2,74.7 L603.8,72.9 L605.3,71.1 L606.8,69.2 L609.3,67.1Z"/><path d="M582.0,529.6 L582.9,532.2 L584.7,534.4 L585.7,537.0 L587.4,538.6 L588.1,540.9 L590.0,542.3 L591.2,544.3 L593.2,545.4 L594.8,547.1 L596.7,548.3 L598.5,549.8 L600.6,551.4 L603.2,552.4 L605.2,554.2 L607.7,555.3 L610.1,556.1 L612.3,557.2 L614.5,558.4 L616.9,559.0 L619.3,559.4 L621.7,559.9 L624.2,559.9 L623.3,562.7 L621.1,563.1 L619.1,564.2 L616.9,564.5 L614.5,564.2 L612.0,564.4 L609.5,564.7 L607.1,564.7 L604.7,564.2 L602.2,564.5 L600.0,564.3 L597.8,563.8 L595.6,563.7 L593.4,563.4 L591.2,563.6 L588.9,563.3 L586.6,563.0 L584.3,562.8 L582.0,562.7 L581.8,560.5 L582.4,558.3 L581.8,556.1 L582.2,553.9 L582.4,551.7 L582.1,549.5 L581.7,547.3 L582.3,545.0 L582.1,542.8 L581.7,540.6 L581.6,538.4 L582.0,536.2 L581.6,534.0 L582.3,531.8Z"/></g>
<g fill="#6e5fd7" stroke="#6a6a78" stroke-width="0.55"><path d="M679.6,509.9 L681.2,509.8 L682.8,509.6 L684.4,509.4 L685.8,508.5 L687.3,509.4 L688.8,509.1 L690.3,509.4 L691.8,507.9 L693.3,508.8 L694.4,510.0 L695.4,511.2 L693.9,511.9 L693.4,513.4 L692.7,514.7 L691.1,515.6 L690.6,517.4 L689.8,518.7 L688.2,518.8 L687.2,519.9 L685.8,520.2 L684.5,520.8 L683.3,521.5 L682.6,523.1 L680.9,523.0 L678.9,521.6 L679.4,520.1 L680.4,519.0 L681.6,518.1 L682.9,517.4 L683.4,516.1 L683.7,514.7 L681.9,514.1 L680.9,512.6 L680.7,511.0Z"/><path d="M696.1,511.9 L697.8,511.4 L699.2,510.6 L700.2,509.2 L701.6,509.1 L703.0,508.6 L704.3,508.0 L705.8,508.8 L707.1,509.5 L708.6,509.6 L709.8,510.6 L711.3,510.6 L712.5,511.1 L713.3,512.4 L714.7,512.6 L714.7,514.1 L714.0,515.4 L712.5,515.4 L711.1,515.9 L709.9,516.8 L708.6,517.9 L707.1,518.8 L705.7,519.4 L704.4,520.2 L703.2,520.9 L702.9,522.5 L701.6,523.0 L700.3,522.4 L699.0,521.5 L697.5,521.6 L696.4,523.3 L694.7,524.3 L693.2,524.0 L691.9,524.4 L690.6,525.0 L691.4,523.7 L690.8,522.2 L691.3,520.9 L691.3,519.4 L693.1,518.8 L693.3,517.4 L694.8,516.4 L695.4,514.7 L695.7,513.3Z"/></g><path d="M676.9,514.8 L676.5,515.3 L676.0,515.1 L675.6,514.8 L676.0,514.4 L676.4,514.4ZM673.3,512.8 L673.1,513.1 L672.6,513.1 L672.5,512.7 L672.5,512.4 L673.1,512.6ZM674.9,513.0 L674.5,513.5 L673.9,513.3 L673.4,513.0 L673.7,512.4 L674.2,512.6ZM673.3,514.8 L672.8,515.6 L672.1,515.2 L671.2,514.8 L671.9,514.2 L673.1,514.4ZM678.8,514.0 L678.0,514.6 L677.2,514.4 L676.1,513.9 L677.2,513.3 L678.2,513.5ZM678.7,513.2 L678.3,513.5 L677.5,513.8 L677.0,513.2 L677.5,512.6 L678.2,513.0ZM680.5,515.8 L680.2,516.1 L679.4,516.1 L678.9,515.8 L679.4,515.2 L680.3,515.2ZM674.4,516.4 L674.2,516.8 L673.3,516.8 L672.9,516.3 L673.3,516.0 L674.0,515.7ZM674.4,517.4 L673.4,518.0 L672.4,518.3 L671.1,517.4 L672.6,516.6 L673.4,517.0ZM677.7,517.3 L677.5,517.5 L676.9,517.4 L676.7,517.3 L676.9,517.0 L677.4,517.1ZM677.5,513.8 L677.3,514.1 L676.6,514.3 L675.9,513.8 L676.6,513.2 L677.6,513.2ZM683.2,514.4 L682.1,515.2 L680.5,514.8 L680.0,514.4 L681.0,513.5 L682.3,513.9ZM679.7,516.2 L679.3,516.7 L678.2,516.6 L677.7,516.2 L678.3,515.5 L679.0,515.7ZM678.3,517.4 L678.3,517.7 L677.6,517.8 L677.1,517.4 L677.7,516.8 L678.2,516.8ZM672.6,516.8 L671.8,517.2 L670.8,517.2 L670.0,516.8 L670.9,516.5 L671.5,516.0ZM682.9,516.8 L682.3,517.5 L681.4,517.3 L680.8,516.8 L681.4,515.9 L682.1,516.4ZM680.7,514.1 L680.1,514.3 L679.7,514.4 L679.1,514.1 L679.5,513.5 L680.4,513.5ZM681.6,520.4 L681.5,520.7 L681.0,520.8 L680.8,520.4 L681.0,520.1 L681.5,520.1ZM676.6,513.5 L676.3,513.8 L675.5,514.0 L675.5,513.5 L675.6,513.1 L676.4,512.9ZM681.4,518.8 L681.0,519.1 L680.5,519.3 L680.3,518.8 L680.5,518.6 L681.2,518.5ZM677.6,513.1 L677.1,513.3 L676.8,513.4 L676.4,513.1 L676.8,512.8 L677.2,513.0ZM679.2,515.6 L678.9,516.0 L678.3,516.0 L678.4,515.6 L678.5,515.2 L679.1,515.1ZM681.5,519.0 L681.5,519.3 L680.8,519.5 L680.5,519.0 L680.8,518.4 L681.3,518.7ZM680.0,517.9 L679.9,518.4 L679.5,518.2 L679.1,517.9 L679.3,517.5 L680.0,517.6ZM677.6,512.9 L677.2,513.9 L676.0,513.9 L674.9,512.9 L676.1,512.0 L677.3,511.9ZM674.4,514.8 L674.0,515.3 L672.8,515.8 L671.8,514.8 L672.4,514.2 L673.5,514.2ZM682.3,514.8 l1.1,-0.1 l1.9,-1.4M686.6,511.1 l0.3,-0.9 l0.7,0.1M699.7,520.9 l1.2,1.3 l-1.4,-0.4M711.8,514.7 l-0.9,-0.1 l-1.3,1.0M701.5,510.4 l1.9,0.1 l-1.0,0.3M711.5,514.0 l-1.9,-0.9 l-1.8,0.1M691.1,521.0 l-1.2,-1.5 l-0.1,-1.1M691.0,512.3 l-1.3,0.4 l1.7,-0.4M701.5,513.6 l1.7,0.2 l-1.9,0.7M687.8,509.8 l-1.9,1.0 l0.8,-0.4M698.9,519.0 l-1.7,0.6 l0.8,1.3M683.0,517.1 l0.0,1.0 l-0.5,0.5M709.8,514.0 l0.1,1.2 l-1.9,1.4M691.1,515.5 l-0.8,0.9 l0.1,0.7M684.4,521.4 l1.3,0.5 l-1.1,-0.7M695.6,510.0 l1.8,-0.3 l1.8,-1.0M701.8,520.3 l0.6,-0.2 l-1.9,-0.2M693.6,522.3 l1.9,1.4 l1.9,-1.0M682.0,513.2 l-2.0,-1.1 l0.3,-0.9M700.6,514.4 l-0.9,1.4 l-1.3,1.1M698.0,518.4 l-1.4,0.7 l1.6,-0.9M696.2,518.2 l-0.1,0.8 l0.6,-0.6M702.9,519.9 l-0.1,0.3 l0.5,-0.1M683.9,514.8 l1.1,0.7 l-1.7,-0.1M699.9,516.6 l-1.4,0.4 l0.8,0.1M711.2,517.2 l-2.0,-0.6 l0.8,-1.3M712.0,518.9 l1.1,-1.0 l-2.0,1.1M697.5,515.3 l0.1,0.8 l-0.5,0.8M686.3,522.8 l0.8,-0.5 l-0.1,1.1M691.5,518.9 l1.6,1.4 l-1.0,0.9M671.1,504.6 l3,1.2 M675.1,507.1 l2,1 M697.1,526.6 l2,0.3" fill="none" stroke="#6a6a78" stroke-width="0.45" opacity="0.8"/>
</g>
<path d="M76.33,53.16 A9.6,9.6 0 1 0 76.33,63.04" fill="none" stroke="#f2a82c" stroke-width="4.8"/><path d="M66.5,54.2 C71.0,51.8 74.5,55.2 79.0,54.0 S83.3,52.2 84.3,52.8 L84.3,62.2 C83.3,61.6 81.6,63.6 79.0,63.4 S71.0,61.2 66.5,63.6Z" fill="#a8e0f8"/><path d="M66.5,54.1 C71.0,51.7 74.5,55.1 79.0,53.9 S83.3,52.1 84.3,52.7 L84.3,56.5 C83.3,55.9 81.6,57.9 79.0,57.7 S71.0,55.5 66.5,57.9Z" fill="#2a8cc6"/><path d="M66.5,59.9 C71.0,57.5 74.5,60.9 79.0,59.7 S83.3,57.9 84.3,58.5 L84.3,62.3 C83.3,61.7 81.6,63.7 79.0,63.5 S71.0,61.3 66.5,63.7Z" fill="#2a8cc6"/>
<path d="M519.63,52.26 A9.6,9.6 0 1 0 519.63,62.14" fill="none" stroke="#f2a82c" stroke-width="4.8"/><path d="M509.8,53.3 C514.2,50.9 517.8,54.3 522.3,53.1 S526.6,51.3 527.6,51.9 L527.6,61.3 C526.6,60.7 524.9,62.7 522.3,62.5 S514.2,60.3 509.8,62.7Z" fill="#a8e0f8"/><path d="M509.8,53.2 C514.2,50.8 517.8,54.2 522.3,53.0 S526.6,51.2 527.6,51.8 L527.6,55.6 C526.6,55.0 524.9,57.0 522.3,56.8 S514.2,54.6 509.8,57.0Z" fill="#2a8cc6"/><path d="M509.8,59.0 C514.2,56.6 517.8,60.0 522.3,58.8 S526.6,57.0 527.6,57.6 L527.6,61.4 C526.6,60.8 524.9,62.8 522.3,62.6 S514.2,60.4 509.8,62.8Z" fill="#2a8cc6"/>
<rect x="49.5" y="38.9" width="302.3" height="557.5" fill="none" stroke="#666" stroke-width="1"/>
<rect x="492.6" y="38.1" width="301.5" height="557" fill="none" stroke="#666" stroke-width="1"/>
<line x1="49" y1="38.6" x2="352.3" y2="38.6" stroke="#888" stroke-width="1.6"/>
<line x1="492.1" y1="37.9" x2="794.6" y2="37.9" stroke="#888" stroke-width="1.6"/>
<line x1="46.2" y1="113.4" x2="49.5" y2="113.4" stroke="#555" stroke-width="0.9"/>
<text x="22.8" y="117.8" font-size="12" fill="#383838" stroke="#fff" stroke-width="0.22" textLength="19.3" lengthAdjust="spacingAndGlyphs">25S</text>
<line x1="46.2" y1="188.8" x2="49.5" y2="188.8" stroke="#555" stroke-width="0.9"/>
<text x="22.8" y="193.2" font-size="12" fill="#383838" stroke="#fff" stroke-width="0.22" textLength="19.3" lengthAdjust="spacingAndGlyphs">30S</text>
<line x1="46.2" y1="264.1" x2="49.5" y2="264.1" stroke="#555" stroke-width="0.9"/>
<text x="22.8" y="268.5" font-size="12" fill="#383838" stroke="#fff" stroke-width="0.22" textLength="19.3" lengthAdjust="spacingAndGlyphs">35S</text>
<line x1="46.2" y1="339.4" x2="49.5" y2="339.4" stroke="#555" stroke-width="0.9"/>
<text x="22.8" y="343.8" font-size="12" fill="#383838" stroke="#fff" stroke-width="0.22" textLength="19.3" lengthAdjust="spacingAndGlyphs">40S</text>
<line x1="46.2" y1="414.8" x2="49.5" y2="414.8" stroke="#555" stroke-width="0.9"/>
<text x="22.8" y="419.2" font-size="12" fill="#383838" stroke="#fff" stroke-width="0.22" textLength="19.3" lengthAdjust="spacingAndGlyphs">45S</text>
<line x1="46.2" y1="490.1" x2="49.5" y2="490.1" stroke="#555" stroke-width="0.9"/>
<text x="22.8" y="494.5" font-size="12" fill="#383838" stroke="#fff" stroke-width="0.22" textLength="19.3" lengthAdjust="spacingAndGlyphs">50S</text>
<line x1="46.2" y1="565.5" x2="49.5" y2="565.5" stroke="#555" stroke-width="0.9"/>
<text x="22.8" y="569.9" font-size="12" fill="#383838" stroke="#fff" stroke-width="0.22" textLength="19.3" lengthAdjust="spacingAndGlyphs">55S</text>
<line x1="489.3" y1="38.0" x2="492.6" y2="38.0" stroke="#555" stroke-width="0.9"/>
<text x="466" y="42.4" font-size="12" fill="#383838" stroke="#fff" stroke-width="0.22" textLength="19.3" lengthAdjust="spacingAndGlyphs">20S</text>
<line x1="489.3" y1="113.3" x2="492.6" y2="113.3" stroke="#555" stroke-width="0.9"/>
<text x="466" y="117.8" font-size="12" fill="#383838" stroke="#fff" stroke-width="0.22" textLength="19.3" lengthAdjust="spacingAndGlyphs">25S</text>
<line x1="489.3" y1="188.7" x2="492.6" y2="188.7" stroke="#555" stroke-width="0.9"/>
<text x="466" y="193.1" font-size="12" fill="#383838" stroke="#fff" stroke-width="0.22" textLength="19.3" lengthAdjust="spacingAndGlyphs">30S</text>
<line x1="489.3" y1="264.0" x2="492.6" y2="264.0" stroke="#555" stroke-width="0.9"/>
<text x="466" y="268.4" font-size="12" fill="#383838" stroke="#fff" stroke-width="0.22" textLength="19.3" lengthAdjust="spacingAndGlyphs">35S</text>
<line x1="489.3" y1="339.4" x2="492.6" y2="339.4" stroke="#555" stroke-width="0.9"/>
<text x="466" y="343.8" font-size="12" fill="#383838" stroke="#fff" stroke-width="0.22" textLength="19.3" lengthAdjust="spacingAndGlyphs">40S</text>
<line x1="489.3" y1="414.8" x2="492.6" y2="414.8" stroke="#555" stroke-width="0.9"/>
<text x="466" y="419.1" font-size="12" fill="#383838" stroke="#fff" stroke-width="0.22" textLength="19.3" lengthAdjust="spacingAndGlyphs">45S</text>
<line x1="489.3" y1="490.1" x2="492.6" y2="490.1" stroke="#555" stroke-width="0.9"/>
<text x="466" y="494.5" font-size="12" fill="#383838" stroke="#fff" stroke-width="0.22" textLength="19.3" lengthAdjust="spacingAndGlyphs">50S</text>
<line x1="489.3" y1="565.4" x2="492.6" y2="565.4" stroke="#555" stroke-width="0.9"/>
<text x="466" y="569.8" font-size="12" fill="#383838" stroke="#fff" stroke-width="0.22" textLength="19.3" lengthAdjust="spacingAndGlyphs">55S</text>
<line x1="61.4" y1="596.4" x2="61.4" y2="599.3" stroke="#555" stroke-width="0.9"/>
<text x="51.099999999999994" y="610.8" font-size="12" fill="#383838" stroke="#fff" stroke-width="0.22" textLength="20.7" lengthAdjust="spacingAndGlyphs">75W</text>
<line x1="504.6" y1="595.1" x2="504.6" y2="598" stroke="#555" stroke-width="0.9"/>
<text x="494.3" y="609.6" font-size="12" fill="#383838" stroke="#fff" stroke-width="0.22" textLength="20.7" lengthAdjust="spacingAndGlyphs">75W</text>
<line x1="122.4" y1="596.4" x2="122.4" y2="599.3" stroke="#555" stroke-width="0.9"/>
<text x="112.10000000000001" y="610.8" font-size="12" fill="#383838" stroke="#fff" stroke-width="0.22" textLength="20.7" lengthAdjust="spacingAndGlyphs">70W</text>
<line x1="565.6" y1="595.1" x2="565.6" y2="598" stroke="#555" stroke-width="0.9"/>
<text x="555.3000000000001" y="609.6" font-size="12" fill="#383838" stroke="#fff" stroke-width="0.22" textLength="20.7" lengthAdjust="spacingAndGlyphs">70W</text>
<line x1="183.4" y1="596.4" x2="183.4" y2="599.3" stroke="#555" stroke-width="0.9"/>
<text x="173.1" y="610.8" font-size="12" fill="#383838" stroke="#fff" stroke-width="0.22" textLength="20.7" lengthAdjust="spacingAndGlyphs">65W</text>
<line x1="626.6" y1="595.1" x2="626.6" y2="598" stroke="#555" stroke-width="0.9"/>
<text x="616.3000000000001" y="609.6" font-size="12" fill="#383838" stroke="#fff" stroke-width="0.22" textLength="20.7" lengthAdjust="spacingAndGlyphs">65W</text>
<line x1="244.4" y1="596.4" x2="244.4" y2="599.3" stroke="#555" stroke-width="0.9"/>
<text x="234.1" y="610.8" font-size="12" fill="#383838" stroke="#fff" stroke-width="0.22" textLength="20.7" lengthAdjust="spacingAndGlyphs">60W</text>
<line x1="687.6" y1="595.1" x2="687.6" y2="598" stroke="#555" stroke-width="0.9"/>
<text x="677.3000000000001" y="609.6" font-size="12" fill="#383838" stroke="#fff" stroke-width="0.22" textLength="20.7" lengthAdjust="spacingAndGlyphs">60W</text>
<line x1="305.4" y1="596.4" x2="305.4" y2="599.3" stroke="#555" stroke-width="0.9"/>
<text x="295.09999999999997" y="610.8" font-size="12" fill="#383838" stroke="#fff" stroke-width="0.22" textLength="20.7" lengthAdjust="spacingAndGlyphs">55W</text>
<line x1="748.6" y1="595.1" x2="748.6" y2="598" stroke="#555" stroke-width="0.9"/>
<text x="738.3000000000001" y="609.6" font-size="12" fill="#383838" stroke="#fff" stroke-width="0.22" textLength="20.7" lengthAdjust="spacingAndGlyphs">55W</text>
<text x="51.3" y="12" font-size="13.2" fill="#555" stroke="#fff" stroke-width="0.22" textLength="298.7" lengthAdjust="spacing">Pronostico de precipitacion acumulada</text>
<text x="5.5" y="30" font-size="13.2" fill="#555" stroke="#fff" stroke-width="0.22" textLength="415.0" lengthAdjust="spacing">Semana 1: del 19 de mayo al 25 de mayo de 2025</text>
<text x="511" y="11" font-size="13.2" fill="#555" stroke="#fff" stroke-width="0.22" textLength="261.0" lengthAdjust="spacing">Pronostico de Temperatura media</text>
<text x="448.5" y="29" font-size="13.2" fill="#555" stroke="#fff" stroke-width="0.22" textLength="418.5" lengthAdjust="spacing">Semana 1: del 19 de mayo al 25 de mayo del 2025</text>
<path d="M361.1,118.1 L368.0,83.7 L374.8,118.1Z" fill="#b41e28"/>
<rect x="361.1" y="118.10" width="13.7" height="35.49" fill="#cd3237"/>
<rect x="361.1" y="153.29" width="13.7" height="35.49" fill="#e6646e"/>
<rect x="361.1" y="188.48" width="13.7" height="35.49" fill="#f5a0a5"/>
<rect x="361.1" y="223.67" width="13.7" height="35.49" fill="#fcc8cd"/>
<rect x="361.1" y="258.86" width="13.7" height="35.49" fill="#1978b9"/>
<rect x="361.1" y="294.05" width="13.7" height="35.49" fill="#2d91d2"/>
<rect x="361.1" y="329.24" width="13.7" height="35.49" fill="#5fb4f5"/>
<rect x="361.1" y="364.43" width="13.7" height="35.49" fill="#b4f0ff"/>
<rect x="361.1" y="399.62" width="13.7" height="35.49" fill="#1eb41e"/>
<rect x="361.1" y="434.81" width="13.7" height="35.49" fill="#50e650"/>
<rect x="361.1" y="470.00" width="13.7" height="35.49" fill="#b4faaa"/>
<path d="M361.1,505.2 L368.0,539.5 L374.8,505.2Z" fill="#f7e6d2"/>
<path d="M361.1,505.2 L368.0,539.5" fill="none" stroke="#555" stroke-width="0.6"/>
<line x1="361.1" y1="118.1" x2="374.8" y2="118.1" stroke="#555" stroke-width="0.5"/>
<text x="380.3" y="122.5" font-size="12" fill="#848484" stroke="#fff" stroke-width="0.22" textLength="22.0" lengthAdjust="spacing">150</text>
<line x1="361.1" y1="153.3" x2="374.8" y2="153.3" stroke="#555" stroke-width="0.5"/>
<text x="380.3" y="157.7" font-size="12" fill="#848484" stroke="#fff" stroke-width="0.22" textLength="22.0" lengthAdjust="spacing">120</text>
<line x1="361.1" y1="188.5" x2="374.8" y2="188.5" stroke="#555" stroke-width="0.5"/>
<text x="380.3" y="192.9" font-size="12" fill="#848484" stroke="#fff" stroke-width="0.22" textLength="22.0" lengthAdjust="spacing">100</text>
<line x1="361.1" y1="223.7" x2="374.8" y2="223.7" stroke="#555" stroke-width="0.5"/>
<text x="380.3" y="228.1" font-size="12" fill="#848484" stroke="#fff" stroke-width="0.22" textLength="14.0" lengthAdjust="spacing">80</text>
<line x1="361.1" y1="258.9" x2="374.8" y2="258.9" stroke="#555" stroke-width="0.5"/>
<text x="380.3" y="263.3" font-size="12" fill="#848484" stroke="#fff" stroke-width="0.22" textLength="14.0" lengthAdjust="spacing">60</text>
<line x1="361.1" y1="294.0" x2="374.8" y2="294.0" stroke="#555" stroke-width="0.5"/>
<text x="380.3" y="298.4" font-size="12" fill="#848484" stroke="#fff" stroke-width="0.22" textLength="14.0" lengthAdjust="spacing">50</text>
<line x1="361.1" y1="329.2" x2="374.8" y2="329.2" stroke="#555" stroke-width="0.5"/>
<text x="380.3" y="333.6" font-size="12" fill="#848484" stroke="#fff" stroke-width="0.22" textLength="14.0" lengthAdjust="spacing">40</text>
<line x1="361.1" y1="364.4" x2="374.8" y2="364.4" stroke="#555" stroke-width="0.5"/>
<text x="380.3" y="368.8" font-size="12" fill="#848484" stroke="#fff" stroke-width="0.22" textLength="14.0" lengthAdjust="spacing">30</text>
<line x1="361.1" y1="399.6" x2="374.8" y2="399.6" stroke="#555" stroke-width="0.5"/>
<text x="380.3" y="404.0" font-size="12" fill="#848484" stroke="#fff" stroke-width="0.22" textLength="14.0" lengthAdjust="spacing">20</text>
<line x1="361.1" y1="434.8" x2="374.8" y2="434.8" stroke="#555" stroke-width="0.5"/>
<text x="380.3" y="439.2" font-size="12" fill="#848484" stroke="#fff" stroke-width="0.22" textLength="14.0" lengthAdjust="spacing">15</text>
<line x1="361.1" y1="470.0" x2="374.8" y2="470.0" stroke="#555" stroke-width="0.5"/>
<text x="380.3" y="474.4" font-size="12" fill="#848484" stroke="#fff" stroke-width="0.22" textLength="14.0" lengthAdjust="spacing">10</text>
<line x1="361.1" y1="505.2" x2="374.8" y2="505.2" stroke="#555" stroke-width="0.5"/>
<text x="380.3" y="509.6" font-size="12" fill="#848484" stroke="#fff" stroke-width="0.22" textLength="6.5" lengthAdjust="spacing">5</text>
<path d="M805.3,69.0 L811.3,40.7 L817.3,69.0Z" fill="#a01e28"/>
<rect x="805.3" y="69.00" width="12.0" height="28.80" fill="#c0000f"/>
<rect x="805.3" y="97.50" width="12.0" height="28.80" fill="#ff3c14"/>
<rect x="805.3" y="126.00" width="12.0" height="28.80" fill="#ffa014"/>
<rect x="805.3" y="154.50" width="12.0" height="28.80" fill="#ffe178"/>
<rect x="805.3" y="183.00" width="12.0" height="28.80" fill="#fffaaa"/>
<rect x="805.3" y="211.50" width="12.0" height="28.80" fill="#1eaa28"/>
<rect x="805.3" y="240.00" width="12.0" height="28.80" fill="#37d23c"/>
<rect x="805.3" y="268.50" width="12.0" height="28.80" fill="#78f573"/>
<rect x="805.3" y="297.00" width="12.0" height="28.80" fill="#b4faaa"/>
<rect x="805.3" y="325.50" width="12.0" height="28.80" fill="#e6ffe1"/>
<rect x="805.3" y="354.00" width="12.0" height="28.80" fill="#c8faff"/>
<rect x="805.3" y="382.50" width="12.0" height="28.80" fill="#afebfa"/>
<rect x="805.3" y="411.00" width="12.0" height="28.80" fill="#5fb4f0"/>
<rect x="805.3" y="439.50" width="12.0" height="28.80" fill="#37a0e1"/>
<rect x="805.3" y="468.00" width="12.0" height="28.80" fill="#1e87c3"/>
<rect x="805.3" y="496.50" width="12.0" height="28.80" fill="#6e5fd7"/>
<rect x="805.3" y="525.00" width="12.0" height="28.80" fill="#3c28b4"/>
<path d="M805.3,553.5 L811.3,581.6 L817.3,553.5Z" fill="#280096"/>
<line x1="805.3" y1="69.0" x2="817.3" y2="69.0" stroke="#555" stroke-width="0.5"/>
<text x="821" y="73.4" font-size="12" fill="#848484" stroke="#fff" stroke-width="0.22" textLength="14.0" lengthAdjust="spacing">30</text>
<line x1="805.3" y1="97.5" x2="817.3" y2="97.5" stroke="#555" stroke-width="0.5"/>
<text x="821" y="101.9" font-size="12" fill="#848484" stroke="#fff" stroke-width="0.22" textLength="14.0" lengthAdjust="spacing">28</text>
<line x1="805.3" y1="126.0" x2="817.3" y2="126.0" stroke="#555" stroke-width="0.5"/>
<text x="821" y="130.4" font-size="12" fill="#848484" stroke="#fff" stroke-width="0.22" textLength="14.0" lengthAdjust="spacing">26</text>
<line x1="805.3" y1="154.5" x2="817.3" y2="154.5" stroke="#555" stroke-width="0.5"/>
<text x="821" y="158.9" font-size="12" fill="#848484" stroke="#fff" stroke-width="0.22" textLength="14.0" lengthAdjust="spacing">24</text>
<line x1="805.3" y1="183.0" x2="817.3" y2="183.0" stroke="#555" stroke-width="0.5"/>
<text x="821" y="187.4" font-size="12" fill="#848484" stroke="#fff" stroke-width="0.22" textLength="14.0" lengthAdjust="spacing">22</text>
<line x1="805.3" y1="211.5" x2="817.3" y2="211.5" stroke="#555" stroke-width="0.5"/>
<text x="821" y="215.9" font-size="12" fill="#848484" stroke="#fff" stroke-width="0.22" textLength="14.0" lengthAdjust="spacing">20</text>
<line x1="805.3" y1="240.0" x2="817.3" y2="240.0" stroke="#555" stroke-width="0.5"/>
<text x="821" y="244.4" font-size="12" fill="#848484" stroke="#fff" stroke-width="0.22" textLength="14.0" lengthAdjust="spacing">18</text>
<line x1="805.3" y1="268.5" x2="817.3" y2="268.5" stroke="#555" stroke-width="0.5"/>
<text x="821" y="272.9" font-size="12" fill="#848484" stroke="#fff" stroke-width="0.22" textLength="14.0" lengthAdjust="spacing">16</text>
<line x1="805.3" y1="297.0" x2="817.3" y2="297.0" stroke="#555" stroke-width="0.5"/>
<text x="821" y="301.4" font-size="12" fill="#848484" stroke="#fff" stroke-width="0.22" textLength="14.0" lengthAdjust="spacing">14</text>
<line x1="805.3" y1="325.5" x2="817.3" y2="325.5" stroke="#555" stroke-width="0.5"/>
<text x="821" y="329.9" font-size="12" fill="#848484" stroke="#fff" stroke-width="0.22" textLength="14.0" lengthAdjust="spacing">12</text>
<line x1="805.3" y1="354.0" x2="817.3" y2="354.0" stroke="#555" stroke-width="0.5"/>
<text x="821" y="358.4" font-size="12" fill="#848484" stroke="#fff" stroke-width="0.22" textLength="14.0" lengthAdjust="spacing">10</text>
<line x1="805.3" y1="382.5" x2="817.3" y2="382.5" stroke="#555" stroke-width="0.5"/>
<text x="821" y="386.9" font-size="12" fill="#848484" stroke="#fff" stroke-width="0.22" textLength="6.5" lengthAdjust="spacing">8</text>
<line x1="805.3" y1="411.0" x2="817.3" y2="411.0" stroke="#555" stroke-width="0.5"/>
<text x="821" y="415.4" font-size="12" fill="#848484" stroke="#fff" stroke-width="0.22" textLength="6.5" lengthAdjust="spacing">6</text>
<line x1="805.3" y1="439.5" x2="817.3" y2="439.5" stroke="#555" stroke-width="0.5"/>
<text x="821" y="443.9" font-size="12" fill="#848484" stroke="#fff" stroke-width="0.22" textLength="6.5" lengthAdjust="spacing">4</text>
<line x1="805.3" y1="468.0" x2="817.3" y2="468.0" stroke="#555" stroke-width="0.5"/>
<text x="821" y="472.4" font-size="12" fill="#848484" stroke="#fff" stroke-width="0.22" textLength="6.5" lengthAdjust="spacing">2</text>
<line x1="805.3" y1="496.5" x2="817.3" y2="496.5" stroke="#555" stroke-width="0.5"/>
<text x="821" y="500.9" font-size="12" fill="#848484" stroke="#fff" stroke-width="0.22" textLength="6.5" lengthAdjust="spacing">0</text>
<line x1="805.3" y1="525.0" x2="817.3" y2="525.0" stroke="#555" stroke-width="0.5"/>
<line x1="820.5" y1="525.0" x2="825.5" y2="525.0" stroke="#8a8a8a" stroke-width="0.9"/>
<text x="828" y="529.4" font-size="12" fill="#848484" stroke="#fff" stroke-width="0.22" textLength="6.5" lengthAdjust="spacing">2</text>
<line x1="805.3" y1="553.5" x2="817.3" y2="553.5" stroke="#555" stroke-width="0.5"/>
<line x1="820.5" y1="553.5" x2="825.5" y2="553.5" stroke="#8a8a8a" stroke-width="0.9"/>
<text x="828" y="557.9" font-size="12" fill="#848484" stroke="#fff" stroke-width="0.22" textLength="6.5" lengthAdjust="spacing">4</text>
</svg></body></html>
